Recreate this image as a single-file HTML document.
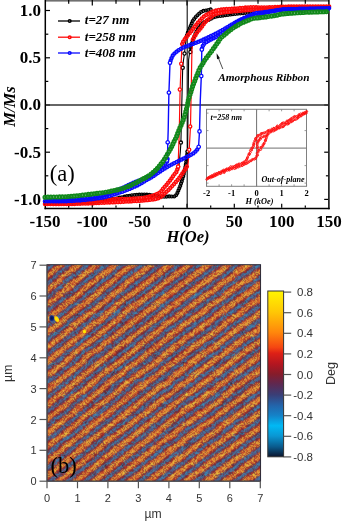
<!DOCTYPE html>
<html><head><meta charset="utf-8"><style>
html,body{margin:0;padding:0;background:#fff;width:342px;height:523px;overflow:hidden}
svg{display:block;will-change:transform}
</style></head><body>
<svg width="342" height="523" viewBox="0 0 342 523">
<rect x="45" y="0" width="284" height="1.6" fill="#707070"/>
<line x1="45.3" y1="0" x2="45.3" y2="209.2" stroke="#000" stroke-width="1.5"/>
<line x1="328.9" y1="0" x2="328.9" y2="209.2" stroke="#000" stroke-width="1.5"/>
<line x1="44.5" y1="208.5" x2="329.7" y2="208.5" stroke="#000" stroke-width="1.5"/>
<line x1="68.7" y1="207.8" x2="68.7" y2="205.5" stroke="#000" stroke-width="1.2"/>
<line x1="68.7" y1="0" x2="68.7" y2="3.8" stroke="#000" stroke-width="1.2"/>
<line x1="92.3" y1="207.8" x2="92.3" y2="203.8" stroke="#000" stroke-width="1.2"/>
<line x1="92.3" y1="0" x2="92.3" y2="5.5" stroke="#000" stroke-width="1.2"/>
<line x1="116.0" y1="207.8" x2="116.0" y2="205.5" stroke="#000" stroke-width="1.2"/>
<line x1="116.0" y1="0" x2="116.0" y2="3.8" stroke="#000" stroke-width="1.2"/>
<line x1="139.7" y1="207.8" x2="139.7" y2="203.8" stroke="#000" stroke-width="1.2"/>
<line x1="139.7" y1="0" x2="139.7" y2="5.5" stroke="#000" stroke-width="1.2"/>
<line x1="163.3" y1="207.8" x2="163.3" y2="205.5" stroke="#000" stroke-width="1.2"/>
<line x1="163.3" y1="0" x2="163.3" y2="3.8" stroke="#000" stroke-width="1.2"/>
<line x1="187.0" y1="207.8" x2="187.0" y2="203.8" stroke="#000" stroke-width="1.2"/>
<line x1="187.0" y1="0" x2="187.0" y2="5.5" stroke="#000" stroke-width="1.2"/>
<line x1="210.7" y1="207.8" x2="210.7" y2="205.5" stroke="#000" stroke-width="1.2"/>
<line x1="210.7" y1="0" x2="210.7" y2="3.8" stroke="#000" stroke-width="1.2"/>
<line x1="234.3" y1="207.8" x2="234.3" y2="203.8" stroke="#000" stroke-width="1.2"/>
<line x1="234.3" y1="0" x2="234.3" y2="5.5" stroke="#000" stroke-width="1.2"/>
<line x1="258.0" y1="207.8" x2="258.0" y2="205.5" stroke="#000" stroke-width="1.2"/>
<line x1="258.0" y1="0" x2="258.0" y2="3.8" stroke="#000" stroke-width="1.2"/>
<line x1="281.7" y1="207.8" x2="281.7" y2="203.8" stroke="#000" stroke-width="1.2"/>
<line x1="281.7" y1="0" x2="281.7" y2="5.5" stroke="#000" stroke-width="1.2"/>
<line x1="305.3" y1="207.8" x2="305.3" y2="205.5" stroke="#000" stroke-width="1.2"/>
<line x1="305.3" y1="0" x2="305.3" y2="3.8" stroke="#000" stroke-width="1.2"/>
<line x1="46" y1="199.4" x2="50.0" y2="199.4" stroke="#000" stroke-width="1.2"/>
<line x1="328.2" y1="199.4" x2="324.2" y2="199.4" stroke="#000" stroke-width="1.2"/>
<line x1="46" y1="175.8" x2="48.3" y2="175.8" stroke="#000" stroke-width="1.2"/>
<line x1="328.2" y1="175.8" x2="325.9" y2="175.8" stroke="#000" stroke-width="1.2"/>
<line x1="46" y1="152.2" x2="50.0" y2="152.2" stroke="#000" stroke-width="1.2"/>
<line x1="328.2" y1="152.2" x2="324.2" y2="152.2" stroke="#000" stroke-width="1.2"/>
<line x1="46" y1="128.6" x2="48.3" y2="128.6" stroke="#000" stroke-width="1.2"/>
<line x1="328.2" y1="128.6" x2="325.9" y2="128.6" stroke="#000" stroke-width="1.2"/>
<line x1="46" y1="105.0" x2="50.0" y2="105.0" stroke="#000" stroke-width="1.2"/>
<line x1="328.2" y1="105.0" x2="324.2" y2="105.0" stroke="#000" stroke-width="1.2"/>
<line x1="46" y1="81.4" x2="48.3" y2="81.4" stroke="#000" stroke-width="1.2"/>
<line x1="328.2" y1="81.4" x2="325.9" y2="81.4" stroke="#000" stroke-width="1.2"/>
<line x1="46" y1="57.8" x2="50.0" y2="57.8" stroke="#000" stroke-width="1.2"/>
<line x1="328.2" y1="57.8" x2="324.2" y2="57.8" stroke="#000" stroke-width="1.2"/>
<line x1="46" y1="34.2" x2="48.3" y2="34.2" stroke="#000" stroke-width="1.2"/>
<line x1="328.2" y1="34.2" x2="325.9" y2="34.2" stroke="#000" stroke-width="1.2"/>
<line x1="46" y1="10.5" x2="50.0" y2="10.5" stroke="#000" stroke-width="1.2"/>
<line x1="328.2" y1="10.5" x2="324.2" y2="10.5" stroke="#000" stroke-width="1.2"/>
<line x1="46" y1="105" x2="328.2" y2="105" stroke="#333" stroke-width="1.5"/>
<line x1="187.2" y1="1" x2="187.2" y2="208" stroke="#111" stroke-width="1.1"/>
<text x="41" y="15.8" font-family="&quot;Liberation Serif&quot;, serif" font-weight="bold" font-size="17" text-anchor="end">1.0</text>
<text x="41" y="63.1" font-family="&quot;Liberation Serif&quot;, serif" font-weight="bold" font-size="17" text-anchor="end">0.5</text>
<text x="41" y="110.3" font-family="&quot;Liberation Serif&quot;, serif" font-weight="bold" font-size="17" text-anchor="end">0.0</text>
<text x="41" y="157.5" font-family="&quot;Liberation Serif&quot;, serif" font-weight="bold" font-size="17" text-anchor="end">-0.5</text>
<text x="41" y="204.8" font-family="&quot;Liberation Serif&quot;, serif" font-weight="bold" font-size="17" text-anchor="end">-1.0</text>
<text x="45.0" y="227.4" font-family="&quot;Liberation Serif&quot;, serif" font-weight="bold" font-size="17" text-anchor="middle">-150</text>
<text x="92.3" y="227.4" font-family="&quot;Liberation Serif&quot;, serif" font-weight="bold" font-size="17" text-anchor="middle">-100</text>
<text x="139.7" y="227.4" font-family="&quot;Liberation Serif&quot;, serif" font-weight="bold" font-size="17" text-anchor="middle">-50</text>
<text x="187.0" y="227.4" font-family="&quot;Liberation Serif&quot;, serif" font-weight="bold" font-size="17" text-anchor="middle">0</text>
<text x="234.3" y="227.4" font-family="&quot;Liberation Serif&quot;, serif" font-weight="bold" font-size="17" text-anchor="middle">50</text>
<text x="281.7" y="227.4" font-family="&quot;Liberation Serif&quot;, serif" font-weight="bold" font-size="17" text-anchor="middle">100</text>
<text x="329.0" y="227.4" font-family="&quot;Liberation Serif&quot;, serif" font-weight="bold" font-size="17" text-anchor="middle">150</text>
<text x="188" y="241.5" font-family="&quot;Liberation Serif&quot;, serif" font-weight="bold" font-style="italic" font-size="16.5" text-anchor="middle">H(Oe)</text>
<text x="0" y="0" font-family="&quot;Liberation Serif&quot;, serif" font-weight="bold" font-style="italic" font-size="16.6" text-anchor="middle" transform="translate(15.3 106.5) rotate(-90)">M/Ms</text>
<text x="49.8" y="181.3" font-family="&quot;Liberation Serif&quot;, serif" font-size="22.5">(a)</text>
<polyline points="45.0,203.0 48.6,203.0 53.6,202.9 59.5,202.9 66.1,202.9 72.8,202.8 79.2,202.7 85.1,202.5 90.0,202.3 94.0,202.0 97.4,201.7 100.5,201.3 103.2,200.8 105.8,200.4 108.2,199.9 110.6,199.4 113.0,199.0 115.4,198.6 117.7,198.1 119.9,197.6 122.0,197.2 124.0,196.7 126.0,196.3 128.0,195.9 130.0,195.6 132.0,195.3 133.9,195.1 135.7,194.9 137.5,194.7 139.3,194.6 141.2,194.5 143.1,194.5 145.0,194.5 147.1,194.6 149.3,194.9 151.5,195.2 153.8,195.5 156.0,195.8 158.1,196.2 160.0,196.4 161.7,196.6 163.2,196.7 164.4,196.7 165.6,196.7 166.6,196.6 167.5,196.6 168.4,196.5 169.2,196.4 170.0,196.4 170.8,196.4 171.5,196.4 172.2,196.5 172.8,196.6 173.4,196.6 174.0,196.5 174.5,196.4 175.0,196.2 175.5,195.9 175.9,195.5 176.2,195.0 176.6,194.4 176.9,193.8 177.2,193.2 177.5,192.6 177.8,192.0 178.1,191.4 178.4,190.7 178.7,190.1 179.0,189.4 179.2,188.7 179.5,187.9 179.7,187.2 180.0,186.5 180.3,185.8 180.5,185.0 180.8,184.3 181.0,183.6 181.3,182.8 181.5,182.0 181.8,181.3 182.0,180.5 182.2,179.7 182.5,178.9 182.7,178.1 182.9,177.3 183.2,176.5 183.4,175.7 183.6,174.8 183.8,174.0 184.0,173.2 184.2,172.3 184.4,171.5 184.6,170.6 184.8,169.7 184.9,168.8 185.1,167.9 185.3,167.0 185.5,166.0 185.6,165.1 185.8,164.1 186.0,163.0 186.1,162.0 186.3,161.0 186.5,160.0 186.6,159.0 186.7,158.0 186.9,156.9 187.0,155.8 187.2,154.8 187.3,153.7 187.4,152.8 187.5,152.1 187.6,151.5" fill="none" stroke="#000" stroke-width="1" stroke-linejoin="round"/>
<path d="M43.6,203.0a1.4,1.4 0 1,0 2.8,0a1.4,1.4 0 1,0 -2.8,0M46.1,203.0a1.4,1.4 0 1,0 2.8,0a1.4,1.4 0 1,0 -2.8,0M48.6,203.0a1.4,1.4 0 1,0 2.8,0a1.4,1.4 0 1,0 -2.8,0M51.1,202.9a1.4,1.4 0 1,0 2.8,0a1.4,1.4 0 1,0 -2.8,0M53.6,202.9a1.4,1.4 0 1,0 2.8,0a1.4,1.4 0 1,0 -2.8,0M56.1,202.9a1.4,1.4 0 1,0 2.8,0a1.4,1.4 0 1,0 -2.8,0M58.6,202.9a1.4,1.4 0 1,0 2.8,0a1.4,1.4 0 1,0 -2.8,0M61.1,202.9a1.4,1.4 0 1,0 2.8,0a1.4,1.4 0 1,0 -2.8,0M63.6,202.9a1.4,1.4 0 1,0 2.8,0a1.4,1.4 0 1,0 -2.8,0M66.1,202.8a1.4,1.4 0 1,0 2.8,0a1.4,1.4 0 1,0 -2.8,0M68.6,202.8a1.4,1.4 0 1,0 2.8,0a1.4,1.4 0 1,0 -2.8,0M71.1,202.8a1.4,1.4 0 1,0 2.8,0a1.4,1.4 0 1,0 -2.8,0M73.6,202.7a1.4,1.4 0 1,0 2.8,0a1.4,1.4 0 1,0 -2.8,0M76.1,202.7a1.4,1.4 0 1,0 2.8,0a1.4,1.4 0 1,0 -2.8,0M78.6,202.7a1.4,1.4 0 1,0 2.8,0a1.4,1.4 0 1,0 -2.8,0M81.1,202.6a1.4,1.4 0 1,0 2.8,0a1.4,1.4 0 1,0 -2.8,0M83.6,202.5a1.4,1.4 0 1,0 2.8,0a1.4,1.4 0 1,0 -2.8,0M86.1,202.4a1.4,1.4 0 1,0 2.8,0a1.4,1.4 0 1,0 -2.8,0M88.6,202.3a1.4,1.4 0 1,0 2.8,0a1.4,1.4 0 1,0 -2.8,0M91.1,202.1a1.4,1.4 0 1,0 2.8,0a1.4,1.4 0 1,0 -2.8,0M93.6,201.9a1.4,1.4 0 1,0 2.8,0a1.4,1.4 0 1,0 -2.8,0M96.1,201.7a1.4,1.4 0 1,0 2.8,0a1.4,1.4 0 1,0 -2.8,0M98.5,201.3a1.4,1.4 0 1,0 2.8,0a1.4,1.4 0 1,0 -2.8,0M101.0,201.0a1.4,1.4 0 1,0 2.8,0a1.4,1.4 0 1,0 -2.8,0M103.5,200.5a1.4,1.4 0 1,0 2.8,0a1.4,1.4 0 1,0 -2.8,0M105.9,200.1a1.4,1.4 0 1,0 2.8,0a1.4,1.4 0 1,0 -2.8,0M108.4,199.6a1.4,1.4 0 1,0 2.8,0a1.4,1.4 0 1,0 -2.8,0M110.8,199.1a1.4,1.4 0 1,0 2.8,0a1.4,1.4 0 1,0 -2.8,0M113.3,198.7a1.4,1.4 0 1,0 2.8,0a1.4,1.4 0 1,0 -2.8,0M115.8,198.2a1.4,1.4 0 1,0 2.8,0a1.4,1.4 0 1,0 -2.8,0M118.2,197.7a1.4,1.4 0 1,0 2.8,0a1.4,1.4 0 1,0 -2.8,0M120.6,197.2a1.4,1.4 0 1,0 2.8,0a1.4,1.4 0 1,0 -2.8,0M123.1,196.6a1.4,1.4 0 1,0 2.8,0a1.4,1.4 0 1,0 -2.8,0M125.5,196.1a1.4,1.4 0 1,0 2.8,0a1.4,1.4 0 1,0 -2.8,0M128.0,195.7a1.4,1.4 0 1,0 2.8,0a1.4,1.4 0 1,0 -2.8,0M130.5,195.3a1.4,1.4 0 1,0 2.8,0a1.4,1.4 0 1,0 -2.8,0M133.0,195.0a1.4,1.4 0 1,0 2.8,0a1.4,1.4 0 1,0 -2.8,0M135.4,194.8a1.4,1.4 0 1,0 2.8,0a1.4,1.4 0 1,0 -2.8,0M137.9,194.6a1.4,1.4 0 1,0 2.8,0a1.4,1.4 0 1,0 -2.8,0M140.4,194.5a1.4,1.4 0 1,0 2.8,0a1.4,1.4 0 1,0 -2.8,0M142.9,194.5a1.4,1.4 0 1,0 2.8,0a1.4,1.4 0 1,0 -2.8,0M145.4,194.6a1.4,1.4 0 1,0 2.8,0a1.4,1.4 0 1,0 -2.8,0M147.9,194.9a1.4,1.4 0 1,0 2.8,0a1.4,1.4 0 1,0 -2.8,0M150.4,195.2a1.4,1.4 0 1,0 2.8,0a1.4,1.4 0 1,0 -2.8,0M152.9,195.6a1.4,1.4 0 1,0 2.8,0a1.4,1.4 0 1,0 -2.8,0M155.3,196.0a1.4,1.4 0 1,0 2.8,0a1.4,1.4 0 1,0 -2.8,0M157.8,196.3a1.4,1.4 0 1,0 2.8,0a1.4,1.4 0 1,0 -2.8,0M160.3,196.6a1.4,1.4 0 1,0 2.8,0a1.4,1.4 0 1,0 -2.8,0M162.8,196.7a1.4,1.4 0 1,0 2.8,0a1.4,1.4 0 1,0 -2.8,0M165.3,196.6a1.4,1.4 0 1,0 2.8,0a1.4,1.4 0 1,0 -2.8,0M167.8,196.4a1.4,1.4 0 1,0 2.8,0a1.4,1.4 0 1,0 -2.8,0M170.3,196.5a1.4,1.4 0 1,0 2.8,0a1.4,1.4 0 1,0 -2.8,0M172.8,196.5a1.4,1.4 0 1,0 2.8,0a1.4,1.4 0 1,0 -2.8,0M174.8,195.1a1.4,1.4 0 1,0 2.8,0a1.4,1.4 0 1,0 -2.8,0M176.0,192.9a1.4,1.4 0 1,0 2.8,0a1.4,1.4 0 1,0 -2.8,0M177.0,190.6a1.4,1.4 0 1,0 2.8,0a1.4,1.4 0 1,0 -2.8,0M177.9,188.3a1.4,1.4 0 1,0 2.8,0a1.4,1.4 0 1,0 -2.8,0M178.8,186.0a1.4,1.4 0 1,0 2.8,0a1.4,1.4 0 1,0 -2.8,0M179.6,183.6a1.4,1.4 0 1,0 2.8,0a1.4,1.4 0 1,0 -2.8,0M180.4,181.2a1.4,1.4 0 1,0 2.8,0a1.4,1.4 0 1,0 -2.8,0M181.1,178.8a1.4,1.4 0 1,0 2.8,0a1.4,1.4 0 1,0 -2.8,0M181.8,176.4a1.4,1.4 0 1,0 2.8,0a1.4,1.4 0 1,0 -2.8,0M182.4,174.0a1.4,1.4 0 1,0 2.8,0a1.4,1.4 0 1,0 -2.8,0M183.0,171.6a1.4,1.4 0 1,0 2.8,0a1.4,1.4 0 1,0 -2.8,0M183.5,169.1a1.4,1.4 0 1,0 2.8,0a1.4,1.4 0 1,0 -2.8,0M184.0,166.7a1.4,1.4 0 1,0 2.8,0a1.4,1.4 0 1,0 -2.8,0M184.4,164.2a1.4,1.4 0 1,0 2.8,0a1.4,1.4 0 1,0 -2.8,0M184.8,161.7a1.4,1.4 0 1,0 2.8,0a1.4,1.4 0 1,0 -2.8,0M185.2,159.3a1.4,1.4 0 1,0 2.8,0a1.4,1.4 0 1,0 -2.8,0M185.5,156.8a1.4,1.4 0 1,0 2.8,0a1.4,1.4 0 1,0 -2.8,0M185.8,154.3a1.4,1.4 0 1,0 2.8,0a1.4,1.4 0 1,0 -2.8,0M186.2,151.8a1.4,1.4 0 1,0 2.8,0a1.4,1.4 0 1,0 -2.8,0" fill="none" stroke="#000" stroke-width="1.35"/>
<polyline points="190.4,48.0 190.5,47.6 190.7,47.1 190.8,46.6 191.0,45.9 191.3,45.2 191.5,44.5 191.7,43.8 192.0,43.0 192.3,42.2 192.5,41.4 192.8,40.5 193.1,39.6 193.4,38.7 193.8,37.8 194.1,36.9 194.5,36.0 194.9,35.1 195.3,34.2 195.7,33.3 196.2,32.4 196.6,31.5 197.1,30.6 197.5,29.8 198.0,29.0 198.5,28.3 199.0,27.6 199.5,26.9 200.0,26.2 200.5,25.6 201.0,25.1 201.5,24.5 202.0,24.0 202.5,23.5 203.0,23.1 203.5,22.7 204.0,22.3 204.5,21.9 205.0,21.6 205.5,21.3 206.0,21.0 206.5,20.7 207.0,20.5 207.5,20.3 207.9,20.1 208.4,19.9 208.9,19.8 209.5,19.5 210.0,19.3 210.5,19.0 211.1,18.7 211.6,18.4 212.1,18.0 212.7,17.7 213.4,17.4 214.1,17.1 215.0,16.8 216.0,16.6 217.1,16.4 218.4,16.2 219.7,16.0 221.0,15.8 222.4,15.6 223.7,15.5 225.0,15.3 226.2,15.1 227.5,14.9 228.8,14.7 230.0,14.6 231.2,14.4 232.5,14.2 233.8,14.1 235.0,13.9 236.2,13.8 237.5,13.6 238.8,13.5 240.0,13.4 241.2,13.3 242.5,13.2 243.8,13.1 245.0,13.0 246.3,12.9 247.7,12.7 249.2,12.6 250.6,12.4 252.0,12.3 253.2,12.2 254.2,12.1 255.0,12.0" fill="none" stroke="#000" stroke-width="1" stroke-linejoin="round"/>
<path d="M189.0,48.0a1.4,1.4 0 1,0 2.8,0a1.4,1.4 0 1,0 -2.8,0M189.7,45.6a1.4,1.4 0 1,0 2.8,0a1.4,1.4 0 1,0 -2.8,0M190.5,43.2a1.4,1.4 0 1,0 2.8,0a1.4,1.4 0 1,0 -2.8,0M191.3,40.9a1.4,1.4 0 1,0 2.8,0a1.4,1.4 0 1,0 -2.8,0M192.1,38.5a1.4,1.4 0 1,0 2.8,0a1.4,1.4 0 1,0 -2.8,0M193.0,36.2a1.4,1.4 0 1,0 2.8,0a1.4,1.4 0 1,0 -2.8,0M194.0,33.9a1.4,1.4 0 1,0 2.8,0a1.4,1.4 0 1,0 -2.8,0M195.1,31.6a1.4,1.4 0 1,0 2.8,0a1.4,1.4 0 1,0 -2.8,0M196.3,29.4a1.4,1.4 0 1,0 2.8,0a1.4,1.4 0 1,0 -2.8,0M197.7,27.4a1.4,1.4 0 1,0 2.8,0a1.4,1.4 0 1,0 -2.8,0M199.3,25.4a1.4,1.4 0 1,0 2.8,0a1.4,1.4 0 1,0 -2.8,0M201.0,23.6a1.4,1.4 0 1,0 2.8,0a1.4,1.4 0 1,0 -2.8,0M203.0,22.0a1.4,1.4 0 1,0 2.8,0a1.4,1.4 0 1,0 -2.8,0M205.1,20.7a1.4,1.4 0 1,0 2.8,0a1.4,1.4 0 1,0 -2.8,0M207.4,19.8a1.4,1.4 0 1,0 2.8,0a1.4,1.4 0 1,0 -2.8,0M209.6,18.7a1.4,1.4 0 1,0 2.8,0a1.4,1.4 0 1,0 -2.8,0M211.8,17.5a1.4,1.4 0 1,0 2.8,0a1.4,1.4 0 1,0 -2.8,0M214.2,16.7a1.4,1.4 0 1,0 2.8,0a1.4,1.4 0 1,0 -2.8,0M216.6,16.2a1.4,1.4 0 1,0 2.8,0a1.4,1.4 0 1,0 -2.8,0M219.1,15.9a1.4,1.4 0 1,0 2.8,0a1.4,1.4 0 1,0 -2.8,0M221.6,15.6a1.4,1.4 0 1,0 2.8,0a1.4,1.4 0 1,0 -2.8,0M224.1,15.2a1.4,1.4 0 1,0 2.8,0a1.4,1.4 0 1,0 -2.8,0M226.5,14.9a1.4,1.4 0 1,0 2.8,0a1.4,1.4 0 1,0 -2.8,0M229.0,14.5a1.4,1.4 0 1,0 2.8,0a1.4,1.4 0 1,0 -2.8,0M231.5,14.2a1.4,1.4 0 1,0 2.8,0a1.4,1.4 0 1,0 -2.8,0M234.0,13.9a1.4,1.4 0 1,0 2.8,0a1.4,1.4 0 1,0 -2.8,0M236.5,13.6a1.4,1.4 0 1,0 2.8,0a1.4,1.4 0 1,0 -2.8,0M238.9,13.4a1.4,1.4 0 1,0 2.8,0a1.4,1.4 0 1,0 -2.8,0M241.4,13.2a1.4,1.4 0 1,0 2.8,0a1.4,1.4 0 1,0 -2.8,0M243.9,13.0a1.4,1.4 0 1,0 2.8,0a1.4,1.4 0 1,0 -2.8,0M246.4,12.7a1.4,1.4 0 1,0 2.8,0a1.4,1.4 0 1,0 -2.8,0M248.9,12.5a1.4,1.4 0 1,0 2.8,0a1.4,1.4 0 1,0 -2.8,0M251.4,12.2a1.4,1.4 0 1,0 2.8,0a1.4,1.4 0 1,0 -2.8,0" fill="none" stroke="#000" stroke-width="1.35"/>
<polyline points="210.7,9.4 210.4,9.5 210.1,9.6 209.6,9.7 209.2,9.8 208.7,10.0 208.2,10.1 207.7,10.2 207.2,10.3 206.8,10.4 206.3,10.4 205.9,10.5 205.4,10.5 205.0,10.5 204.6,10.6 204.1,10.7 203.7,10.8 203.3,11.0 202.8,11.1 202.4,11.3 201.9,11.5 201.5,11.7 201.1,12.0 200.6,12.3 200.2,12.6 199.8,13.0 199.3,13.3 198.9,13.8 198.4,14.2 198.0,14.7 197.6,15.1 197.1,15.6 196.7,16.1 196.3,16.6 195.8,17.1 195.3,17.5 194.9,18.0 194.4,18.5 194.0,19.1 193.6,19.6 193.2,20.2 192.8,20.8 192.5,21.5 192.2,22.2 191.9,22.9 191.6,23.6 191.3,24.2 191.1,24.9 190.8,25.5 190.6,26.1 190.3,26.6 190.1,27.1 190.0,27.6 189.8,28.1 189.6,28.6 189.4,29.0 189.2,29.5 189.0,30.0 188.8,30.4 188.6,30.8 188.4,31.2 188.2,31.6 188.0,32.0 187.8,32.5 187.6,33.0 187.4,33.6 187.2,34.3 187.0,35.0 186.8,35.7 186.7,36.4 186.5,37.1 186.4,37.6 186.3,38.0" fill="none" stroke="#000" stroke-width="1" stroke-linejoin="round"/>
<path d="M209.3,9.4a1.4,1.4 0 1,0 2.8,0a1.4,1.4 0 1,0 -2.8,0M206.9,10.0a1.4,1.4 0 1,0 2.8,0a1.4,1.4 0 1,0 -2.8,0M204.4,10.5a1.4,1.4 0 1,0 2.8,0a1.4,1.4 0 1,0 -2.8,0M202.0,10.9a1.4,1.4 0 1,0 2.8,0a1.4,1.4 0 1,0 -2.8,0M199.7,12.0a1.4,1.4 0 1,0 2.8,0a1.4,1.4 0 1,0 -2.8,0M197.8,13.5a1.4,1.4 0 1,0 2.8,0a1.4,1.4 0 1,0 -2.8,0M196.0,15.3a1.4,1.4 0 1,0 2.8,0a1.4,1.4 0 1,0 -2.8,0M194.3,17.1a1.4,1.4 0 1,0 2.8,0a1.4,1.4 0 1,0 -2.8,0M192.7,19.0a1.4,1.4 0 1,0 2.8,0a1.4,1.4 0 1,0 -2.8,0M191.3,21.1a1.4,1.4 0 1,0 2.8,0a1.4,1.4 0 1,0 -2.8,0M190.3,23.4a1.4,1.4 0 1,0 2.8,0a1.4,1.4 0 1,0 -2.8,0M189.3,25.7a1.4,1.4 0 1,0 2.8,0a1.4,1.4 0 1,0 -2.8,0M188.4,28.0a1.4,1.4 0 1,0 2.8,0a1.4,1.4 0 1,0 -2.8,0M187.4,30.3a1.4,1.4 0 1,0 2.8,0a1.4,1.4 0 1,0 -2.8,0M186.4,32.6a1.4,1.4 0 1,0 2.8,0a1.4,1.4 0 1,0 -2.8,0M185.6,35.0a1.4,1.4 0 1,0 2.8,0a1.4,1.4 0 1,0 -2.8,0M185.0,37.4a1.4,1.4 0 1,0 2.8,0a1.4,1.4 0 1,0 -2.8,0" fill="none" stroke="#000" stroke-width="1.35"/>
<polyline points="186.3,38.0 185.3,45.0 184.5,53.5 183.5,60.0 182.7,67.7 181.9,100.0 180.9,142.6" fill="none" stroke="#000" stroke-width="1.1"/>
<polyline points="180.9,142.6 180.3,152.0 179.5,160.0 178.8,168.0" fill="none" stroke="#000" stroke-width="1.1"/>
<polyline points="187.6,151.5 188.2,100.0 188.6,60.0 189.4,54.0 190.4,52.0 190.4,48.0" fill="none" stroke="#000" stroke-width="1.1"/>
<path d="M182.9,53.5a1.6,1.6 0 1,0 3.2,0a1.6,1.6 0 1,0 -3.2,0M181.1,67.7a1.6,1.6 0 1,0 3.2,0a1.6,1.6 0 1,0 -3.2,0M179.3,142.6a1.6,1.6 0 1,0 3.2,0a1.6,1.6 0 1,0 -3.2,0M186.0,151.5a1.6,1.6 0 1,0 3.2,0a1.6,1.6 0 1,0 -3.2,0M188.8,52.0a1.6,1.6 0 1,0 3.2,0a1.6,1.6 0 1,0 -3.2,0" fill="#fff" stroke="#000" stroke-width="1.3"/>
<polyline points="178.1,166.8 178.0,167.1 177.9,167.6 177.7,168.2 177.6,168.8 177.4,169.4 177.2,170.0 177.0,170.6 176.7,171.2 176.4,171.7 176.1,172.1 175.8,172.6 175.5,173.0 175.2,173.4 174.8,173.9 174.4,174.4 173.9,175.0 173.4,175.7 172.9,176.4 172.3,177.2 171.7,178.1 171.1,178.9 170.5,179.8 169.8,180.7 169.2,181.5 168.5,182.3 167.9,183.2 167.2,184.0 166.5,184.9 165.7,185.7 165.0,186.5 164.3,187.3 163.6,188.1 163.0,188.9 162.4,189.6 161.8,190.4 161.3,191.1 160.6,191.8 159.9,192.4 159.1,193.1 158.0,193.7 156.7,194.3 155.3,194.8 153.8,195.4 152.1,195.9 150.3,196.3 148.6,196.8 146.8,197.2 145.0,197.5 143.2,197.8 141.4,198.0 139.5,198.2 137.6,198.4 135.7,198.5 133.8,198.6 131.9,198.7 130.0,198.8 128.2,198.9 126.5,198.9 124.8,198.9 123.1,199.0 121.4,199.0 119.5,199.0 117.4,199.1 115.0,199.2 112.3,199.4 109.4,199.6 106.2,199.9 102.9,200.2 99.5,200.5 96.2,200.8 93.0,201.1 90.0,201.3 87.2,201.5 84.5,201.6 82.0,201.8 79.4,201.9 76.9,202.0 74.4,202.1 71.7,202.1 69.0,202.2 66.0,202.3 62.6,202.3 59.2,202.3 55.7,202.3 52.4,202.3 49.4,202.3 46.9,202.3 45.0,202.3" fill="none" stroke="#ff0a0a" stroke-width="1" stroke-linejoin="round"/>
<path d="M176.7,166.8a1.45,1.45 0 1,0 2.9,0a1.45,1.45 0 1,0 -2.9,0M175.9,169.4a1.45,1.45 0 1,0 2.9,0a1.45,1.45 0 1,0 -2.9,0M174.9,171.9a1.45,1.45 0 1,0 2.9,0a1.45,1.45 0 1,0 -2.9,0M173.2,174.0a1.45,1.45 0 1,0 2.9,0a1.45,1.45 0 1,0 -2.9,0M171.6,176.2a1.45,1.45 0 1,0 2.9,0a1.45,1.45 0 1,0 -2.9,0M170.1,178.4a1.45,1.45 0 1,0 2.9,0a1.45,1.45 0 1,0 -2.9,0M168.5,180.6a1.45,1.45 0 1,0 2.9,0a1.45,1.45 0 1,0 -2.9,0M166.8,182.7a1.45,1.45 0 1,0 2.9,0a1.45,1.45 0 1,0 -2.9,0M165.1,184.8a1.45,1.45 0 1,0 2.9,0a1.45,1.45 0 1,0 -2.9,0M163.3,186.8a1.45,1.45 0 1,0 2.9,0a1.45,1.45 0 1,0 -2.9,0M161.5,188.8a1.45,1.45 0 1,0 2.9,0a1.45,1.45 0 1,0 -2.9,0M159.9,191.0a1.45,1.45 0 1,0 2.9,0a1.45,1.45 0 1,0 -2.9,0M157.9,192.8a1.45,1.45 0 1,0 2.9,0a1.45,1.45 0 1,0 -2.9,0M155.6,194.1a1.45,1.45 0 1,0 2.9,0a1.45,1.45 0 1,0 -2.9,0M153.1,195.1a1.45,1.45 0 1,0 2.9,0a1.45,1.45 0 1,0 -2.9,0M150.5,195.9a1.45,1.45 0 1,0 2.9,0a1.45,1.45 0 1,0 -2.9,0M147.9,196.6a1.45,1.45 0 1,0 2.9,0a1.45,1.45 0 1,0 -2.9,0M145.2,197.2a1.45,1.45 0 1,0 2.9,0a1.45,1.45 0 1,0 -2.9,0M142.6,197.7a1.45,1.45 0 1,0 2.9,0a1.45,1.45 0 1,0 -2.9,0M139.9,198.0a1.45,1.45 0 1,0 2.9,0a1.45,1.45 0 1,0 -2.9,0M137.2,198.3a1.45,1.45 0 1,0 2.9,0a1.45,1.45 0 1,0 -2.9,0M134.5,198.5a1.45,1.45 0 1,0 2.9,0a1.45,1.45 0 1,0 -2.9,0M131.8,198.6a1.45,1.45 0 1,0 2.9,0a1.45,1.45 0 1,0 -2.9,0M129.1,198.8a1.45,1.45 0 1,0 2.9,0a1.45,1.45 0 1,0 -2.9,0M126.4,198.9a1.45,1.45 0 1,0 2.9,0a1.45,1.45 0 1,0 -2.9,0M123.7,198.9a1.45,1.45 0 1,0 2.9,0a1.45,1.45 0 1,0 -2.9,0M121.0,199.0a1.45,1.45 0 1,0 2.9,0a1.45,1.45 0 1,0 -2.9,0M118.3,199.0a1.45,1.45 0 1,0 2.9,0a1.45,1.45 0 1,0 -2.9,0M115.6,199.1a1.45,1.45 0 1,0 2.9,0a1.45,1.45 0 1,0 -2.9,0M112.9,199.2a1.45,1.45 0 1,0 2.9,0a1.45,1.45 0 1,0 -2.9,0M110.2,199.4a1.45,1.45 0 1,0 2.9,0a1.45,1.45 0 1,0 -2.9,0M107.6,199.7a1.45,1.45 0 1,0 2.9,0a1.45,1.45 0 1,0 -2.9,0M104.9,199.9a1.45,1.45 0 1,0 2.9,0a1.45,1.45 0 1,0 -2.9,0M102.2,200.1a1.45,1.45 0 1,0 2.9,0a1.45,1.45 0 1,0 -2.9,0M99.5,200.4a1.45,1.45 0 1,0 2.9,0a1.45,1.45 0 1,0 -2.9,0M96.8,200.6a1.45,1.45 0 1,0 2.9,0a1.45,1.45 0 1,0 -2.9,0M94.1,200.9a1.45,1.45 0 1,0 2.9,0a1.45,1.45 0 1,0 -2.9,0M91.4,201.1a1.45,1.45 0 1,0 2.9,0a1.45,1.45 0 1,0 -2.9,0M88.7,201.3a1.45,1.45 0 1,0 2.9,0a1.45,1.45 0 1,0 -2.9,0M86.0,201.5a1.45,1.45 0 1,0 2.9,0a1.45,1.45 0 1,0 -2.9,0M83.3,201.6a1.45,1.45 0 1,0 2.9,0a1.45,1.45 0 1,0 -2.9,0M80.6,201.8a1.45,1.45 0 1,0 2.9,0a1.45,1.45 0 1,0 -2.9,0M77.9,201.9a1.45,1.45 0 1,0 2.9,0a1.45,1.45 0 1,0 -2.9,0M75.2,202.0a1.45,1.45 0 1,0 2.9,0a1.45,1.45 0 1,0 -2.9,0M72.5,202.1a1.45,1.45 0 1,0 2.9,0a1.45,1.45 0 1,0 -2.9,0M69.9,202.1a1.45,1.45 0 1,0 2.9,0a1.45,1.45 0 1,0 -2.9,0M67.2,202.2a1.45,1.45 0 1,0 2.9,0a1.45,1.45 0 1,0 -2.9,0M64.5,202.3a1.45,1.45 0 1,0 2.9,0a1.45,1.45 0 1,0 -2.9,0M61.8,202.3a1.45,1.45 0 1,0 2.9,0a1.45,1.45 0 1,0 -2.9,0M59.1,202.3a1.45,1.45 0 1,0 2.9,0a1.45,1.45 0 1,0 -2.9,0M56.4,202.3a1.45,1.45 0 1,0 2.9,0a1.45,1.45 0 1,0 -2.9,0M53.7,202.3a1.45,1.45 0 1,0 2.9,0a1.45,1.45 0 1,0 -2.9,0M51.0,202.3a1.45,1.45 0 1,0 2.9,0a1.45,1.45 0 1,0 -2.9,0M48.3,202.3a1.45,1.45 0 1,0 2.9,0a1.45,1.45 0 1,0 -2.9,0M45.6,202.3a1.45,1.45 0 1,0 2.9,0a1.45,1.45 0 1,0 -2.9,0" fill="none" stroke="#ff0a0a" stroke-width="1.6"/>
<polyline points="45.0,204.1 46.9,204.1 49.4,204.1 52.4,204.1 55.7,204.1 59.2,204.1 62.6,204.1 66.0,204.0 69.0,204.0 71.7,203.9 74.4,203.9 76.9,203.8 79.4,203.7 82.0,203.6 84.5,203.5 87.2,203.4 90.0,203.3 93.0,203.2 96.2,203.0 99.5,202.9 102.9,202.8 106.2,202.6 109.4,202.5 112.3,202.3 115.0,202.2 117.4,202.1 119.5,202.0 121.4,201.9 123.1,201.8 124.8,201.7 126.5,201.6 128.2,201.5 130.0,201.4 131.9,201.3 133.8,201.2 135.7,201.0 137.6,200.9 139.5,200.8 141.4,200.6 143.2,200.5 145.0,200.3 146.8,200.1 148.5,200.0 150.3,199.8 152.0,199.6 153.6,199.4 155.2,199.2 156.7,198.8 158.0,198.4 159.2,197.9 160.3,197.3 161.3,196.6 162.2,195.8 163.0,195.1 163.8,194.3 164.6,193.5 165.5,192.7 166.4,191.9 167.2,191.2 168.0,190.4 168.8,189.6 169.6,188.7 170.4,187.9 171.2,187.1 172.0,186.2 172.8,185.3 173.7,184.4 174.6,183.4 175.4,182.4 176.3,181.5 177.1,180.5 177.9,179.6 178.6,178.7 179.3,177.8 179.9,177.0 180.5,176.2 181.1,175.4 181.6,174.7 182.2,173.9 182.7,173.1 183.3,172.2 183.9,171.3 184.6,170.2 185.3,169.1 185.9,168.0 186.6,167.0 187.2,166.1 187.6,165.3 188.0,164.7" fill="none" stroke="#ff0a0a" stroke-width="1" stroke-linejoin="round"/>
<path d="M43.5,204.1a1.45,1.45 0 1,0 2.9,0a1.45,1.45 0 1,0 -2.9,0M46.2,204.1a1.45,1.45 0 1,0 2.9,0a1.45,1.45 0 1,0 -2.9,0M48.9,204.1a1.45,1.45 0 1,0 2.9,0a1.45,1.45 0 1,0 -2.9,0M51.6,204.1a1.45,1.45 0 1,0 2.9,0a1.45,1.45 0 1,0 -2.9,0M54.3,204.1a1.45,1.45 0 1,0 2.9,0a1.45,1.45 0 1,0 -2.9,0M57.0,204.1a1.45,1.45 0 1,0 2.9,0a1.45,1.45 0 1,0 -2.9,0M59.7,204.1a1.45,1.45 0 1,0 2.9,0a1.45,1.45 0 1,0 -2.9,0M62.4,204.1a1.45,1.45 0 1,0 2.9,0a1.45,1.45 0 1,0 -2.9,0M65.1,204.0a1.45,1.45 0 1,0 2.9,0a1.45,1.45 0 1,0 -2.9,0M67.8,204.0a1.45,1.45 0 1,0 2.9,0a1.45,1.45 0 1,0 -2.9,0M70.5,203.9a1.45,1.45 0 1,0 2.9,0a1.45,1.45 0 1,0 -2.9,0M73.2,203.9a1.45,1.45 0 1,0 2.9,0a1.45,1.45 0 1,0 -2.9,0M75.9,203.8a1.45,1.45 0 1,0 2.9,0a1.45,1.45 0 1,0 -2.9,0M78.6,203.7a1.45,1.45 0 1,0 2.9,0a1.45,1.45 0 1,0 -2.9,0M81.3,203.6a1.45,1.45 0 1,0 2.9,0a1.45,1.45 0 1,0 -2.9,0M84.0,203.5a1.45,1.45 0 1,0 2.9,0a1.45,1.45 0 1,0 -2.9,0M86.7,203.4a1.45,1.45 0 1,0 2.9,0a1.45,1.45 0 1,0 -2.9,0M89.4,203.3a1.45,1.45 0 1,0 2.9,0a1.45,1.45 0 1,0 -2.9,0M92.1,203.2a1.45,1.45 0 1,0 2.9,0a1.45,1.45 0 1,0 -2.9,0M94.8,203.0a1.45,1.45 0 1,0 2.9,0a1.45,1.45 0 1,0 -2.9,0M97.5,202.9a1.45,1.45 0 1,0 2.9,0a1.45,1.45 0 1,0 -2.9,0M100.2,202.8a1.45,1.45 0 1,0 2.9,0a1.45,1.45 0 1,0 -2.9,0M102.9,202.7a1.45,1.45 0 1,0 2.9,0a1.45,1.45 0 1,0 -2.9,0M105.6,202.6a1.45,1.45 0 1,0 2.9,0a1.45,1.45 0 1,0 -2.9,0M108.3,202.4a1.45,1.45 0 1,0 2.9,0a1.45,1.45 0 1,0 -2.9,0M111.0,202.3a1.45,1.45 0 1,0 2.9,0a1.45,1.45 0 1,0 -2.9,0M113.7,202.2a1.45,1.45 0 1,0 2.9,0a1.45,1.45 0 1,0 -2.9,0M116.4,202.1a1.45,1.45 0 1,0 2.9,0a1.45,1.45 0 1,0 -2.9,0M119.1,201.9a1.45,1.45 0 1,0 2.9,0a1.45,1.45 0 1,0 -2.9,0M121.8,201.8a1.45,1.45 0 1,0 2.9,0a1.45,1.45 0 1,0 -2.9,0M124.5,201.6a1.45,1.45 0 1,0 2.9,0a1.45,1.45 0 1,0 -2.9,0M127.2,201.5a1.45,1.45 0 1,0 2.9,0a1.45,1.45 0 1,0 -2.9,0M129.9,201.3a1.45,1.45 0 1,0 2.9,0a1.45,1.45 0 1,0 -2.9,0M132.6,201.1a1.45,1.45 0 1,0 2.9,0a1.45,1.45 0 1,0 -2.9,0M135.3,201.0a1.45,1.45 0 1,0 2.9,0a1.45,1.45 0 1,0 -2.9,0M138.0,200.8a1.45,1.45 0 1,0 2.9,0a1.45,1.45 0 1,0 -2.9,0M140.7,200.6a1.45,1.45 0 1,0 2.9,0a1.45,1.45 0 1,0 -2.9,0M143.4,200.3a1.45,1.45 0 1,0 2.9,0a1.45,1.45 0 1,0 -2.9,0M146.0,200.1a1.45,1.45 0 1,0 2.9,0a1.45,1.45 0 1,0 -2.9,0M148.7,199.8a1.45,1.45 0 1,0 2.9,0a1.45,1.45 0 1,0 -2.9,0M151.4,199.5a1.45,1.45 0 1,0 2.9,0a1.45,1.45 0 1,0 -2.9,0M154.1,199.1a1.45,1.45 0 1,0 2.9,0a1.45,1.45 0 1,0 -2.9,0M156.7,198.3a1.45,1.45 0 1,0 2.9,0a1.45,1.45 0 1,0 -2.9,0M159.1,197.1a1.45,1.45 0 1,0 2.9,0a1.45,1.45 0 1,0 -2.9,0M161.2,195.4a1.45,1.45 0 1,0 2.9,0a1.45,1.45 0 1,0 -2.9,0M163.1,193.6a1.45,1.45 0 1,0 2.9,0a1.45,1.45 0 1,0 -2.9,0M165.1,191.7a1.45,1.45 0 1,0 2.9,0a1.45,1.45 0 1,0 -2.9,0M167.1,189.9a1.45,1.45 0 1,0 2.9,0a1.45,1.45 0 1,0 -2.9,0M168.9,187.9a1.45,1.45 0 1,0 2.9,0a1.45,1.45 0 1,0 -2.9,0M170.8,186.0a1.45,1.45 0 1,0 2.9,0a1.45,1.45 0 1,0 -2.9,0M172.6,184.0a1.45,1.45 0 1,0 2.9,0a1.45,1.45 0 1,0 -2.9,0M174.4,181.9a1.45,1.45 0 1,0 2.9,0a1.45,1.45 0 1,0 -2.9,0M176.2,179.9a1.45,1.45 0 1,0 2.9,0a1.45,1.45 0 1,0 -2.9,0M177.9,177.8a1.45,1.45 0 1,0 2.9,0a1.45,1.45 0 1,0 -2.9,0M179.5,175.6a1.45,1.45 0 1,0 2.9,0a1.45,1.45 0 1,0 -2.9,0M181.0,173.4a1.45,1.45 0 1,0 2.9,0a1.45,1.45 0 1,0 -2.9,0M182.5,171.2a1.45,1.45 0 1,0 2.9,0a1.45,1.45 0 1,0 -2.9,0M184.0,168.9a1.45,1.45 0 1,0 2.9,0a1.45,1.45 0 1,0 -2.9,0M185.4,166.6a1.45,1.45 0 1,0 2.9,0a1.45,1.45 0 1,0 -2.9,0" fill="none" stroke="#ff0a0a" stroke-width="1.6"/>
<polyline points="329.0,6.4 327.3,6.4 325.0,6.4 322.4,6.4 319.4,6.4 316.2,6.5 313.0,6.5 309.9,6.5 307.0,6.5 304.2,6.5 301.5,6.5 298.7,6.5 295.9,6.6 293.1,6.6 290.4,6.6 287.7,6.7 285.0,6.7 282.4,6.8 279.7,6.9 277.1,7.0 274.6,7.1 272.0,7.2 269.6,7.3 267.2,7.3 265.0,7.4 262.9,7.4 260.9,7.4 259.0,7.4 257.2,7.3 255.4,7.3 253.6,7.2 251.8,7.3 250.0,7.3 248.1,7.4 246.1,7.5 244.2,7.7 242.2,7.9 240.3,8.1 238.4,8.3 236.6,8.5 235.0,8.6 233.5,8.7 232.1,8.8 230.7,8.9 229.4,8.9 228.2,9.0 227.1,9.1 226.0,9.1 225.0,9.2 224.0,9.3 223.2,9.3 222.4,9.4 221.7,9.5 221.0,9.6 220.3,9.7 219.6,9.8 218.9,9.9 218.2,10.0 217.4,10.2 216.7,10.4 215.9,10.5 215.2,10.7 214.5,10.9 213.8,11.2 213.1,11.4 212.5,11.7 211.8,11.9 211.3,12.2 210.7,12.5 210.1,12.8 209.5,13.1 209.0,13.5 208.4,13.8 207.8,14.1 207.2,14.4 206.6,14.8 206.1,15.1 205.5,15.5 204.9,15.8 204.3,16.2 203.7,16.7 203.1,17.2 202.5,17.7 201.9,18.3 201.3,18.9 200.8,19.5 200.2,20.1 199.6,20.7 199.0,21.4 198.4,22.1 197.8,22.8 197.3,23.5 196.7,24.2 196.1,25.0 195.6,25.7 195.0,26.5 194.4,27.2 193.8,27.9 193.2,28.7 192.6,29.4 192.1,30.1 191.5,30.9 190.9,31.6 190.3,32.4 189.7,33.1 189.1,33.8 188.5,34.6 187.8,35.4 187.2,36.1 186.6,36.9 186.0,37.6 185.5,38.3 185.0,38.9 184.6,39.5 184.2,40.1 183.8,40.7 183.5,41.2 183.2,41.7 182.9,42.2 182.7,42.6 182.5,43.0 182.3,43.4 182.2,43.7 182.1,44.0 182.1,44.3 182.1,44.5 182.0,44.7 182.0,44.9 182.0,45.0" fill="none" stroke="#ff0a0a" stroke-width="1" stroke-linejoin="round"/>
<path d="M327.6,6.4a1.45,1.45 0 1,0 2.9,0a1.45,1.45 0 1,0 -2.9,0M324.9,6.4a1.45,1.45 0 1,0 2.9,0a1.45,1.45 0 1,0 -2.9,0M322.2,6.4a1.45,1.45 0 1,0 2.9,0a1.45,1.45 0 1,0 -2.9,0M319.5,6.4a1.45,1.45 0 1,0 2.9,0a1.45,1.45 0 1,0 -2.9,0M316.8,6.4a1.45,1.45 0 1,0 2.9,0a1.45,1.45 0 1,0 -2.9,0M314.1,6.5a1.45,1.45 0 1,0 2.9,0a1.45,1.45 0 1,0 -2.9,0M311.4,6.5a1.45,1.45 0 1,0 2.9,0a1.45,1.45 0 1,0 -2.9,0M308.7,6.5a1.45,1.45 0 1,0 2.9,0a1.45,1.45 0 1,0 -2.9,0M306.0,6.5a1.45,1.45 0 1,0 2.9,0a1.45,1.45 0 1,0 -2.9,0M303.3,6.5a1.45,1.45 0 1,0 2.9,0a1.45,1.45 0 1,0 -2.9,0M300.6,6.5a1.45,1.45 0 1,0 2.9,0a1.45,1.45 0 1,0 -2.9,0M297.9,6.5a1.45,1.45 0 1,0 2.9,0a1.45,1.45 0 1,0 -2.9,0M295.2,6.6a1.45,1.45 0 1,0 2.9,0a1.45,1.45 0 1,0 -2.9,0M292.5,6.6a1.45,1.45 0 1,0 2.9,0a1.45,1.45 0 1,0 -2.9,0M289.8,6.6a1.45,1.45 0 1,0 2.9,0a1.45,1.45 0 1,0 -2.9,0M287.1,6.6a1.45,1.45 0 1,0 2.9,0a1.45,1.45 0 1,0 -2.9,0M284.4,6.7a1.45,1.45 0 1,0 2.9,0a1.45,1.45 0 1,0 -2.9,0M281.7,6.7a1.45,1.45 0 1,0 2.9,0a1.45,1.45 0 1,0 -2.9,0M279.0,6.8a1.45,1.45 0 1,0 2.9,0a1.45,1.45 0 1,0 -2.9,0M276.3,6.9a1.45,1.45 0 1,0 2.9,0a1.45,1.45 0 1,0 -2.9,0M273.6,7.1a1.45,1.45 0 1,0 2.9,0a1.45,1.45 0 1,0 -2.9,0M270.9,7.2a1.45,1.45 0 1,0 2.9,0a1.45,1.45 0 1,0 -2.9,0M268.2,7.3a1.45,1.45 0 1,0 2.9,0a1.45,1.45 0 1,0 -2.9,0M265.5,7.4a1.45,1.45 0 1,0 2.9,0a1.45,1.45 0 1,0 -2.9,0M262.8,7.4a1.45,1.45 0 1,0 2.9,0a1.45,1.45 0 1,0 -2.9,0M260.1,7.4a1.45,1.45 0 1,0 2.9,0a1.45,1.45 0 1,0 -2.9,0M257.4,7.4a1.45,1.45 0 1,0 2.9,0a1.45,1.45 0 1,0 -2.9,0M254.7,7.3a1.45,1.45 0 1,0 2.9,0a1.45,1.45 0 1,0 -2.9,0M252.0,7.2a1.45,1.45 0 1,0 2.9,0a1.45,1.45 0 1,0 -2.9,0M249.3,7.3a1.45,1.45 0 1,0 2.9,0a1.45,1.45 0 1,0 -2.9,0M246.6,7.4a1.45,1.45 0 1,0 2.9,0a1.45,1.45 0 1,0 -2.9,0M243.9,7.6a1.45,1.45 0 1,0 2.9,0a1.45,1.45 0 1,0 -2.9,0M241.2,7.9a1.45,1.45 0 1,0 2.9,0a1.45,1.45 0 1,0 -2.9,0M238.5,8.1a1.45,1.45 0 1,0 2.9,0a1.45,1.45 0 1,0 -2.9,0M235.8,8.4a1.45,1.45 0 1,0 2.9,0a1.45,1.45 0 1,0 -2.9,0M233.1,8.6a1.45,1.45 0 1,0 2.9,0a1.45,1.45 0 1,0 -2.9,0M230.4,8.8a1.45,1.45 0 1,0 2.9,0a1.45,1.45 0 1,0 -2.9,0M227.7,9.0a1.45,1.45 0 1,0 2.9,0a1.45,1.45 0 1,0 -2.9,0M225.0,9.1a1.45,1.45 0 1,0 2.9,0a1.45,1.45 0 1,0 -2.9,0M222.3,9.3a1.45,1.45 0 1,0 2.9,0a1.45,1.45 0 1,0 -2.9,0M219.7,9.6a1.45,1.45 0 1,0 2.9,0a1.45,1.45 0 1,0 -2.9,0M217.0,10.0a1.45,1.45 0 1,0 2.9,0a1.45,1.45 0 1,0 -2.9,0M214.4,10.6a1.45,1.45 0 1,0 2.9,0a1.45,1.45 0 1,0 -2.9,0M211.8,11.4a1.45,1.45 0 1,0 2.9,0a1.45,1.45 0 1,0 -2.9,0M209.3,12.5a1.45,1.45 0 1,0 2.9,0a1.45,1.45 0 1,0 -2.9,0M207.0,13.8a1.45,1.45 0 1,0 2.9,0a1.45,1.45 0 1,0 -2.9,0M204.6,15.1a1.45,1.45 0 1,0 2.9,0a1.45,1.45 0 1,0 -2.9,0M202.4,16.6a1.45,1.45 0 1,0 2.9,0a1.45,1.45 0 1,0 -2.9,0M200.4,18.4a1.45,1.45 0 1,0 2.9,0a1.45,1.45 0 1,0 -2.9,0M198.5,20.4a1.45,1.45 0 1,0 2.9,0a1.45,1.45 0 1,0 -2.9,0M196.7,22.4a1.45,1.45 0 1,0 2.9,0a1.45,1.45 0 1,0 -2.9,0M195.0,24.5a1.45,1.45 0 1,0 2.9,0a1.45,1.45 0 1,0 -2.9,0M193.4,26.6a1.45,1.45 0 1,0 2.9,0a1.45,1.45 0 1,0 -2.9,0M191.7,28.8a1.45,1.45 0 1,0 2.9,0a1.45,1.45 0 1,0 -2.9,0M190.0,30.9a1.45,1.45 0 1,0 2.9,0a1.45,1.45 0 1,0 -2.9,0M188.3,33.0a1.45,1.45 0 1,0 2.9,0a1.45,1.45 0 1,0 -2.9,0M186.6,35.1a1.45,1.45 0 1,0 2.9,0a1.45,1.45 0 1,0 -2.9,0M184.9,37.2a1.45,1.45 0 1,0 2.9,0a1.45,1.45 0 1,0 -2.9,0M183.3,39.3a1.45,1.45 0 1,0 2.9,0a1.45,1.45 0 1,0 -2.9,0M181.8,41.6a1.45,1.45 0 1,0 2.9,0a1.45,1.45 0 1,0 -2.9,0M180.7,44.0a1.45,1.45 0 1,0 2.9,0a1.45,1.45 0 1,0 -2.9,0" fill="none" stroke="#ff0a0a" stroke-width="1.6"/>
<polyline points="192.8,39.5 193.1,39.0 193.5,38.3 193.9,37.5 194.5,36.7 195.0,35.7 195.6,34.8 196.1,33.9 196.7,33.1 197.2,32.3 197.8,31.6 198.4,30.8 199.0,30.1 199.6,29.4 200.2,28.7 200.8,27.9 201.4,27.2 202.0,26.5 202.6,25.7 203.1,24.9 203.7,24.2 204.3,23.4 204.8,22.7 205.4,22.0 206.0,21.4 206.6,20.8 207.2,20.2 207.8,19.7 208.4,19.2 209.0,18.7 209.6,18.2 210.1,17.7 210.7,17.3 211.3,16.9 211.8,16.4 212.3,16.0 212.8,15.6 213.4,15.3 213.9,14.9 214.4,14.6 215.0,14.3 215.6,14.1 216.2,13.8 216.8,13.7 217.5,13.5 218.1,13.4 218.7,13.2 219.4,13.1 220.0,13.0 220.6,12.9 221.1,12.8 221.7,12.7 222.2,12.6 222.8,12.6 223.4,12.5 224.1,12.4 225.0,12.3 226.0,12.2 227.0,12.1 228.2,12.0 229.4,11.8 230.7,11.7 232.0,11.6 233.5,11.4 235.0,11.3 236.6,11.1 238.4,11.0 240.3,10.8 242.2,10.6 244.2,10.4 246.1,10.3 248.1,10.1 250.0,10.0 251.9,9.9 253.9,9.8 255.8,9.7 257.8,9.7 259.7,9.6 261.6,9.6 263.4,9.5 265.0,9.4 266.5,9.3 267.9,9.2 269.1,9.0 270.3,8.9 271.5,8.8 272.6,8.6 273.8,8.5 275.0,8.4 276.2,8.3 277.2,8.2 278.2,8.1 279.2,8.0 280.4,7.9 281.7,7.8 283.2,7.7 285.0,7.6 287.2,7.5 289.7,7.5 292.4,7.4 295.2,7.4 298.2,7.4 301.2,7.3 304.2,7.3 307.0,7.3 309.9,7.3 313.0,7.3 316.2,7.2 319.4,7.2 322.4,7.2 325.0,7.2 327.3,7.2 329.0,7.2" fill="none" stroke="#ff0a0a" stroke-width="1" stroke-linejoin="round"/>
<path d="M191.4,39.5a1.45,1.45 0 1,0 2.9,0a1.45,1.45 0 1,0 -2.9,0M192.7,37.2a1.45,1.45 0 1,0 2.9,0a1.45,1.45 0 1,0 -2.9,0M194.1,34.9a1.45,1.45 0 1,0 2.9,0a1.45,1.45 0 1,0 -2.9,0M195.6,32.6a1.45,1.45 0 1,0 2.9,0a1.45,1.45 0 1,0 -2.9,0M197.3,30.5a1.45,1.45 0 1,0 2.9,0a1.45,1.45 0 1,0 -2.9,0M199.0,28.4a1.45,1.45 0 1,0 2.9,0a1.45,1.45 0 1,0 -2.9,0M200.7,26.3a1.45,1.45 0 1,0 2.9,0a1.45,1.45 0 1,0 -2.9,0M202.3,24.1a1.45,1.45 0 1,0 2.9,0a1.45,1.45 0 1,0 -2.9,0M204.0,22.0a1.45,1.45 0 1,0 2.9,0a1.45,1.45 0 1,0 -2.9,0M205.9,20.1a1.45,1.45 0 1,0 2.9,0a1.45,1.45 0 1,0 -2.9,0M207.9,18.3a1.45,1.45 0 1,0 2.9,0a1.45,1.45 0 1,0 -2.9,0M210.0,16.7a1.45,1.45 0 1,0 2.9,0a1.45,1.45 0 1,0 -2.9,0M212.2,15.1a1.45,1.45 0 1,0 2.9,0a1.45,1.45 0 1,0 -2.9,0M214.6,13.9a1.45,1.45 0 1,0 2.9,0a1.45,1.45 0 1,0 -2.9,0M217.2,13.3a1.45,1.45 0 1,0 2.9,0a1.45,1.45 0 1,0 -2.9,0M219.9,12.8a1.45,1.45 0 1,0 2.9,0a1.45,1.45 0 1,0 -2.9,0M222.6,12.4a1.45,1.45 0 1,0 2.9,0a1.45,1.45 0 1,0 -2.9,0M225.3,12.1a1.45,1.45 0 1,0 2.9,0a1.45,1.45 0 1,0 -2.9,0M227.9,11.8a1.45,1.45 0 1,0 2.9,0a1.45,1.45 0 1,0 -2.9,0M230.6,11.6a1.45,1.45 0 1,0 2.9,0a1.45,1.45 0 1,0 -2.9,0M233.3,11.3a1.45,1.45 0 1,0 2.9,0a1.45,1.45 0 1,0 -2.9,0M236.0,11.1a1.45,1.45 0 1,0 2.9,0a1.45,1.45 0 1,0 -2.9,0M238.7,10.8a1.45,1.45 0 1,0 2.9,0a1.45,1.45 0 1,0 -2.9,0M241.4,10.6a1.45,1.45 0 1,0 2.9,0a1.45,1.45 0 1,0 -2.9,0M244.1,10.3a1.45,1.45 0 1,0 2.9,0a1.45,1.45 0 1,0 -2.9,0M246.8,10.1a1.45,1.45 0 1,0 2.9,0a1.45,1.45 0 1,0 -2.9,0M249.5,9.9a1.45,1.45 0 1,0 2.9,0a1.45,1.45 0 1,0 -2.9,0M252.2,9.8a1.45,1.45 0 1,0 2.9,0a1.45,1.45 0 1,0 -2.9,0M254.9,9.7a1.45,1.45 0 1,0 2.9,0a1.45,1.45 0 1,0 -2.9,0M257.6,9.6a1.45,1.45 0 1,0 2.9,0a1.45,1.45 0 1,0 -2.9,0M260.3,9.6a1.45,1.45 0 1,0 2.9,0a1.45,1.45 0 1,0 -2.9,0M263.0,9.4a1.45,1.45 0 1,0 2.9,0a1.45,1.45 0 1,0 -2.9,0M265.6,9.2a1.45,1.45 0 1,0 2.9,0a1.45,1.45 0 1,0 -2.9,0M268.3,9.0a1.45,1.45 0 1,0 2.9,0a1.45,1.45 0 1,0 -2.9,0M271.0,8.7a1.45,1.45 0 1,0 2.9,0a1.45,1.45 0 1,0 -2.9,0M273.7,8.4a1.45,1.45 0 1,0 2.9,0a1.45,1.45 0 1,0 -2.9,0M276.4,8.1a1.45,1.45 0 1,0 2.9,0a1.45,1.45 0 1,0 -2.9,0M279.1,7.8a1.45,1.45 0 1,0 2.9,0a1.45,1.45 0 1,0 -2.9,0M281.8,7.7a1.45,1.45 0 1,0 2.9,0a1.45,1.45 0 1,0 -2.9,0M284.5,7.6a1.45,1.45 0 1,0 2.9,0a1.45,1.45 0 1,0 -2.9,0M287.2,7.5a1.45,1.45 0 1,0 2.9,0a1.45,1.45 0 1,0 -2.9,0M289.9,7.5a1.45,1.45 0 1,0 2.9,0a1.45,1.45 0 1,0 -2.9,0M292.6,7.4a1.45,1.45 0 1,0 2.9,0a1.45,1.45 0 1,0 -2.9,0M295.3,7.4a1.45,1.45 0 1,0 2.9,0a1.45,1.45 0 1,0 -2.9,0M298.0,7.4a1.45,1.45 0 1,0 2.9,0a1.45,1.45 0 1,0 -2.9,0M300.7,7.3a1.45,1.45 0 1,0 2.9,0a1.45,1.45 0 1,0 -2.9,0M303.4,7.3a1.45,1.45 0 1,0 2.9,0a1.45,1.45 0 1,0 -2.9,0M306.1,7.3a1.45,1.45 0 1,0 2.9,0a1.45,1.45 0 1,0 -2.9,0M308.8,7.3a1.45,1.45 0 1,0 2.9,0a1.45,1.45 0 1,0 -2.9,0M311.5,7.3a1.45,1.45 0 1,0 2.9,0a1.45,1.45 0 1,0 -2.9,0M314.2,7.2a1.45,1.45 0 1,0 2.9,0a1.45,1.45 0 1,0 -2.9,0M316.9,7.2a1.45,1.45 0 1,0 2.9,0a1.45,1.45 0 1,0 -2.9,0M319.6,7.2a1.45,1.45 0 1,0 2.9,0a1.45,1.45 0 1,0 -2.9,0M322.3,7.2a1.45,1.45 0 1,0 2.9,0a1.45,1.45 0 1,0 -2.9,0M325.0,7.2a1.45,1.45 0 1,0 2.9,0a1.45,1.45 0 1,0 -2.9,0" fill="none" stroke="#ff0a0a" stroke-width="1.6"/>
<polyline points="182.0,45.0 181.1,64.0 180.1,90.0 179.3,130.0 178.1,166.8" fill="none" stroke="#ff0a0a" stroke-width="1.2"/>
<polyline points="188.0,164.7 189.2,150.0 190.5,126.3 191.4,80.0 191.9,50.8 192.8,39.5" fill="none" stroke="#ff0a0a" stroke-width="1.2"/>
<path d="M179.6,63.7a1.6,1.6 0 1,0 3.2,0a1.6,1.6 0 1,0 -3.2,0M178.2,89.5a1.6,1.6 0 1,0 3.2,0a1.6,1.6 0 1,0 -3.2,0M176.5,166.5a1.6,1.6 0 1,0 3.2,0a1.6,1.6 0 1,0 -3.2,0M187.6,149.8a1.6,1.6 0 1,0 3.2,0a1.6,1.6 0 1,0 -3.2,0M188.6,126.4a1.6,1.6 0 1,0 3.2,0a1.6,1.6 0 1,0 -3.2,0" fill="#fff" stroke="#ff0a0a" stroke-width="1.3"/>
<polyline points="167.5,159.0 167.5,159.2 167.5,159.4 167.6,159.7 167.6,160.0 167.6,160.4 167.5,160.8 167.3,161.3 166.9,161.8 166.4,162.4 165.7,163.2 164.8,164.0 163.9,164.9 163.0,165.8 162.0,166.7 161.1,167.5 160.3,168.3 159.6,169.0 158.8,169.7 158.1,170.3 157.5,170.9 156.8,171.5 156.1,172.1 155.3,172.6 154.6,173.2 153.9,173.7 153.2,174.3 152.5,174.8 151.8,175.3 151.0,175.8 150.1,176.3 149.1,176.8 148.0,177.3 146.7,177.8 145.2,178.4 143.7,178.9 142.0,179.5 140.3,180.0 138.5,180.6 136.8,181.3 135.0,182.0 133.2,182.8 131.4,183.6 129.5,184.5 127.6,185.4 125.7,186.4 123.8,187.3 121.9,188.2 120.0,189.0 118.1,189.8 116.2,190.6 114.4,191.4 112.5,192.2 110.6,193.0 108.8,193.7 106.9,194.3 105.0,194.9 103.2,195.4 101.4,195.8 99.6,196.1 97.9,196.4 96.1,196.6 94.2,196.9 92.2,197.1 90.0,197.4 87.7,197.7 85.2,198.0 82.7,198.3 80.1,198.6 77.4,198.9 74.6,199.2 71.8,199.4 69.0,199.6 66.0,199.7 62.6,199.9 59.2,199.9 55.7,200.0 52.4,200.0 49.4,200.0 46.9,200.1 45.0,200.1" fill="none" stroke="#0a0aff" stroke-width="1" stroke-linejoin="round"/>
<path d="M166.1,159.0a1.45,1.45 0 1,0 2.9,0a1.45,1.45 0 1,0 -2.9,0M165.6,161.6a1.45,1.45 0 1,0 2.9,0a1.45,1.45 0 1,0 -2.9,0M163.8,163.6a1.45,1.45 0 1,0 2.9,0a1.45,1.45 0 1,0 -2.9,0M161.9,165.5a1.45,1.45 0 1,0 2.9,0a1.45,1.45 0 1,0 -2.9,0M159.9,167.3a1.45,1.45 0 1,0 2.9,0a1.45,1.45 0 1,0 -2.9,0M157.9,169.1a1.45,1.45 0 1,0 2.9,0a1.45,1.45 0 1,0 -2.9,0M155.9,171.0a1.45,1.45 0 1,0 2.9,0a1.45,1.45 0 1,0 -2.9,0M153.8,172.7a1.45,1.45 0 1,0 2.9,0a1.45,1.45 0 1,0 -2.9,0M151.7,174.3a1.45,1.45 0 1,0 2.9,0a1.45,1.45 0 1,0 -2.9,0M149.4,175.8a1.45,1.45 0 1,0 2.9,0a1.45,1.45 0 1,0 -2.9,0M147.1,177.1a1.45,1.45 0 1,0 2.9,0a1.45,1.45 0 1,0 -2.9,0M144.6,178.1a1.45,1.45 0 1,0 2.9,0a1.45,1.45 0 1,0 -2.9,0M142.0,179.0a1.45,1.45 0 1,0 2.9,0a1.45,1.45 0 1,0 -2.9,0M139.5,179.8a1.45,1.45 0 1,0 2.9,0a1.45,1.45 0 1,0 -2.9,0M136.9,180.7a1.45,1.45 0 1,0 2.9,0a1.45,1.45 0 1,0 -2.9,0M134.4,181.7a1.45,1.45 0 1,0 2.9,0a1.45,1.45 0 1,0 -2.9,0M131.9,182.7a1.45,1.45 0 1,0 2.9,0a1.45,1.45 0 1,0 -2.9,0M129.4,183.9a1.45,1.45 0 1,0 2.9,0a1.45,1.45 0 1,0 -2.9,0M127.0,185.0a1.45,1.45 0 1,0 2.9,0a1.45,1.45 0 1,0 -2.9,0M124.6,186.2a1.45,1.45 0 1,0 2.9,0a1.45,1.45 0 1,0 -2.9,0M122.1,187.4a1.45,1.45 0 1,0 2.9,0a1.45,1.45 0 1,0 -2.9,0M119.7,188.5a1.45,1.45 0 1,0 2.9,0a1.45,1.45 0 1,0 -2.9,0M117.2,189.6a1.45,1.45 0 1,0 2.9,0a1.45,1.45 0 1,0 -2.9,0M114.7,190.7a1.45,1.45 0 1,0 2.9,0a1.45,1.45 0 1,0 -2.9,0M112.3,191.7a1.45,1.45 0 1,0 2.9,0a1.45,1.45 0 1,0 -2.9,0M109.8,192.7a1.45,1.45 0 1,0 2.9,0a1.45,1.45 0 1,0 -2.9,0M107.2,193.7a1.45,1.45 0 1,0 2.9,0a1.45,1.45 0 1,0 -2.9,0M104.7,194.6a1.45,1.45 0 1,0 2.9,0a1.45,1.45 0 1,0 -2.9,0M102.1,195.3a1.45,1.45 0 1,0 2.9,0a1.45,1.45 0 1,0 -2.9,0M99.4,195.9a1.45,1.45 0 1,0 2.9,0a1.45,1.45 0 1,0 -2.9,0M96.8,196.3a1.45,1.45 0 1,0 2.9,0a1.45,1.45 0 1,0 -2.9,0M94.1,196.7a1.45,1.45 0 1,0 2.9,0a1.45,1.45 0 1,0 -2.9,0M91.4,197.0a1.45,1.45 0 1,0 2.9,0a1.45,1.45 0 1,0 -2.9,0M88.8,197.4a1.45,1.45 0 1,0 2.9,0a1.45,1.45 0 1,0 -2.9,0M86.1,197.7a1.45,1.45 0 1,0 2.9,0a1.45,1.45 0 1,0 -2.9,0M83.4,198.1a1.45,1.45 0 1,0 2.9,0a1.45,1.45 0 1,0 -2.9,0M80.7,198.4a1.45,1.45 0 1,0 2.9,0a1.45,1.45 0 1,0 -2.9,0M78.0,198.7a1.45,1.45 0 1,0 2.9,0a1.45,1.45 0 1,0 -2.9,0M75.3,199.0a1.45,1.45 0 1,0 2.9,0a1.45,1.45 0 1,0 -2.9,0M72.7,199.2a1.45,1.45 0 1,0 2.9,0a1.45,1.45 0 1,0 -2.9,0M70.0,199.4a1.45,1.45 0 1,0 2.9,0a1.45,1.45 0 1,0 -2.9,0M67.3,199.6a1.45,1.45 0 1,0 2.9,0a1.45,1.45 0 1,0 -2.9,0M64.6,199.7a1.45,1.45 0 1,0 2.9,0a1.45,1.45 0 1,0 -2.9,0M61.9,199.8a1.45,1.45 0 1,0 2.9,0a1.45,1.45 0 1,0 -2.9,0M59.2,199.9a1.45,1.45 0 1,0 2.9,0a1.45,1.45 0 1,0 -2.9,0M56.5,200.0a1.45,1.45 0 1,0 2.9,0a1.45,1.45 0 1,0 -2.9,0M53.8,200.0a1.45,1.45 0 1,0 2.9,0a1.45,1.45 0 1,0 -2.9,0M51.1,200.0a1.45,1.45 0 1,0 2.9,0a1.45,1.45 0 1,0 -2.9,0M48.4,200.0a1.45,1.45 0 1,0 2.9,0a1.45,1.45 0 1,0 -2.9,0M45.7,200.1a1.45,1.45 0 1,0 2.9,0a1.45,1.45 0 1,0 -2.9,0" fill="none" stroke="#0a0aff" stroke-width="1.6"/>
<polyline points="45.0,201.3 46.9,201.3 49.4,201.3 52.4,201.3 55.7,201.3 59.2,201.3 62.6,201.3 66.0,201.2 69.0,201.1 71.8,201.0 74.6,200.8 77.4,200.6 80.1,200.4 82.7,200.2 85.2,199.9 87.7,199.7 90.0,199.4 92.2,199.1 94.2,198.9 96.1,198.6 97.9,198.4 99.6,198.1 101.4,197.8 103.2,197.4 105.0,197.0 106.9,196.5 108.9,196.0 110.9,195.4 112.9,194.8 114.9,194.2 116.7,193.6 118.5,193.0 120.0,192.5 121.3,192.1 122.4,191.7 123.4,191.3 124.3,191.0 125.2,190.7 126.0,190.3 127.0,189.9 128.0,189.5 129.2,189.0 130.4,188.5 131.6,188.0 132.9,187.4 134.2,186.8 135.5,186.2 136.7,185.6 138.0,185.0 139.3,184.3 140.6,183.6 142.0,182.8 143.3,182.0 144.6,181.3 145.9,180.5 147.0,179.9 148.0,179.3 148.8,178.8 149.5,178.5 150.1,178.2 150.6,177.9 151.0,177.6 151.6,177.3 152.2,177.0 152.9,176.5 153.8,175.9 154.7,175.3 155.8,174.5 156.8,173.8 157.9,173.0 159.0,172.2 160.1,171.5 161.1,170.8 162.1,170.2 163.0,169.5 164.0,168.9 164.9,168.4 165.8,167.8 166.7,167.2 167.6,166.7 168.5,166.2 169.4,165.7 170.2,165.2 171.1,164.8 171.9,164.4 172.7,164.0 173.5,163.6 174.3,163.2 175.0,162.8 175.7,162.4 176.4,162.1 177.0,161.8 177.6,161.5 178.2,161.2 178.8,160.9 179.4,160.6 180.0,160.3 180.6,160.0 181.2,159.7 181.9,159.4 182.5,159.1 183.1,158.7 183.8,158.4 184.4,158.1 185.0,157.8 185.6,157.5 186.2,157.2 186.9,156.9 187.5,156.6 188.1,156.3 188.8,156.0 189.4,155.7 190.0,155.3 190.6,154.9 191.3,154.5 191.9,154.2 192.6,153.7 193.2,153.3 193.9,152.9 194.4,152.5 195.0,152.0 195.5,151.5 196.1,151.0 196.6,150.4 197.1,149.8 197.5,149.2 197.9,148.7 198.2,148.3 198.5,148.0" fill="none" stroke="#0a0aff" stroke-width="1" stroke-linejoin="round"/>
<path d="M43.5,201.3a1.45,1.45 0 1,0 2.9,0a1.45,1.45 0 1,0 -2.9,0M46.2,201.3a1.45,1.45 0 1,0 2.9,0a1.45,1.45 0 1,0 -2.9,0M48.9,201.3a1.45,1.45 0 1,0 2.9,0a1.45,1.45 0 1,0 -2.9,0M51.6,201.3a1.45,1.45 0 1,0 2.9,0a1.45,1.45 0 1,0 -2.9,0M54.3,201.3a1.45,1.45 0 1,0 2.9,0a1.45,1.45 0 1,0 -2.9,0M57.0,201.3a1.45,1.45 0 1,0 2.9,0a1.45,1.45 0 1,0 -2.9,0M59.7,201.3a1.45,1.45 0 1,0 2.9,0a1.45,1.45 0 1,0 -2.9,0M62.4,201.2a1.45,1.45 0 1,0 2.9,0a1.45,1.45 0 1,0 -2.9,0M65.1,201.2a1.45,1.45 0 1,0 2.9,0a1.45,1.45 0 1,0 -2.9,0M67.8,201.1a1.45,1.45 0 1,0 2.9,0a1.45,1.45 0 1,0 -2.9,0M70.5,201.0a1.45,1.45 0 1,0 2.9,0a1.45,1.45 0 1,0 -2.9,0M73.2,200.8a1.45,1.45 0 1,0 2.9,0a1.45,1.45 0 1,0 -2.9,0M75.9,200.6a1.45,1.45 0 1,0 2.9,0a1.45,1.45 0 1,0 -2.9,0M78.6,200.4a1.45,1.45 0 1,0 2.9,0a1.45,1.45 0 1,0 -2.9,0M81.3,200.1a1.45,1.45 0 1,0 2.9,0a1.45,1.45 0 1,0 -2.9,0M84.0,199.9a1.45,1.45 0 1,0 2.9,0a1.45,1.45 0 1,0 -2.9,0M86.7,199.6a1.45,1.45 0 1,0 2.9,0a1.45,1.45 0 1,0 -2.9,0M89.4,199.3a1.45,1.45 0 1,0 2.9,0a1.45,1.45 0 1,0 -2.9,0M92.0,199.0a1.45,1.45 0 1,0 2.9,0a1.45,1.45 0 1,0 -2.9,0M94.7,198.6a1.45,1.45 0 1,0 2.9,0a1.45,1.45 0 1,0 -2.9,0M97.4,198.2a1.45,1.45 0 1,0 2.9,0a1.45,1.45 0 1,0 -2.9,0M100.1,197.7a1.45,1.45 0 1,0 2.9,0a1.45,1.45 0 1,0 -2.9,0M102.7,197.2a1.45,1.45 0 1,0 2.9,0a1.45,1.45 0 1,0 -2.9,0M105.3,196.6a1.45,1.45 0 1,0 2.9,0a1.45,1.45 0 1,0 -2.9,0M107.9,195.9a1.45,1.45 0 1,0 2.9,0a1.45,1.45 0 1,0 -2.9,0M110.5,195.1a1.45,1.45 0 1,0 2.9,0a1.45,1.45 0 1,0 -2.9,0M113.1,194.3a1.45,1.45 0 1,0 2.9,0a1.45,1.45 0 1,0 -2.9,0M115.7,193.4a1.45,1.45 0 1,0 2.9,0a1.45,1.45 0 1,0 -2.9,0M118.2,192.6a1.45,1.45 0 1,0 2.9,0a1.45,1.45 0 1,0 -2.9,0M120.8,191.8a1.45,1.45 0 1,0 2.9,0a1.45,1.45 0 1,0 -2.9,0M123.3,190.8a1.45,1.45 0 1,0 2.9,0a1.45,1.45 0 1,0 -2.9,0M125.8,189.8a1.45,1.45 0 1,0 2.9,0a1.45,1.45 0 1,0 -2.9,0M128.3,188.8a1.45,1.45 0 1,0 2.9,0a1.45,1.45 0 1,0 -2.9,0M130.8,187.7a1.45,1.45 0 1,0 2.9,0a1.45,1.45 0 1,0 -2.9,0M133.3,186.6a1.45,1.45 0 1,0 2.9,0a1.45,1.45 0 1,0 -2.9,0M135.7,185.4a1.45,1.45 0 1,0 2.9,0a1.45,1.45 0 1,0 -2.9,0M138.1,184.2a1.45,1.45 0 1,0 2.9,0a1.45,1.45 0 1,0 -2.9,0M140.4,182.9a1.45,1.45 0 1,0 2.9,0a1.45,1.45 0 1,0 -2.9,0M142.8,181.5a1.45,1.45 0 1,0 2.9,0a1.45,1.45 0 1,0 -2.9,0M145.1,180.1a1.45,1.45 0 1,0 2.9,0a1.45,1.45 0 1,0 -2.9,0M147.4,178.8a1.45,1.45 0 1,0 2.9,0a1.45,1.45 0 1,0 -2.9,0M149.8,177.5a1.45,1.45 0 1,0 2.9,0a1.45,1.45 0 1,0 -2.9,0M152.1,176.1a1.45,1.45 0 1,0 2.9,0a1.45,1.45 0 1,0 -2.9,0M154.3,174.5a1.45,1.45 0 1,0 2.9,0a1.45,1.45 0 1,0 -2.9,0M156.5,173.0a1.45,1.45 0 1,0 2.9,0a1.45,1.45 0 1,0 -2.9,0M158.7,171.4a1.45,1.45 0 1,0 2.9,0a1.45,1.45 0 1,0 -2.9,0M161.0,169.9a1.45,1.45 0 1,0 2.9,0a1.45,1.45 0 1,0 -2.9,0M163.3,168.5a1.45,1.45 0 1,0 2.9,0a1.45,1.45 0 1,0 -2.9,0M165.6,167.1a1.45,1.45 0 1,0 2.9,0a1.45,1.45 0 1,0 -2.9,0M167.9,165.7a1.45,1.45 0 1,0 2.9,0a1.45,1.45 0 1,0 -2.9,0M170.3,164.5a1.45,1.45 0 1,0 2.9,0a1.45,1.45 0 1,0 -2.9,0M172.7,163.2a1.45,1.45 0 1,0 2.9,0a1.45,1.45 0 1,0 -2.9,0M175.1,162.0a1.45,1.45 0 1,0 2.9,0a1.45,1.45 0 1,0 -2.9,0M177.5,160.8a1.45,1.45 0 1,0 2.9,0a1.45,1.45 0 1,0 -2.9,0M179.9,159.6a1.45,1.45 0 1,0 2.9,0a1.45,1.45 0 1,0 -2.9,0M182.4,158.4a1.45,1.45 0 1,0 2.9,0a1.45,1.45 0 1,0 -2.9,0M184.8,157.2a1.45,1.45 0 1,0 2.9,0a1.45,1.45 0 1,0 -2.9,0M187.2,156.0a1.45,1.45 0 1,0 2.9,0a1.45,1.45 0 1,0 -2.9,0M189.6,154.7a1.45,1.45 0 1,0 2.9,0a1.45,1.45 0 1,0 -2.9,0M191.9,153.3a1.45,1.45 0 1,0 2.9,0a1.45,1.45 0 1,0 -2.9,0M194.0,151.6a1.45,1.45 0 1,0 2.9,0a1.45,1.45 0 1,0 -2.9,0M195.8,149.6a1.45,1.45 0 1,0 2.9,0a1.45,1.45 0 1,0 -2.9,0" fill="none" stroke="#0a0aff" stroke-width="1.6"/>
<polyline points="329.0,8.1 327.3,8.1 325.0,8.2 322.4,8.3 319.4,8.4 316.2,8.5 313.0,8.5 309.9,8.6 307.0,8.7 304.2,8.8 301.2,8.8 298.2,8.9 295.2,8.9 292.4,9.0 289.7,9.0 287.2,9.1 285.0,9.2 283.2,9.3 281.7,9.5 280.4,9.7 279.2,9.8 278.2,10.0 277.2,10.2 276.2,10.4 275.0,10.6 273.8,10.8 272.5,11.0 271.2,11.1 270.0,11.3 268.8,11.5 267.5,11.7 266.2,11.8 265.0,12.0 263.7,12.2 262.4,12.3 261.0,12.5 259.7,12.6 258.4,12.8 257.1,13.0 256.0,13.2 255.0,13.4 254.2,13.6 253.5,13.8 253.0,14.0 252.5,14.3 252.0,14.6 251.5,14.9 250.8,15.2 250.0,15.6 249.0,16.0 247.9,16.5 246.6,17.0 245.3,17.5 244.0,18.1 242.6,18.7 241.3,19.3 240.0,19.9 238.8,20.5 237.6,21.2 236.4,21.9 235.2,22.6 233.9,23.3 232.7,24.0 231.4,24.8 230.0,25.6 228.6,26.4 227.1,27.3 225.5,28.2 223.9,29.2 222.3,30.1 220.7,31.0 219.1,31.9 217.5,32.8 215.9,33.6 214.3,34.4 212.7,35.2 211.0,36.0 209.4,36.7 207.9,37.5 206.4,38.2 205.0,38.8 203.7,39.4 202.4,40.0 201.2,40.5 200.1,41.0 199.0,41.5 198.0,42.0 197.0,42.4 196.0,42.8 195.1,43.2 194.3,43.5 193.5,43.7 192.7,44.0 192.0,44.2 191.3,44.4 190.5,44.7 189.7,45.0 188.9,45.3 188.0,45.6 187.1,45.9 186.2,46.2 185.3,46.6 184.4,47.0 183.5,47.4 182.6,47.8 181.7,48.3 180.8,48.9 179.8,49.4 178.9,50.1 178.0,50.7 177.1,51.3 176.3,51.9 175.6,52.5 175.0,53.0 174.4,53.5 174.0,54.0 173.5,54.5 173.2,55.0 172.8,55.5 172.4,56.1 172.1,56.7 171.8,57.4 171.4,58.2 171.1,59.1 170.8,60.0 170.6,60.9 170.3,61.7 170.2,62.3 170.0,62.8" fill="none" stroke="#0a0aff" stroke-width="1" stroke-linejoin="round"/>
<path d="M327.6,8.1a1.45,1.45 0 1,0 2.9,0a1.45,1.45 0 1,0 -2.9,0M324.9,8.2a1.45,1.45 0 1,0 2.9,0a1.45,1.45 0 1,0 -2.9,0M322.2,8.3a1.45,1.45 0 1,0 2.9,0a1.45,1.45 0 1,0 -2.9,0M319.5,8.3a1.45,1.45 0 1,0 2.9,0a1.45,1.45 0 1,0 -2.9,0M316.8,8.4a1.45,1.45 0 1,0 2.9,0a1.45,1.45 0 1,0 -2.9,0M314.1,8.5a1.45,1.45 0 1,0 2.9,0a1.45,1.45 0 1,0 -2.9,0M311.4,8.5a1.45,1.45 0 1,0 2.9,0a1.45,1.45 0 1,0 -2.9,0M308.7,8.6a1.45,1.45 0 1,0 2.9,0a1.45,1.45 0 1,0 -2.9,0M306.0,8.7a1.45,1.45 0 1,0 2.9,0a1.45,1.45 0 1,0 -2.9,0M303.3,8.7a1.45,1.45 0 1,0 2.9,0a1.45,1.45 0 1,0 -2.9,0M300.6,8.8a1.45,1.45 0 1,0 2.9,0a1.45,1.45 0 1,0 -2.9,0M297.9,8.8a1.45,1.45 0 1,0 2.9,0a1.45,1.45 0 1,0 -2.9,0M295.2,8.9a1.45,1.45 0 1,0 2.9,0a1.45,1.45 0 1,0 -2.9,0M292.5,8.9a1.45,1.45 0 1,0 2.9,0a1.45,1.45 0 1,0 -2.9,0M289.8,9.0a1.45,1.45 0 1,0 2.9,0a1.45,1.45 0 1,0 -2.9,0M287.1,9.1a1.45,1.45 0 1,0 2.9,0a1.45,1.45 0 1,0 -2.9,0M284.4,9.2a1.45,1.45 0 1,0 2.9,0a1.45,1.45 0 1,0 -2.9,0M281.7,9.3a1.45,1.45 0 1,0 2.9,0a1.45,1.45 0 1,0 -2.9,0M279.0,9.7a1.45,1.45 0 1,0 2.9,0a1.45,1.45 0 1,0 -2.9,0M276.3,10.1a1.45,1.45 0 1,0 2.9,0a1.45,1.45 0 1,0 -2.9,0M273.7,10.6a1.45,1.45 0 1,0 2.9,0a1.45,1.45 0 1,0 -2.9,0M271.0,11.0a1.45,1.45 0 1,0 2.9,0a1.45,1.45 0 1,0 -2.9,0M268.3,11.3a1.45,1.45 0 1,0 2.9,0a1.45,1.45 0 1,0 -2.9,0M265.6,11.7a1.45,1.45 0 1,0 2.9,0a1.45,1.45 0 1,0 -2.9,0M263.0,12.1a1.45,1.45 0 1,0 2.9,0a1.45,1.45 0 1,0 -2.9,0M260.3,12.4a1.45,1.45 0 1,0 2.9,0a1.45,1.45 0 1,0 -2.9,0M257.6,12.7a1.45,1.45 0 1,0 2.9,0a1.45,1.45 0 1,0 -2.9,0M254.9,13.1a1.45,1.45 0 1,0 2.9,0a1.45,1.45 0 1,0 -2.9,0M252.3,13.7a1.45,1.45 0 1,0 2.9,0a1.45,1.45 0 1,0 -2.9,0M249.9,14.9a1.45,1.45 0 1,0 2.9,0a1.45,1.45 0 1,0 -2.9,0M247.5,16.1a1.45,1.45 0 1,0 2.9,0a1.45,1.45 0 1,0 -2.9,0M245.0,17.1a1.45,1.45 0 1,0 2.9,0a1.45,1.45 0 1,0 -2.9,0M242.5,18.1a1.45,1.45 0 1,0 2.9,0a1.45,1.45 0 1,0 -2.9,0M240.0,19.2a1.45,1.45 0 1,0 2.9,0a1.45,1.45 0 1,0 -2.9,0M237.6,20.4a1.45,1.45 0 1,0 2.9,0a1.45,1.45 0 1,0 -2.9,0M235.2,21.7a1.45,1.45 0 1,0 2.9,0a1.45,1.45 0 1,0 -2.9,0M232.9,23.1a1.45,1.45 0 1,0 2.9,0a1.45,1.45 0 1,0 -2.9,0M230.5,24.4a1.45,1.45 0 1,0 2.9,0a1.45,1.45 0 1,0 -2.9,0M228.2,25.8a1.45,1.45 0 1,0 2.9,0a1.45,1.45 0 1,0 -2.9,0M225.9,27.2a1.45,1.45 0 1,0 2.9,0a1.45,1.45 0 1,0 -2.9,0M223.6,28.5a1.45,1.45 0 1,0 2.9,0a1.45,1.45 0 1,0 -2.9,0M221.2,29.9a1.45,1.45 0 1,0 2.9,0a1.45,1.45 0 1,0 -2.9,0M218.9,31.2a1.45,1.45 0 1,0 2.9,0a1.45,1.45 0 1,0 -2.9,0M216.5,32.5a1.45,1.45 0 1,0 2.9,0a1.45,1.45 0 1,0 -2.9,0M214.1,33.8a1.45,1.45 0 1,0 2.9,0a1.45,1.45 0 1,0 -2.9,0M211.7,35.0a1.45,1.45 0 1,0 2.9,0a1.45,1.45 0 1,0 -2.9,0M209.3,36.1a1.45,1.45 0 1,0 2.9,0a1.45,1.45 0 1,0 -2.9,0M206.8,37.3a1.45,1.45 0 1,0 2.9,0a1.45,1.45 0 1,0 -2.9,0M204.4,38.4a1.45,1.45 0 1,0 2.9,0a1.45,1.45 0 1,0 -2.9,0M201.9,39.6a1.45,1.45 0 1,0 2.9,0a1.45,1.45 0 1,0 -2.9,0M199.5,40.7a1.45,1.45 0 1,0 2.9,0a1.45,1.45 0 1,0 -2.9,0M197.0,41.8a1.45,1.45 0 1,0 2.9,0a1.45,1.45 0 1,0 -2.9,0M194.5,42.8a1.45,1.45 0 1,0 2.9,0a1.45,1.45 0 1,0 -2.9,0M192.0,43.7a1.45,1.45 0 1,0 2.9,0a1.45,1.45 0 1,0 -2.9,0M189.4,44.6a1.45,1.45 0 1,0 2.9,0a1.45,1.45 0 1,0 -2.9,0M186.9,45.5a1.45,1.45 0 1,0 2.9,0a1.45,1.45 0 1,0 -2.9,0M184.3,46.4a1.45,1.45 0 1,0 2.9,0a1.45,1.45 0 1,0 -2.9,0M181.8,47.5a1.45,1.45 0 1,0 2.9,0a1.45,1.45 0 1,0 -2.9,0M179.5,48.8a1.45,1.45 0 1,0 2.9,0a1.45,1.45 0 1,0 -2.9,0M177.2,50.2a1.45,1.45 0 1,0 2.9,0a1.45,1.45 0 1,0 -2.9,0M175.0,51.8a1.45,1.45 0 1,0 2.9,0a1.45,1.45 0 1,0 -2.9,0M173.0,53.6a1.45,1.45 0 1,0 2.9,0a1.45,1.45 0 1,0 -2.9,0M171.3,55.6a1.45,1.45 0 1,0 2.9,0a1.45,1.45 0 1,0 -2.9,0M170.1,58.1a1.45,1.45 0 1,0 2.9,0a1.45,1.45 0 1,0 -2.9,0M169.2,60.6a1.45,1.45 0 1,0 2.9,0a1.45,1.45 0 1,0 -2.9,0" fill="none" stroke="#0a0aff" stroke-width="1.6"/>
<polyline points="202.0,48.5 202.2,48.1 202.3,47.5 202.5,46.9 202.7,46.2 203.0,45.4 203.5,44.6 204.1,43.8 205.0,43.0 206.1,42.2 207.5,41.4 209.0,40.6 210.7,39.8 212.4,38.9 214.2,38.0 215.9,37.1 217.5,36.2 219.1,35.2 220.7,34.2 222.3,33.1 223.9,32.0 225.5,30.9 227.1,29.9 228.6,28.8 230.0,27.8 231.4,26.8 232.7,25.8 233.9,24.9 235.2,23.9 236.4,23.0 237.6,22.2 238.8,21.3 240.0,20.6 241.2,19.9 242.4,19.3 243.5,18.8 244.7,18.3 245.9,17.8 247.1,17.3 248.5,16.9 250.0,16.4 251.6,15.9 253.3,15.5 255.0,15.0 256.9,14.6 258.8,14.2 260.8,13.7 262.9,13.3 265.0,12.9 267.1,12.5 269.1,12.0 271.1,11.5 273.2,11.1 275.5,10.7 278.2,10.3 281.3,9.9 285.0,9.6 289.7,9.4 295.3,9.2 301.7,9.0 308.2,8.9 314.7,8.9 320.5,8.8 325.4,8.8 329.0,8.7" fill="none" stroke="#0a0aff" stroke-width="1" stroke-linejoin="round"/>
<path d="M200.6,48.5a1.45,1.45 0 1,0 2.9,0a1.45,1.45 0 1,0 -2.9,0M201.4,45.9a1.45,1.45 0 1,0 2.9,0a1.45,1.45 0 1,0 -2.9,0M202.8,43.7a1.45,1.45 0 1,0 2.9,0a1.45,1.45 0 1,0 -2.9,0M205.0,42.0a1.45,1.45 0 1,0 2.9,0a1.45,1.45 0 1,0 -2.9,0M207.3,40.7a1.45,1.45 0 1,0 2.9,0a1.45,1.45 0 1,0 -2.9,0M209.7,39.5a1.45,1.45 0 1,0 2.9,0a1.45,1.45 0 1,0 -2.9,0M212.2,38.3a1.45,1.45 0 1,0 2.9,0a1.45,1.45 0 1,0 -2.9,0M214.5,37.1a1.45,1.45 0 1,0 2.9,0a1.45,1.45 0 1,0 -2.9,0M216.9,35.7a1.45,1.45 0 1,0 2.9,0a1.45,1.45 0 1,0 -2.9,0M219.1,34.2a1.45,1.45 0 1,0 2.9,0a1.45,1.45 0 1,0 -2.9,0M221.4,32.7a1.45,1.45 0 1,0 2.9,0a1.45,1.45 0 1,0 -2.9,0M223.6,31.2a1.45,1.45 0 1,0 2.9,0a1.45,1.45 0 1,0 -2.9,0M225.8,29.7a1.45,1.45 0 1,0 2.9,0a1.45,1.45 0 1,0 -2.9,0M228.1,28.1a1.45,1.45 0 1,0 2.9,0a1.45,1.45 0 1,0 -2.9,0M230.3,26.6a1.45,1.45 0 1,0 2.9,0a1.45,1.45 0 1,0 -2.9,0M232.4,24.9a1.45,1.45 0 1,0 2.9,0a1.45,1.45 0 1,0 -2.9,0M234.5,23.3a1.45,1.45 0 1,0 2.9,0a1.45,1.45 0 1,0 -2.9,0M236.7,21.7a1.45,1.45 0 1,0 2.9,0a1.45,1.45 0 1,0 -2.9,0M239.0,20.3a1.45,1.45 0 1,0 2.9,0a1.45,1.45 0 1,0 -2.9,0M241.4,19.1a1.45,1.45 0 1,0 2.9,0a1.45,1.45 0 1,0 -2.9,0M243.9,18.0a1.45,1.45 0 1,0 2.9,0a1.45,1.45 0 1,0 -2.9,0M246.5,17.1a1.45,1.45 0 1,0 2.9,0a1.45,1.45 0 1,0 -2.9,0M249.0,16.3a1.45,1.45 0 1,0 2.9,0a1.45,1.45 0 1,0 -2.9,0M251.6,15.5a1.45,1.45 0 1,0 2.9,0a1.45,1.45 0 1,0 -2.9,0M254.2,14.9a1.45,1.45 0 1,0 2.9,0a1.45,1.45 0 1,0 -2.9,0M256.9,14.3a1.45,1.45 0 1,0 2.9,0a1.45,1.45 0 1,0 -2.9,0M259.5,13.7a1.45,1.45 0 1,0 2.9,0a1.45,1.45 0 1,0 -2.9,0M262.2,13.2a1.45,1.45 0 1,0 2.9,0a1.45,1.45 0 1,0 -2.9,0M264.8,12.6a1.45,1.45 0 1,0 2.9,0a1.45,1.45 0 1,0 -2.9,0M267.4,12.0a1.45,1.45 0 1,0 2.9,0a1.45,1.45 0 1,0 -2.9,0M270.1,11.4a1.45,1.45 0 1,0 2.9,0a1.45,1.45 0 1,0 -2.9,0M272.7,10.9a1.45,1.45 0 1,0 2.9,0a1.45,1.45 0 1,0 -2.9,0M275.4,10.5a1.45,1.45 0 1,0 2.9,0a1.45,1.45 0 1,0 -2.9,0M278.1,10.1a1.45,1.45 0 1,0 2.9,0a1.45,1.45 0 1,0 -2.9,0M280.7,9.8a1.45,1.45 0 1,0 2.9,0a1.45,1.45 0 1,0 -2.9,0M283.4,9.6a1.45,1.45 0 1,0 2.9,0a1.45,1.45 0 1,0 -2.9,0M286.1,9.5a1.45,1.45 0 1,0 2.9,0a1.45,1.45 0 1,0 -2.9,0M288.8,9.3a1.45,1.45 0 1,0 2.9,0a1.45,1.45 0 1,0 -2.9,0M291.5,9.3a1.45,1.45 0 1,0 2.9,0a1.45,1.45 0 1,0 -2.9,0M294.2,9.2a1.45,1.45 0 1,0 2.9,0a1.45,1.45 0 1,0 -2.9,0M296.9,9.1a1.45,1.45 0 1,0 2.9,0a1.45,1.45 0 1,0 -2.9,0M299.6,9.1a1.45,1.45 0 1,0 2.9,0a1.45,1.45 0 1,0 -2.9,0M302.3,9.0a1.45,1.45 0 1,0 2.9,0a1.45,1.45 0 1,0 -2.9,0M305.0,9.0a1.45,1.45 0 1,0 2.9,0a1.45,1.45 0 1,0 -2.9,0M307.7,8.9a1.45,1.45 0 1,0 2.9,0a1.45,1.45 0 1,0 -2.9,0M310.4,8.9a1.45,1.45 0 1,0 2.9,0a1.45,1.45 0 1,0 -2.9,0M313.1,8.9a1.45,1.45 0 1,0 2.9,0a1.45,1.45 0 1,0 -2.9,0M315.8,8.8a1.45,1.45 0 1,0 2.9,0a1.45,1.45 0 1,0 -2.9,0M318.5,8.8a1.45,1.45 0 1,0 2.9,0a1.45,1.45 0 1,0 -2.9,0M321.2,8.8a1.45,1.45 0 1,0 2.9,0a1.45,1.45 0 1,0 -2.9,0M323.9,8.8a1.45,1.45 0 1,0 2.9,0a1.45,1.45 0 1,0 -2.9,0M326.6,8.7a1.45,1.45 0 1,0 2.9,0a1.45,1.45 0 1,0 -2.9,0" fill="none" stroke="#0a0aff" stroke-width="1.6"/>
<polyline points="170.0,62.8 169.4,80.0 168.9,92.6 168.2,130.0 167.8,142.4 167.5,159.0" fill="none" stroke="#0a0aff" stroke-width="1.4"/>
<polyline points="198.5,148.0 199.5,131.4 200.3,100.0 201.3,76.4 201.8,50.0 202.0,48.5" fill="none" stroke="#0a0aff" stroke-width="1.4"/>
<path d="M168.3,62.8a1.7,1.7 0 1,0 3.4,0a1.7,1.7 0 1,0 -3.4,0M167.2,92.6a1.7,1.7 0 1,0 3.4,0a1.7,1.7 0 1,0 -3.4,0M166.0,142.3a1.7,1.7 0 1,0 3.4,0a1.7,1.7 0 1,0 -3.4,0M165.1,160.5a1.7,1.7 0 1,0 3.4,0a1.7,1.7 0 1,0 -3.4,0M197.8,131.4a1.7,1.7 0 1,0 3.4,0a1.7,1.7 0 1,0 -3.4,0M197.0,146.8a1.7,1.7 0 1,0 3.4,0a1.7,1.7 0 1,0 -3.4,0M199.6,76.1a1.7,1.7 0 1,0 3.4,0a1.7,1.7 0 1,0 -3.4,0M200.1,49.6a1.7,1.7 0 1,0 3.4,0a1.7,1.7 0 1,0 -3.4,0" fill="#fff" stroke="#0a0aff" stroke-width="1.3"/>
<polyline points="45.0,197.2 46.9,197.2 49.4,197.1 52.4,197.1 55.7,197.0 59.2,196.9 62.6,196.8 66.0,196.7 69.0,196.5 71.8,196.3 74.6,196.0 77.4,195.7 80.1,195.4 82.7,195.1 85.2,194.8 87.7,194.5 90.0,194.2 92.2,194.0 94.2,193.7 96.1,193.5 97.9,193.3 99.6,193.1 101.4,192.8 103.2,192.6 105.0,192.3 106.9,192.0 108.9,191.6 110.9,191.2 112.9,190.8 114.9,190.4 116.7,190.0 118.5,189.6 120.0,189.2 121.3,188.8 122.5,188.5 123.6,188.1 124.5,187.8 125.4,187.5 126.2,187.1 127.1,186.8 128.0,186.4 128.9,186.0 129.8,185.6 130.7,185.3 131.6,184.9 132.4,184.5 133.3,184.0 134.1,183.6 135.0,183.2 135.9,182.8 136.8,182.3 137.6,181.9 138.5,181.4 139.4,180.9 140.3,180.4 141.1,180.0 142.0,179.5 142.9,179.0 143.8,178.5 144.7,178.0 145.6,177.5 146.5,177.0 147.4,176.6 148.1,176.1 148.8,175.7 149.4,175.3 149.9,175.0 150.3,174.7 150.6,174.4 151.0,174.1 151.3,173.8 151.7,173.5 152.1,173.2 152.5,172.8 153.0,172.5 153.5,172.1 153.9,171.7 154.4,171.3 154.9,170.9 155.3,170.4 155.8,170.0 156.3,169.5 156.7,169.1 157.2,168.6 157.7,168.1 158.1,167.5 158.6,167.0 159.0,166.5 159.5,165.9 160.0,165.3 160.4,164.7 160.9,164.1 161.4,163.5 161.8,162.9 162.3,162.3 162.8,161.6 163.2,161.0 163.6,160.4 164.0,159.8 164.4,159.1 164.8,158.5 165.2,157.9 165.6,157.2 166.0,156.6 166.4,156.0 166.8,155.4 167.2,154.8 167.5,154.2 167.9,153.5 168.3,152.9 168.6,152.3 169.0,151.7 169.3,151.1 169.6,150.5 170.0,149.9 170.3,149.3 170.6,148.6 170.9,148.0 171.2,147.4 171.5,146.8 171.8,146.2 172.1,145.6 172.4,145.0 172.7,144.4 173.0,143.8 173.3,143.2 173.6,142.6 173.9,141.9 174.2,141.3 174.5,140.6 174.8,140.0 175.2,139.3 175.5,138.6 175.8,137.9 176.2,137.2 176.5,136.5 176.8,135.8 177.1,135.1 177.3,134.5 177.6,133.9 177.8,133.2 178.0,132.5 178.3,131.8 178.6,131.0 179.0,130.0 179.5,128.9 180.0,127.8 180.5,126.5 181.1,125.2 181.7,123.8 182.3,122.4 182.9,120.9 183.4,119.5 183.9,118.0 184.4,116.4 184.9,114.7 185.4,113.0 185.9,111.3 186.3,109.7 186.7,108.2 187.0,106.9 187.3,105.8 187.5,104.8 187.6,104.0 187.7,103.2 187.9,102.5 188.0,101.7 188.1,101.0 188.3,100.2 188.5,99.4 188.8,98.5 189.0,97.7 189.3,96.8 189.6,96.0 189.9,95.2 190.1,94.3 190.4,93.5 190.7,92.7 190.9,91.8 191.1,91.0 191.4,90.2 191.6,89.4 191.9,88.6 192.1,87.7 192.4,86.9 192.7,86.1 193.0,85.2 193.3,84.4 193.7,83.6 194.0,82.7 194.3,81.9 194.7,81.0 195.0,80.2 195.3,79.3 195.7,78.5 196.0,77.6 196.4,76.7 196.7,75.9 197.1,75.0 197.4,74.2 197.7,73.5 198.0,72.8 198.2,72.2 198.4,71.5 198.7,70.9 198.9,70.4 199.1,69.8 199.3,69.3 199.6,68.7 199.9,68.1 200.2,67.6 200.5,67.1 200.9,66.6 201.2,66.1 201.5,65.6 201.9,65.0 202.2,64.5 202.5,63.9 202.8,63.4 203.2,62.8 203.5,62.2 203.8,61.6 204.1,61.0 204.5,60.4 204.8,59.9 205.2,59.4 205.5,58.9 205.9,58.4 206.3,58.0 206.7,57.5 207.1,57.1 207.5,56.6 207.9,56.1 208.3,55.6 208.7,55.1 209.1,54.5 209.5,54.0 209.9,53.4 210.3,52.9 210.7,52.3 211.1,51.8 211.5,51.3 211.9,50.8 212.3,50.2 212.6,49.7 213.0,49.2 213.4,48.7 213.8,48.2 214.2,47.6 214.6,47.0 215.0,46.4 215.5,45.8 215.9,45.2 216.3,44.5 216.8,43.9 217.2,43.3 217.6,42.7 218.0,42.1 218.4,41.5 218.7,41.0 219.1,40.4 219.5,39.8 219.9,39.3 220.3,38.7 220.8,38.2 221.3,37.7 221.9,37.1 222.5,36.6 223.1,36.1 223.7,35.5 224.3,35.0 224.9,34.5 225.5,34.0 226.0,33.5 226.5,33.1 227.0,32.7 227.4,32.2 227.9,31.8 228.5,31.3 229.2,30.8 230.0,30.2 231.0,29.5 232.1,28.8 233.3,27.9 234.7,27.1 236.0,26.2 237.4,25.4 238.7,24.6 240.0,23.9 241.3,23.2 242.6,22.6 244.0,22.0 245.3,21.4 246.6,20.9 247.9,20.4 249.0,20.0 250.0,19.6 250.8,19.3 251.5,19.0 252.0,18.8 252.5,18.7 253.0,18.6 253.5,18.4 254.2,18.3 255.0,18.2 256.0,18.0 257.1,17.9 258.4,17.7 259.7,17.6 261.0,17.5 262.4,17.3 263.7,17.2 265.0,17.0 266.2,16.8 267.5,16.7 268.8,16.5 270.0,16.3 271.2,16.1 272.5,15.9 273.8,15.7 275.0,15.5 276.2,15.3 277.2,15.1 278.2,14.8 279.2,14.6 280.4,14.4 281.7,14.1 283.2,13.9 285.0,13.7 287.2,13.5 289.7,13.3 292.4,13.1 295.2,12.9 298.2,12.8 301.2,12.6 304.2,12.4 307.0,12.3 309.9,12.2 313.0,12.0 316.2,11.9 319.4,11.8 322.4,11.7 325.0,11.6 327.3,11.6 329.0,11.5" fill="none" stroke="#11881a" stroke-width="1" stroke-linejoin="round"/>
<path d="M43.4,197.2a1.6,1.6 0 1,0 3.2,0a1.6,1.6 0 1,0 -3.2,0M46.3,197.1a1.6,1.6 0 1,0 3.2,0a1.6,1.6 0 1,0 -3.2,0M49.2,197.1a1.6,1.6 0 1,0 3.2,0a1.6,1.6 0 1,0 -3.2,0M52.1,197.0a1.6,1.6 0 1,0 3.2,0a1.6,1.6 0 1,0 -3.2,0M55.0,197.0a1.6,1.6 0 1,0 3.2,0a1.6,1.6 0 1,0 -3.2,0M57.9,196.9a1.6,1.6 0 1,0 3.2,0a1.6,1.6 0 1,0 -3.2,0M60.8,196.8a1.6,1.6 0 1,0 3.2,0a1.6,1.6 0 1,0 -3.2,0M63.7,196.7a1.6,1.6 0 1,0 3.2,0a1.6,1.6 0 1,0 -3.2,0M66.6,196.5a1.6,1.6 0 1,0 3.2,0a1.6,1.6 0 1,0 -3.2,0M69.5,196.3a1.6,1.6 0 1,0 3.2,0a1.6,1.6 0 1,0 -3.2,0M72.4,196.1a1.6,1.6 0 1,0 3.2,0a1.6,1.6 0 1,0 -3.2,0M75.3,195.8a1.6,1.6 0 1,0 3.2,0a1.6,1.6 0 1,0 -3.2,0M78.1,195.5a1.6,1.6 0 1,0 3.2,0a1.6,1.6 0 1,0 -3.2,0M81.0,195.1a1.6,1.6 0 1,0 3.2,0a1.6,1.6 0 1,0 -3.2,0M83.9,194.8a1.6,1.6 0 1,0 3.2,0a1.6,1.6 0 1,0 -3.2,0M86.8,194.4a1.6,1.6 0 1,0 3.2,0a1.6,1.6 0 1,0 -3.2,0M89.7,194.1a1.6,1.6 0 1,0 3.2,0a1.6,1.6 0 1,0 -3.2,0M92.5,193.7a1.6,1.6 0 1,0 3.2,0a1.6,1.6 0 1,0 -3.2,0M95.4,193.4a1.6,1.6 0 1,0 3.2,0a1.6,1.6 0 1,0 -3.2,0M98.3,193.0a1.6,1.6 0 1,0 3.2,0a1.6,1.6 0 1,0 -3.2,0M101.2,192.7a1.6,1.6 0 1,0 3.2,0a1.6,1.6 0 1,0 -3.2,0M104.0,192.2a1.6,1.6 0 1,0 3.2,0a1.6,1.6 0 1,0 -3.2,0M106.9,191.7a1.6,1.6 0 1,0 3.2,0a1.6,1.6 0 1,0 -3.2,0M109.7,191.1a1.6,1.6 0 1,0 3.2,0a1.6,1.6 0 1,0 -3.2,0M112.6,190.5a1.6,1.6 0 1,0 3.2,0a1.6,1.6 0 1,0 -3.2,0M115.4,189.9a1.6,1.6 0 1,0 3.2,0a1.6,1.6 0 1,0 -3.2,0M118.2,189.2a1.6,1.6 0 1,0 3.2,0a1.6,1.6 0 1,0 -3.2,0M121.0,188.5a1.6,1.6 0 1,0 3.2,0a1.6,1.6 0 1,0 -3.2,0M123.7,187.5a1.6,1.6 0 1,0 3.2,0a1.6,1.6 0 1,0 -3.2,0M126.4,186.4a1.6,1.6 0 1,0 3.2,0a1.6,1.6 0 1,0 -3.2,0M129.1,185.3a1.6,1.6 0 1,0 3.2,0a1.6,1.6 0 1,0 -3.2,0M131.7,184.0a1.6,1.6 0 1,0 3.2,0a1.6,1.6 0 1,0 -3.2,0M134.3,182.7a1.6,1.6 0 1,0 3.2,0a1.6,1.6 0 1,0 -3.2,0M136.9,181.4a1.6,1.6 0 1,0 3.2,0a1.6,1.6 0 1,0 -3.2,0M139.4,180.0a1.6,1.6 0 1,0 3.2,0a1.6,1.6 0 1,0 -3.2,0M142.0,178.6a1.6,1.6 0 1,0 3.2,0a1.6,1.6 0 1,0 -3.2,0M144.5,177.2a1.6,1.6 0 1,0 3.2,0a1.6,1.6 0 1,0 -3.2,0M147.0,175.8a1.6,1.6 0 1,0 3.2,0a1.6,1.6 0 1,0 -3.2,0M149.4,174.1a1.6,1.6 0 1,0 3.2,0a1.6,1.6 0 1,0 -3.2,0M151.6,172.3a1.6,1.6 0 1,0 3.2,0a1.6,1.6 0 1,0 -3.2,0M153.8,170.4a1.6,1.6 0 1,0 3.2,0a1.6,1.6 0 1,0 -3.2,0M155.8,168.3a1.6,1.6 0 1,0 3.2,0a1.6,1.6 0 1,0 -3.2,0M157.7,166.1a1.6,1.6 0 1,0 3.2,0a1.6,1.6 0 1,0 -3.2,0M159.5,163.8a1.6,1.6 0 1,0 3.2,0a1.6,1.6 0 1,0 -3.2,0M161.3,161.5a1.6,1.6 0 1,0 3.2,0a1.6,1.6 0 1,0 -3.2,0M162.9,159.1a1.6,1.6 0 1,0 3.2,0a1.6,1.6 0 1,0 -3.2,0M164.4,156.6a1.6,1.6 0 1,0 3.2,0a1.6,1.6 0 1,0 -3.2,0M165.9,154.1a1.6,1.6 0 1,0 3.2,0a1.6,1.6 0 1,0 -3.2,0M167.4,151.6a1.6,1.6 0 1,0 3.2,0a1.6,1.6 0 1,0 -3.2,0M168.8,149.1a1.6,1.6 0 1,0 3.2,0a1.6,1.6 0 1,0 -3.2,0M170.1,146.5a1.6,1.6 0 1,0 3.2,0a1.6,1.6 0 1,0 -3.2,0M171.3,143.9a1.6,1.6 0 1,0 3.2,0a1.6,1.6 0 1,0 -3.2,0M172.6,141.3a1.6,1.6 0 1,0 3.2,0a1.6,1.6 0 1,0 -3.2,0M173.9,138.7a1.6,1.6 0 1,0 3.2,0a1.6,1.6 0 1,0 -3.2,0M175.1,136.0a1.6,1.6 0 1,0 3.2,0a1.6,1.6 0 1,0 -3.2,0M176.1,133.3a1.6,1.6 0 1,0 3.2,0a1.6,1.6 0 1,0 -3.2,0M177.2,130.6a1.6,1.6 0 1,0 3.2,0a1.6,1.6 0 1,0 -3.2,0M178.3,127.9a1.6,1.6 0 1,0 3.2,0a1.6,1.6 0 1,0 -3.2,0M179.5,125.3a1.6,1.6 0 1,0 3.2,0a1.6,1.6 0 1,0 -3.2,0M180.6,122.6a1.6,1.6 0 1,0 3.2,0a1.6,1.6 0 1,0 -3.2,0M181.6,119.9a1.6,1.6 0 1,0 3.2,0a1.6,1.6 0 1,0 -3.2,0M182.6,117.2a1.6,1.6 0 1,0 3.2,0a1.6,1.6 0 1,0 -3.2,0M183.4,114.4a1.6,1.6 0 1,0 3.2,0a1.6,1.6 0 1,0 -3.2,0M184.2,111.6a1.6,1.6 0 1,0 3.2,0a1.6,1.6 0 1,0 -3.2,0M184.9,108.8a1.6,1.6 0 1,0 3.2,0a1.6,1.6 0 1,0 -3.2,0M185.6,106.0a1.6,1.6 0 1,0 3.2,0a1.6,1.6 0 1,0 -3.2,0M186.2,103.1a1.6,1.6 0 1,0 3.2,0a1.6,1.6 0 1,0 -3.2,0M186.7,100.3a1.6,1.6 0 1,0 3.2,0a1.6,1.6 0 1,0 -3.2,0M187.5,97.5a1.6,1.6 0 1,0 3.2,0a1.6,1.6 0 1,0 -3.2,0M188.4,94.7a1.6,1.6 0 1,0 3.2,0a1.6,1.6 0 1,0 -3.2,0M189.3,92.0a1.6,1.6 0 1,0 3.2,0a1.6,1.6 0 1,0 -3.2,0M190.1,89.2a1.6,1.6 0 1,0 3.2,0a1.6,1.6 0 1,0 -3.2,0M191.0,86.4a1.6,1.6 0 1,0 3.2,0a1.6,1.6 0 1,0 -3.2,0M192.0,83.7a1.6,1.6 0 1,0 3.2,0a1.6,1.6 0 1,0 -3.2,0M193.1,81.0a1.6,1.6 0 1,0 3.2,0a1.6,1.6 0 1,0 -3.2,0M194.1,78.3a1.6,1.6 0 1,0 3.2,0a1.6,1.6 0 1,0 -3.2,0M195.2,75.6a1.6,1.6 0 1,0 3.2,0a1.6,1.6 0 1,0 -3.2,0M196.3,73.0a1.6,1.6 0 1,0 3.2,0a1.6,1.6 0 1,0 -3.2,0M197.3,70.2a1.6,1.6 0 1,0 3.2,0a1.6,1.6 0 1,0 -3.2,0M198.6,67.6a1.6,1.6 0 1,0 3.2,0a1.6,1.6 0 1,0 -3.2,0M200.2,65.2a1.6,1.6 0 1,0 3.2,0a1.6,1.6 0 1,0 -3.2,0M201.6,62.7a1.6,1.6 0 1,0 3.2,0a1.6,1.6 0 1,0 -3.2,0M203.0,60.2a1.6,1.6 0 1,0 3.2,0a1.6,1.6 0 1,0 -3.2,0M204.8,57.9a1.6,1.6 0 1,0 3.2,0a1.6,1.6 0 1,0 -3.2,0M206.7,55.6a1.6,1.6 0 1,0 3.2,0a1.6,1.6 0 1,0 -3.2,0M208.4,53.3a1.6,1.6 0 1,0 3.2,0a1.6,1.6 0 1,0 -3.2,0M210.1,51.0a1.6,1.6 0 1,0 3.2,0a1.6,1.6 0 1,0 -3.2,0M211.8,48.6a1.6,1.6 0 1,0 3.2,0a1.6,1.6 0 1,0 -3.2,0M213.5,46.3a1.6,1.6 0 1,0 3.2,0a1.6,1.6 0 1,0 -3.2,0M215.2,43.9a1.6,1.6 0 1,0 3.2,0a1.6,1.6 0 1,0 -3.2,0M216.8,41.5a1.6,1.6 0 1,0 3.2,0a1.6,1.6 0 1,0 -3.2,0M218.4,39.1a1.6,1.6 0 1,0 3.2,0a1.6,1.6 0 1,0 -3.2,0M220.4,37.0a1.6,1.6 0 1,0 3.2,0a1.6,1.6 0 1,0 -3.2,0M222.6,35.1a1.6,1.6 0 1,0 3.2,0a1.6,1.6 0 1,0 -3.2,0M224.8,33.2a1.6,1.6 0 1,0 3.2,0a1.6,1.6 0 1,0 -3.2,0M227.0,31.3a1.6,1.6 0 1,0 3.2,0a1.6,1.6 0 1,0 -3.2,0M229.3,29.6a1.6,1.6 0 1,0 3.2,0a1.6,1.6 0 1,0 -3.2,0M231.7,28.0a1.6,1.6 0 1,0 3.2,0a1.6,1.6 0 1,0 -3.2,0M234.2,26.4a1.6,1.6 0 1,0 3.2,0a1.6,1.6 0 1,0 -3.2,0M236.6,24.9a1.6,1.6 0 1,0 3.2,0a1.6,1.6 0 1,0 -3.2,0M239.2,23.5a1.6,1.6 0 1,0 3.2,0a1.6,1.6 0 1,0 -3.2,0M241.8,22.3a1.6,1.6 0 1,0 3.2,0a1.6,1.6 0 1,0 -3.2,0M244.5,21.1a1.6,1.6 0 1,0 3.2,0a1.6,1.6 0 1,0 -3.2,0M247.2,20.1a1.6,1.6 0 1,0 3.2,0a1.6,1.6 0 1,0 -3.2,0M249.9,19.0a1.6,1.6 0 1,0 3.2,0a1.6,1.6 0 1,0 -3.2,0M252.7,18.3a1.6,1.6 0 1,0 3.2,0a1.6,1.6 0 1,0 -3.2,0M255.6,17.9a1.6,1.6 0 1,0 3.2,0a1.6,1.6 0 1,0 -3.2,0M258.4,17.6a1.6,1.6 0 1,0 3.2,0a1.6,1.6 0 1,0 -3.2,0M261.3,17.2a1.6,1.6 0 1,0 3.2,0a1.6,1.6 0 1,0 -3.2,0M264.2,16.9a1.6,1.6 0 1,0 3.2,0a1.6,1.6 0 1,0 -3.2,0M267.1,16.5a1.6,1.6 0 1,0 3.2,0a1.6,1.6 0 1,0 -3.2,0M269.9,16.1a1.6,1.6 0 1,0 3.2,0a1.6,1.6 0 1,0 -3.2,0M272.8,15.6a1.6,1.6 0 1,0 3.2,0a1.6,1.6 0 1,0 -3.2,0M275.7,15.1a1.6,1.6 0 1,0 3.2,0a1.6,1.6 0 1,0 -3.2,0M278.5,14.4a1.6,1.6 0 1,0 3.2,0a1.6,1.6 0 1,0 -3.2,0M281.3,13.9a1.6,1.6 0 1,0 3.2,0a1.6,1.6 0 1,0 -3.2,0M284.2,13.6a1.6,1.6 0 1,0 3.2,0a1.6,1.6 0 1,0 -3.2,0M287.1,13.4a1.6,1.6 0 1,0 3.2,0a1.6,1.6 0 1,0 -3.2,0M290.0,13.2a1.6,1.6 0 1,0 3.2,0a1.6,1.6 0 1,0 -3.2,0M292.9,13.0a1.6,1.6 0 1,0 3.2,0a1.6,1.6 0 1,0 -3.2,0M295.8,12.8a1.6,1.6 0 1,0 3.2,0a1.6,1.6 0 1,0 -3.2,0M298.7,12.6a1.6,1.6 0 1,0 3.2,0a1.6,1.6 0 1,0 -3.2,0M301.6,12.5a1.6,1.6 0 1,0 3.2,0a1.6,1.6 0 1,0 -3.2,0M304.5,12.3a1.6,1.6 0 1,0 3.2,0a1.6,1.6 0 1,0 -3.2,0M307.4,12.2a1.6,1.6 0 1,0 3.2,0a1.6,1.6 0 1,0 -3.2,0M310.3,12.1a1.6,1.6 0 1,0 3.2,0a1.6,1.6 0 1,0 -3.2,0M313.2,12.0a1.6,1.6 0 1,0 3.2,0a1.6,1.6 0 1,0 -3.2,0M316.1,11.9a1.6,1.6 0 1,0 3.2,0a1.6,1.6 0 1,0 -3.2,0M319.0,11.8a1.6,1.6 0 1,0 3.2,0a1.6,1.6 0 1,0 -3.2,0M321.9,11.7a1.6,1.6 0 1,0 3.2,0a1.6,1.6 0 1,0 -3.2,0M324.8,11.6a1.6,1.6 0 1,0 3.2,0a1.6,1.6 0 1,0 -3.2,0" fill="none" stroke="#11881a" stroke-width="1.9"/>
<line x1="58" y1="21" x2="80" y2="21" stroke="#000" stroke-width="1.3"/>
<circle cx="69.7" cy="21" r="1.25" fill="#fff" stroke="#000" stroke-width="1.6"/>
<text x="84.8" y="24.3" font-family="&quot;Liberation Serif&quot;, serif" font-weight="bold" font-style="italic" font-size="13">t=27 nm</text>
<line x1="58" y1="37.2" x2="80" y2="37.2" stroke="#ff0a0a" stroke-width="1.3"/>
<circle cx="69.7" cy="37.2" r="1.25" fill="#fff" stroke="#ff0a0a" stroke-width="1.6"/>
<text x="84.8" y="40.5" font-family="&quot;Liberation Serif&quot;, serif" font-weight="bold" font-style="italic" font-size="13">t=258 nm</text>
<line x1="58" y1="53" x2="80" y2="53" stroke="#0a0aff" stroke-width="1.3"/>
<circle cx="69.7" cy="53" r="1.25" fill="#fff" stroke="#0a0aff" stroke-width="1.6"/>
<text x="84.8" y="56.5" font-family="&quot;Liberation Serif&quot;, serif" font-weight="bold" font-style="italic" font-size="13">t=408 nm</text>
<text x="218.2" y="81.4" font-family="&quot;Liberation Serif&quot;, serif" font-weight="bold" font-style="italic" font-size="11.3">Amorphous Ribbon</text>
<line x1="222.8" y1="69" x2="218.3" y2="57.8" stroke="#222" stroke-width="0.8"/>
<polygon points="216.6,53.3 220.0,58.2 217.0,59.3" fill="#111"/>
<rect x="206.5" y="109.3" width="100" height="77" fill="#fff" stroke="#808080" stroke-width="1"/>
<line x1="206.5" y1="148.1" x2="306.5" y2="148.1" stroke="#707070" stroke-width="1"/>
<line x1="256.6" y1="109.3" x2="256.6" y2="186.3" stroke="#707070" stroke-width="1"/>
<line x1="206.6" y1="186.3" x2="206.6" y2="184.3" stroke="#808080" stroke-width="0.8"/>
<line x1="206.6" y1="109.3" x2="206.6" y2="111.3" stroke="#808080" stroke-width="0.8"/>
<line x1="219.1" y1="186.3" x2="219.1" y2="184.3" stroke="#808080" stroke-width="0.8"/>
<line x1="219.1" y1="109.3" x2="219.1" y2="111.3" stroke="#808080" stroke-width="0.8"/>
<line x1="231.6" y1="186.3" x2="231.6" y2="184.3" stroke="#808080" stroke-width="0.8"/>
<line x1="231.6" y1="109.3" x2="231.6" y2="111.3" stroke="#808080" stroke-width="0.8"/>
<line x1="244.1" y1="186.3" x2="244.1" y2="184.3" stroke="#808080" stroke-width="0.8"/>
<line x1="244.1" y1="109.3" x2="244.1" y2="111.3" stroke="#808080" stroke-width="0.8"/>
<line x1="256.6" y1="186.3" x2="256.6" y2="184.3" stroke="#808080" stroke-width="0.8"/>
<line x1="256.6" y1="109.3" x2="256.6" y2="111.3" stroke="#808080" stroke-width="0.8"/>
<line x1="269.1" y1="186.3" x2="269.1" y2="184.3" stroke="#808080" stroke-width="0.8"/>
<line x1="269.1" y1="109.3" x2="269.1" y2="111.3" stroke="#808080" stroke-width="0.8"/>
<line x1="281.6" y1="186.3" x2="281.6" y2="184.3" stroke="#808080" stroke-width="0.8"/>
<line x1="281.6" y1="109.3" x2="281.6" y2="111.3" stroke="#808080" stroke-width="0.8"/>
<line x1="294.1" y1="186.3" x2="294.1" y2="184.3" stroke="#808080" stroke-width="0.8"/>
<line x1="294.1" y1="109.3" x2="294.1" y2="111.3" stroke="#808080" stroke-width="0.8"/>
<line x1="306.6" y1="186.3" x2="306.6" y2="184.3" stroke="#808080" stroke-width="0.8"/>
<line x1="306.6" y1="109.3" x2="306.6" y2="111.3" stroke="#808080" stroke-width="0.8"/>
<line x1="206.5" y1="113.1" x2="208.5" y2="113.1" stroke="#808080" stroke-width="0.8"/>
<line x1="306.5" y1="113.1" x2="304.5" y2="113.1" stroke="#808080" stroke-width="0.8"/>
<line x1="206.5" y1="130.6" x2="208.5" y2="130.6" stroke="#808080" stroke-width="0.8"/>
<line x1="306.5" y1="130.6" x2="304.5" y2="130.6" stroke="#808080" stroke-width="0.8"/>
<line x1="206.5" y1="165.6" x2="208.5" y2="165.6" stroke="#808080" stroke-width="0.8"/>
<line x1="306.5" y1="165.6" x2="304.5" y2="165.6" stroke="#808080" stroke-width="0.8"/>
<line x1="206.5" y1="183.1" x2="208.5" y2="183.1" stroke="#808080" stroke-width="0.8"/>
<line x1="306.5" y1="183.1" x2="304.5" y2="183.1" stroke="#808080" stroke-width="0.8"/>
<text x="206.6" y="195.5" font-family="&quot;Liberation Serif&quot;, serif" font-weight="bold" font-size="8.5" text-anchor="middle">-2</text>
<text x="231.6" y="195.5" font-family="&quot;Liberation Serif&quot;, serif" font-weight="bold" font-size="8.5" text-anchor="middle">-1</text>
<text x="256.6" y="195.5" font-family="&quot;Liberation Serif&quot;, serif" font-weight="bold" font-size="8.5" text-anchor="middle">0</text>
<text x="281.6" y="195.5" font-family="&quot;Liberation Serif&quot;, serif" font-weight="bold" font-size="8.5" text-anchor="middle">1</text>
<text x="306.6" y="195.5" font-family="&quot;Liberation Serif&quot;, serif" font-weight="bold" font-size="8.5" text-anchor="middle">2</text>
<text x="259.5" y="204.3" font-family="&quot;Liberation Serif&quot;, serif" font-weight="bold" font-style="italic" font-size="8.3" text-anchor="middle">H (kOe)</text>
<text x="210.5" y="119.6" font-family="&quot;Liberation Serif&quot;, serif" font-weight="bold" font-style="italic" font-size="8">t=258 nm</text>
<text x="261.5" y="182.4" font-family="&quot;Liberation Serif&quot;, serif" font-weight="bold" font-style="italic" font-size="8.1">Out-of-plane</text>
<path d="M305.8,111.5a0.95,0.95 0 1,0 1.9,0a0.95,0.95 0 1,0 -1.9,0M305.1,111.9a0.95,0.95 0 1,0 1.9,0a0.95,0.95 0 1,0 -1.9,0M303.5,112.6a0.95,0.95 0 1,0 1.9,0a0.95,0.95 0 1,0 -1.9,0M302.0,113.1a0.95,0.95 0 1,0 1.9,0a0.95,0.95 0 1,0 -1.9,0M301.3,113.9a0.95,0.95 0 1,0 1.9,0a0.95,0.95 0 1,0 -1.9,0M299.5,113.9a0.95,0.95 0 1,0 1.9,0a0.95,0.95 0 1,0 -1.9,0M298.3,115.1a0.95,0.95 0 1,0 1.9,0a0.95,0.95 0 1,0 -1.9,0M297.8,114.8a0.95,0.95 0 1,0 1.9,0a0.95,0.95 0 1,0 -1.9,0M297.0,116.3a0.95,0.95 0 1,0 1.9,0a0.95,0.95 0 1,0 -1.9,0M295.4,116.5a0.95,0.95 0 1,0 1.9,0a0.95,0.95 0 1,0 -1.9,0M293.7,116.4a0.95,0.95 0 1,0 1.9,0a0.95,0.95 0 1,0 -1.9,0M293.0,117.1a0.95,0.95 0 1,0 1.9,0a0.95,0.95 0 1,0 -1.9,0M291.4,117.9a0.95,0.95 0 1,0 1.9,0a0.95,0.95 0 1,0 -1.9,0M290.1,118.7a0.95,0.95 0 1,0 1.9,0a0.95,0.95 0 1,0 -1.9,0M289.4,119.7a0.95,0.95 0 1,0 1.9,0a0.95,0.95 0 1,0 -1.9,0M288.4,120.1a0.95,0.95 0 1,0 1.9,0a0.95,0.95 0 1,0 -1.9,0M287.2,120.8a0.95,0.95 0 1,0 1.9,0a0.95,0.95 0 1,0 -1.9,0M286.0,121.0a0.95,0.95 0 1,0 1.9,0a0.95,0.95 0 1,0 -1.9,0M285.5,122.4a0.95,0.95 0 1,0 1.9,0a0.95,0.95 0 1,0 -1.9,0M284.1,122.7a0.95,0.95 0 1,0 1.9,0a0.95,0.95 0 1,0 -1.9,0M282.4,122.8a0.95,0.95 0 1,0 1.9,0a0.95,0.95 0 1,0 -1.9,0M281.3,123.2a0.95,0.95 0 1,0 1.9,0a0.95,0.95 0 1,0 -1.9,0M280.6,124.2a0.95,0.95 0 1,0 1.9,0a0.95,0.95 0 1,0 -1.9,0M279.6,124.8a0.95,0.95 0 1,0 1.9,0a0.95,0.95 0 1,0 -1.9,0M278.6,126.0a0.95,0.95 0 1,0 1.9,0a0.95,0.95 0 1,0 -1.9,0M276.4,125.9a0.95,0.95 0 1,0 1.9,0a0.95,0.95 0 1,0 -1.9,0M276.3,126.8a0.95,0.95 0 1,0 1.9,0a0.95,0.95 0 1,0 -1.9,0M275.2,127.4a0.95,0.95 0 1,0 1.9,0a0.95,0.95 0 1,0 -1.9,0M273.0,128.2a0.95,0.95 0 1,0 1.9,0a0.95,0.95 0 1,0 -1.9,0M272.7,128.4a0.95,0.95 0 1,0 1.9,0a0.95,0.95 0 1,0 -1.9,0M270.8,129.1a0.95,0.95 0 1,0 1.9,0a0.95,0.95 0 1,0 -1.9,0M270.6,130.2a0.95,0.95 0 1,0 1.9,0a0.95,0.95 0 1,0 -1.9,0M268.5,130.2a0.95,0.95 0 1,0 1.9,0a0.95,0.95 0 1,0 -1.9,0M267.3,130.5a0.95,0.95 0 1,0 1.9,0a0.95,0.95 0 1,0 -1.9,0M266.8,131.2a0.95,0.95 0 1,0 1.9,0a0.95,0.95 0 1,0 -1.9,0M265.4,132.0a0.95,0.95 0 1,0 1.9,0a0.95,0.95 0 1,0 -1.9,0M263.8,132.7a0.95,0.95 0 1,0 1.9,0a0.95,0.95 0 1,0 -1.9,0M262.5,133.1a0.95,0.95 0 1,0 1.9,0a0.95,0.95 0 1,0 -1.9,0M261.2,133.3a0.95,0.95 0 1,0 1.9,0a0.95,0.95 0 1,0 -1.9,0M260.1,133.6a0.95,0.95 0 1,0 1.9,0a0.95,0.95 0 1,0 -1.9,0M259.8,134.7a0.95,0.95 0 1,0 1.9,0a0.95,0.95 0 1,0 -1.9,0M257.9,135.3a0.95,0.95 0 1,0 1.9,0a0.95,0.95 0 1,0 -1.9,0M256.7,135.5a0.95,0.95 0 1,0 1.9,0a0.95,0.95 0 1,0 -1.9,0M256.5,136.7a0.95,0.95 0 1,0 1.9,0a0.95,0.95 0 1,0 -1.9,0M255.0,138.2a0.95,0.95 0 1,0 1.9,0a0.95,0.95 0 1,0 -1.9,0M254.6,138.6a0.95,0.95 0 1,0 1.9,0a0.95,0.95 0 1,0 -1.9,0M254.7,139.9a0.95,0.95 0 1,0 1.9,0a0.95,0.95 0 1,0 -1.9,0M253.8,140.8a0.95,0.95 0 1,0 1.9,0a0.95,0.95 0 1,0 -1.9,0M253.1,142.6a0.95,0.95 0 1,0 1.9,0a0.95,0.95 0 1,0 -1.9,0M252.8,143.9a0.95,0.95 0 1,0 1.9,0a0.95,0.95 0 1,0 -1.9,0M252.5,144.9a0.95,0.95 0 1,0 1.9,0a0.95,0.95 0 1,0 -1.9,0M252.6,146.2a0.95,0.95 0 1,0 1.9,0a0.95,0.95 0 1,0 -1.9,0M251.7,147.8a0.95,0.95 0 1,0 1.9,0a0.95,0.95 0 1,0 -1.9,0M250.7,148.1a0.95,0.95 0 1,0 1.9,0a0.95,0.95 0 1,0 -1.9,0M250.8,150.0a0.95,0.95 0 1,0 1.9,0a0.95,0.95 0 1,0 -1.9,0M249.4,150.4a0.95,0.95 0 1,0 1.9,0a0.95,0.95 0 1,0 -1.9,0M249.4,152.4a0.95,0.95 0 1,0 1.9,0a0.95,0.95 0 1,0 -1.9,0M248.2,153.6a0.95,0.95 0 1,0 1.9,0a0.95,0.95 0 1,0 -1.9,0M248.5,154.4a0.95,0.95 0 1,0 1.9,0a0.95,0.95 0 1,0 -1.9,0M247.6,155.1a0.95,0.95 0 1,0 1.9,0a0.95,0.95 0 1,0 -1.9,0M246.7,157.2a0.95,0.95 0 1,0 1.9,0a0.95,0.95 0 1,0 -1.9,0M246.3,158.1a0.95,0.95 0 1,0 1.9,0a0.95,0.95 0 1,0 -1.9,0M245.8,159.4a0.95,0.95 0 1,0 1.9,0a0.95,0.95 0 1,0 -1.9,0M245.5,160.0a0.95,0.95 0 1,0 1.9,0a0.95,0.95 0 1,0 -1.9,0M244.3,161.5a0.95,0.95 0 1,0 1.9,0a0.95,0.95 0 1,0 -1.9,0M243.2,161.8a0.95,0.95 0 1,0 1.9,0a0.95,0.95 0 1,0 -1.9,0M242.6,163.1a0.95,0.95 0 1,0 1.9,0a0.95,0.95 0 1,0 -1.9,0M241.4,163.0a0.95,0.95 0 1,0 1.9,0a0.95,0.95 0 1,0 -1.9,0M240.6,163.4a0.95,0.95 0 1,0 1.9,0a0.95,0.95 0 1,0 -1.9,0M238.4,164.0a0.95,0.95 0 1,0 1.9,0a0.95,0.95 0 1,0 -1.9,0M237.6,164.2a0.95,0.95 0 1,0 1.9,0a0.95,0.95 0 1,0 -1.9,0M236.1,164.9a0.95,0.95 0 1,0 1.9,0a0.95,0.95 0 1,0 -1.9,0M235.3,165.1a0.95,0.95 0 1,0 1.9,0a0.95,0.95 0 1,0 -1.9,0M233.8,166.3a0.95,0.95 0 1,0 1.9,0a0.95,0.95 0 1,0 -1.9,0M233.3,166.5a0.95,0.95 0 1,0 1.9,0a0.95,0.95 0 1,0 -1.9,0M231.7,166.8a0.95,0.95 0 1,0 1.9,0a0.95,0.95 0 1,0 -1.9,0M229.9,166.6a0.95,0.95 0 1,0 1.9,0a0.95,0.95 0 1,0 -1.9,0M228.5,168.0a0.95,0.95 0 1,0 1.9,0a0.95,0.95 0 1,0 -1.9,0M228.1,168.6a0.95,0.95 0 1,0 1.9,0a0.95,0.95 0 1,0 -1.9,0M226.1,168.7a0.95,0.95 0 1,0 1.9,0a0.95,0.95 0 1,0 -1.9,0M225.4,169.3a0.95,0.95 0 1,0 1.9,0a0.95,0.95 0 1,0 -1.9,0M224.0,170.1a0.95,0.95 0 1,0 1.9,0a0.95,0.95 0 1,0 -1.9,0M222.6,170.1a0.95,0.95 0 1,0 1.9,0a0.95,0.95 0 1,0 -1.9,0M222.1,170.9a0.95,0.95 0 1,0 1.9,0a0.95,0.95 0 1,0 -1.9,0M220.9,171.2a0.95,0.95 0 1,0 1.9,0a0.95,0.95 0 1,0 -1.9,0M219.8,172.0a0.95,0.95 0 1,0 1.9,0a0.95,0.95 0 1,0 -1.9,0M218.1,172.3a0.95,0.95 0 1,0 1.9,0a0.95,0.95 0 1,0 -1.9,0M217.5,173.0a0.95,0.95 0 1,0 1.9,0a0.95,0.95 0 1,0 -1.9,0M215.8,173.5a0.95,0.95 0 1,0 1.9,0a0.95,0.95 0 1,0 -1.9,0M215.1,173.8a0.95,0.95 0 1,0 1.9,0a0.95,0.95 0 1,0 -1.9,0M213.7,174.1a0.95,0.95 0 1,0 1.9,0a0.95,0.95 0 1,0 -1.9,0M212.5,175.0a0.95,0.95 0 1,0 1.9,0a0.95,0.95 0 1,0 -1.9,0M210.8,175.6a0.95,0.95 0 1,0 1.9,0a0.95,0.95 0 1,0 -1.9,0M210.6,176.5a0.95,0.95 0 1,0 1.9,0a0.95,0.95 0 1,0 -1.9,0M209.2,176.5a0.95,0.95 0 1,0 1.9,0a0.95,0.95 0 1,0 -1.9,0M208.0,177.3a0.95,0.95 0 1,0 1.9,0a0.95,0.95 0 1,0 -1.9,0M206.5,178.2a0.95,0.95 0 1,0 1.9,0a0.95,0.95 0 1,0 -1.9,0" fill="none" stroke="#ff0a0a" stroke-width="0.9"/>
<path d="M205.8,179.4a0.95,0.95 0 1,0 1.9,0a0.95,0.95 0 1,0 -1.9,0M207.2,178.3a0.95,0.95 0 1,0 1.9,0a0.95,0.95 0 1,0 -1.9,0M207.7,178.0a0.95,0.95 0 1,0 1.9,0a0.95,0.95 0 1,0 -1.9,0M209.2,178.0a0.95,0.95 0 1,0 1.9,0a0.95,0.95 0 1,0 -1.9,0M210.8,177.2a0.95,0.95 0 1,0 1.9,0a0.95,0.95 0 1,0 -1.9,0M211.9,176.8a0.95,0.95 0 1,0 1.9,0a0.95,0.95 0 1,0 -1.9,0M212.6,176.0a0.95,0.95 0 1,0 1.9,0a0.95,0.95 0 1,0 -1.9,0M213.8,176.0a0.95,0.95 0 1,0 1.9,0a0.95,0.95 0 1,0 -1.9,0M214.9,175.4a0.95,0.95 0 1,0 1.9,0a0.95,0.95 0 1,0 -1.9,0M216.1,174.8a0.95,0.95 0 1,0 1.9,0a0.95,0.95 0 1,0 -1.9,0M217.6,174.0a0.95,0.95 0 1,0 1.9,0a0.95,0.95 0 1,0 -1.9,0M219.4,173.1a0.95,0.95 0 1,0 1.9,0a0.95,0.95 0 1,0 -1.9,0M219.7,173.6a0.95,0.95 0 1,0 1.9,0a0.95,0.95 0 1,0 -1.9,0M221.4,172.2a0.95,0.95 0 1,0 1.9,0a0.95,0.95 0 1,0 -1.9,0M223.2,172.6a0.95,0.95 0 1,0 1.9,0a0.95,0.95 0 1,0 -1.9,0M223.4,171.5a0.95,0.95 0 1,0 1.9,0a0.95,0.95 0 1,0 -1.9,0M224.6,170.9a0.95,0.95 0 1,0 1.9,0a0.95,0.95 0 1,0 -1.9,0M226.4,170.3a0.95,0.95 0 1,0 1.9,0a0.95,0.95 0 1,0 -1.9,0M227.7,169.7a0.95,0.95 0 1,0 1.9,0a0.95,0.95 0 1,0 -1.9,0M228.3,170.1a0.95,0.95 0 1,0 1.9,0a0.95,0.95 0 1,0 -1.9,0M229.8,169.2a0.95,0.95 0 1,0 1.9,0a0.95,0.95 0 1,0 -1.9,0M231.2,168.8a0.95,0.95 0 1,0 1.9,0a0.95,0.95 0 1,0 -1.9,0M232.2,167.9a0.95,0.95 0 1,0 1.9,0a0.95,0.95 0 1,0 -1.9,0M233.8,168.6a0.95,0.95 0 1,0 1.9,0a0.95,0.95 0 1,0 -1.9,0M235.3,167.8a0.95,0.95 0 1,0 1.9,0a0.95,0.95 0 1,0 -1.9,0M235.9,167.1a0.95,0.95 0 1,0 1.9,0a0.95,0.95 0 1,0 -1.9,0M237.5,167.0a0.95,0.95 0 1,0 1.9,0a0.95,0.95 0 1,0 -1.9,0M238.1,166.1a0.95,0.95 0 1,0 1.9,0a0.95,0.95 0 1,0 -1.9,0M239.6,166.0a0.95,0.95 0 1,0 1.9,0a0.95,0.95 0 1,0 -1.9,0M241.3,165.5a0.95,0.95 0 1,0 1.9,0a0.95,0.95 0 1,0 -1.9,0M241.6,165.3a0.95,0.95 0 1,0 1.9,0a0.95,0.95 0 1,0 -1.9,0M243.2,164.5a0.95,0.95 0 1,0 1.9,0a0.95,0.95 0 1,0 -1.9,0M244.2,163.8a0.95,0.95 0 1,0 1.9,0a0.95,0.95 0 1,0 -1.9,0M245.5,163.6a0.95,0.95 0 1,0 1.9,0a0.95,0.95 0 1,0 -1.9,0M246.4,162.7a0.95,0.95 0 1,0 1.9,0a0.95,0.95 0 1,0 -1.9,0M247.6,162.3a0.95,0.95 0 1,0 1.9,0a0.95,0.95 0 1,0 -1.9,0M248.6,161.2a0.95,0.95 0 1,0 1.9,0a0.95,0.95 0 1,0 -1.9,0M250.0,160.9a0.95,0.95 0 1,0 1.9,0a0.95,0.95 0 1,0 -1.9,0M250.8,160.0a0.95,0.95 0 1,0 1.9,0a0.95,0.95 0 1,0 -1.9,0M252.1,159.2a0.95,0.95 0 1,0 1.9,0a0.95,0.95 0 1,0 -1.9,0M253.5,159.2a0.95,0.95 0 1,0 1.9,0a0.95,0.95 0 1,0 -1.9,0M254.6,158.5a0.95,0.95 0 1,0 1.9,0a0.95,0.95 0 1,0 -1.9,0M255.1,157.5a0.95,0.95 0 1,0 1.9,0a0.95,0.95 0 1,0 -1.9,0M255.9,155.6a0.95,0.95 0 1,0 1.9,0a0.95,0.95 0 1,0 -1.9,0M256.7,155.1a0.95,0.95 0 1,0 1.9,0a0.95,0.95 0 1,0 -1.9,0M256.1,153.1a0.95,0.95 0 1,0 1.9,0a0.95,0.95 0 1,0 -1.9,0M257.3,151.9a0.95,0.95 0 1,0 1.9,0a0.95,0.95 0 1,0 -1.9,0M257.3,150.4a0.95,0.95 0 1,0 1.9,0a0.95,0.95 0 1,0 -1.9,0M257.9,150.1a0.95,0.95 0 1,0 1.9,0a0.95,0.95 0 1,0 -1.9,0M259.8,149.5a0.95,0.95 0 1,0 1.9,0a0.95,0.95 0 1,0 -1.9,0M260.0,147.4a0.95,0.95 0 1,0 1.9,0a0.95,0.95 0 1,0 -1.9,0M260.6,147.2a0.95,0.95 0 1,0 1.9,0a0.95,0.95 0 1,0 -1.9,0M262.0,146.0a0.95,0.95 0 1,0 1.9,0a0.95,0.95 0 1,0 -1.9,0M262.1,144.8a0.95,0.95 0 1,0 1.9,0a0.95,0.95 0 1,0 -1.9,0M263.0,143.8a0.95,0.95 0 1,0 1.9,0a0.95,0.95 0 1,0 -1.9,0M263.3,143.0a0.95,0.95 0 1,0 1.9,0a0.95,0.95 0 1,0 -1.9,0M264.5,140.9a0.95,0.95 0 1,0 1.9,0a0.95,0.95 0 1,0 -1.9,0M264.4,140.5a0.95,0.95 0 1,0 1.9,0a0.95,0.95 0 1,0 -1.9,0M264.8,139.4a0.95,0.95 0 1,0 1.9,0a0.95,0.95 0 1,0 -1.9,0M265.5,137.9a0.95,0.95 0 1,0 1.9,0a0.95,0.95 0 1,0 -1.9,0M266.0,136.1a0.95,0.95 0 1,0 1.9,0a0.95,0.95 0 1,0 -1.9,0M266.0,134.9a0.95,0.95 0 1,0 1.9,0a0.95,0.95 0 1,0 -1.9,0M267.1,134.3a0.95,0.95 0 1,0 1.9,0a0.95,0.95 0 1,0 -1.9,0M267.3,133.5a0.95,0.95 0 1,0 1.9,0a0.95,0.95 0 1,0 -1.9,0M268.7,132.0a0.95,0.95 0 1,0 1.9,0a0.95,0.95 0 1,0 -1.9,0M269.8,132.1a0.95,0.95 0 1,0 1.9,0a0.95,0.95 0 1,0 -1.9,0M271.1,131.1a0.95,0.95 0 1,0 1.9,0a0.95,0.95 0 1,0 -1.9,0M272.7,131.0a0.95,0.95 0 1,0 1.9,0a0.95,0.95 0 1,0 -1.9,0M273.7,129.9a0.95,0.95 0 1,0 1.9,0a0.95,0.95 0 1,0 -1.9,0M274.7,129.9a0.95,0.95 0 1,0 1.9,0a0.95,0.95 0 1,0 -1.9,0M276.1,129.0a0.95,0.95 0 1,0 1.9,0a0.95,0.95 0 1,0 -1.9,0M276.8,128.3a0.95,0.95 0 1,0 1.9,0a0.95,0.95 0 1,0 -1.9,0M278.4,128.0a0.95,0.95 0 1,0 1.9,0a0.95,0.95 0 1,0 -1.9,0M278.8,127.6a0.95,0.95 0 1,0 1.9,0a0.95,0.95 0 1,0 -1.9,0M281.0,127.1a0.95,0.95 0 1,0 1.9,0a0.95,0.95 0 1,0 -1.9,0M282.1,126.7a0.95,0.95 0 1,0 1.9,0a0.95,0.95 0 1,0 -1.9,0M282.9,126.0a0.95,0.95 0 1,0 1.9,0a0.95,0.95 0 1,0 -1.9,0M283.9,124.7a0.95,0.95 0 1,0 1.9,0a0.95,0.95 0 1,0 -1.9,0M285.0,124.3a0.95,0.95 0 1,0 1.9,0a0.95,0.95 0 1,0 -1.9,0M286.8,124.2a0.95,0.95 0 1,0 1.9,0a0.95,0.95 0 1,0 -1.9,0M287.6,123.5a0.95,0.95 0 1,0 1.9,0a0.95,0.95 0 1,0 -1.9,0M288.2,122.8a0.95,0.95 0 1,0 1.9,0a0.95,0.95 0 1,0 -1.9,0M290.0,122.0a0.95,0.95 0 1,0 1.9,0a0.95,0.95 0 1,0 -1.9,0M290.6,121.3a0.95,0.95 0 1,0 1.9,0a0.95,0.95 0 1,0 -1.9,0M291.8,121.0a0.95,0.95 0 1,0 1.9,0a0.95,0.95 0 1,0 -1.9,0M292.8,119.7a0.95,0.95 0 1,0 1.9,0a0.95,0.95 0 1,0 -1.9,0M294.1,119.7a0.95,0.95 0 1,0 1.9,0a0.95,0.95 0 1,0 -1.9,0M295.7,119.0a0.95,0.95 0 1,0 1.9,0a0.95,0.95 0 1,0 -1.9,0M297.0,118.0a0.95,0.95 0 1,0 1.9,0a0.95,0.95 0 1,0 -1.9,0M297.1,117.5a0.95,0.95 0 1,0 1.9,0a0.95,0.95 0 1,0 -1.9,0M298.7,116.5a0.95,0.95 0 1,0 1.9,0a0.95,0.95 0 1,0 -1.9,0M300.1,116.0a0.95,0.95 0 1,0 1.9,0a0.95,0.95 0 1,0 -1.9,0M300.7,115.3a0.95,0.95 0 1,0 1.9,0a0.95,0.95 0 1,0 -1.9,0M302.6,114.3a0.95,0.95 0 1,0 1.9,0a0.95,0.95 0 1,0 -1.9,0M303.1,113.9a0.95,0.95 0 1,0 1.9,0a0.95,0.95 0 1,0 -1.9,0M304.0,113.4a0.95,0.95 0 1,0 1.9,0a0.95,0.95 0 1,0 -1.9,0M305.2,113.3a0.95,0.95 0 1,0 1.9,0a0.95,0.95 0 1,0 -1.9,0" fill="none" stroke="#ff0a0a" stroke-width="0.9"/>
<path d="M256.3,147.7a0.95,0.95 0 1,0 1.9,0a0.95,0.95 0 1,0 -1.9,0M256.8,146.6a0.95,0.95 0 1,0 1.9,0a0.95,0.95 0 1,0 -1.9,0M256.2,144.6a0.95,0.95 0 1,0 1.9,0a0.95,0.95 0 1,0 -1.9,0M256.3,143.3a0.95,0.95 0 1,0 1.9,0a0.95,0.95 0 1,0 -1.9,0M257.2,141.9a0.95,0.95 0 1,0 1.9,0a0.95,0.95 0 1,0 -1.9,0M257.5,140.8a0.95,0.95 0 1,0 1.9,0a0.95,0.95 0 1,0 -1.9,0M257.9,140.0a0.95,0.95 0 1,0 1.9,0a0.95,0.95 0 1,0 -1.9,0M259.4,139.2a0.95,0.95 0 1,0 1.9,0a0.95,0.95 0 1,0 -1.9,0M259.3,137.9a0.95,0.95 0 1,0 1.9,0a0.95,0.95 0 1,0 -1.9,0M260.4,137.6a0.95,0.95 0 1,0 1.9,0a0.95,0.95 0 1,0 -1.9,0M262.2,136.8a0.95,0.95 0 1,0 1.9,0a0.95,0.95 0 1,0 -1.9,0M263.4,136.2a0.95,0.95 0 1,0 1.9,0a0.95,0.95 0 1,0 -1.9,0M264.8,136.2a0.95,0.95 0 1,0 1.9,0a0.95,0.95 0 1,0 -1.9,0" fill="none" stroke="#ff0a0a" stroke-width="0.9"/>
<defs>
<linearGradient id="stripe" gradientUnits="userSpaceOnUse" x1="0" y1="0" x2="6.948" y2="8.489" spreadMethod="repeat" gradientTransform="translate(0.19 0.23)"><stop offset="0" stop-color="#000"/><stop offset="0.12" stop-color="#141414"/><stop offset="0.3" stop-color="#ebebeb"/><stop offset="0.5" stop-color="#fff"/><stop offset="0.7" stop-color="#ebebeb"/><stop offset="0.88" stop-color="#141414"/><stop offset="1" stop-color="#000"/></linearGradient>
<filter id="mfm" x="0" y="0" width="1" height="1" color-interpolation-filters="sRGB"><feTurbulence type="fractalNoise" baseFrequency="1.1" numOctaves="1" seed="7" result="n"/><feColorMatrix in="n" type="matrix" values="1 0 0 0 0 1 0 0 0 0 1 0 0 0 0 0 0 0 0 1" result="g"/><feTurbulence type="fractalNoise" baseFrequency="0.035" numOctaves="2" seed="3" result="lf"/><feGaussianBlur in="SourceGraphic" stdDeviation="1.0" result="sb"/><feDisplacementMap in="sb" in2="lf" scale="3" xChannelSelector="R" yChannelSelector="G" result="sd"/><feComposite in="sd" in2="g" operator="arithmetic" k1="0" k2="0.46" k3="1.1" k4="-0.27" result="s"/><feComponentTransfer in="s"><feFuncR type="table" tableValues="0.039 0.039 0.039 0.039 0.157 0.243 0.322 0.412 0.529 0.686 0.871 0.961 1.000 1.000 1.000 1.000 1.000"/><feFuncG type="table" tableValues="0.078 0.353 0.588 0.667 0.510 0.431 0.322 0.216 0.110 0.086 0.125 0.294 0.529 0.667 0.784 0.871 0.961"/><feFuncB type="table" tableValues="0.176 0.549 0.824 0.902 0.784 0.686 0.549 0.373 0.165 0.125 0.086 0.059 0.047 0.031 0.020 0.012 0.000"/><feFuncA type="linear" slope="0" intercept="1"/></feComponentTransfer><feConvolveMatrix order="3" kernelMatrix="1 2 1 2 10 2 1 2 1" divisor="22" edgeMode="duplicate"/><feColorMatrix type="saturate" values="0.7"/></filter>
<linearGradient id="cbar" x1="0" y1="0" x2="0" y2="1"><stop offset="0" stop-color="rgb(255, 245, 0)"/><stop offset="0.125" stop-color="rgb(255, 200, 5)"/><stop offset="0.25" stop-color="rgb(255, 135, 12)"/><stop offset="0.34" stop-color="rgb(245, 70, 18)"/><stop offset="0.375" stop-color="rgb(222, 32, 22)"/><stop offset="0.44" stop-color="rgb(180, 22, 32)"/><stop offset="0.5" stop-color="rgb(135, 28, 42)"/><stop offset="0.56" stop-color="rgb(95, 40, 80)"/><stop offset="0.625" stop-color="rgb(58, 62, 118)"/><stop offset="0.69" stop-color="rgb(35, 100, 170)"/><stop offset="0.75" stop-color="rgb(20, 130, 200)"/><stop offset="0.8125" stop-color="rgb(0, 185, 245)"/><stop offset="0.875" stop-color="rgb(10, 150, 210)"/><stop offset="0.94" stop-color="rgb(10, 90, 140)"/><stop offset="1" stop-color="rgb(10, 20, 45)"/></linearGradient>
</defs>
<clipPath id="imclip"><rect x="47" y="264.7" width="213.6" height="216.5"/></clipPath>
<g clip-path="url(#imclip)"><g filter="url(#mfm)"><rect x="39" y="256.7" width="229.6" height="232.5" fill="#000"/><path d="M37.0,251.7 43.0,246.8 49.0,241.8 55.0,236.9 61.0,232.0 67.0,227.1 73.0,222.2 79.0,217.4 85.0,212.5 91.0,207.7 97.0,202.9 103.0,198.2 109.0,193.4 115.0,188.7 121.0,184.0 127.0,179.3 133.0,174.6 139.0,169.9 145.0,165.3 151.0,160.7 157.0,156.0 163.0,151.5 169.0,146.9 175.0,142.3 181.0,137.8 187.0,133.3 193.0,128.8 199.0,124.3 205.0,119.9 211.0,115.4 217.0,111.0 223.0,106.6 229.0,102.2 235.0,97.9 241.0,93.5 247.0,89.2 253.0,84.9 259.0,80.6 265.0,76.3 271.0,72.0 271.0,80.6 265.0,84.9 259.0,89.2 253.0,93.5 247.0,97.8 241.0,102.1 235.0,106.5 229.0,110.8 223.0,115.2 217.0,119.6 211.0,124.0 205.0,128.5 199.0,132.9 193.0,137.4 187.0,141.9 181.0,146.4 175.0,150.9 169.0,155.5 163.0,160.0 157.0,164.6 151.0,169.2 145.0,173.9 139.0,178.5 133.0,183.2 127.0,187.8 121.0,192.5 115.0,197.2 109.0,202.0 103.0,206.7 97.0,211.5 91.0,216.3 85.0,221.1 79.0,226.0 73.0,230.8 67.0,235.7 61.0,240.6 55.0,245.5 49.0,250.4 43.0,255.4 37.0,260.3ZM37.0,266.0 43.0,261.1 49.0,256.1 55.0,251.2 61.0,246.3 67.0,241.4 73.0,236.5 79.0,231.7 85.0,226.8 91.0,222.0 97.0,217.2 103.0,212.5 109.0,207.7 115.0,203.0 121.0,198.3 127.0,193.6 133.0,188.9 139.0,184.2 145.0,179.6 151.0,175.0 157.0,170.3 163.0,165.8 169.0,161.2 175.0,156.6 181.0,152.1 187.0,147.6 193.0,143.1 199.0,138.6 205.0,134.2 211.0,129.7 217.0,125.3 223.0,120.9 229.0,116.5 235.0,112.2 241.0,107.8 247.0,103.5 253.0,99.2 259.0,94.9 265.0,90.6 271.0,86.3 271.0,94.9 265.0,99.2 259.0,103.5 253.0,107.8 247.0,112.1 241.0,116.4 235.0,120.8 229.0,125.1 223.0,129.5 217.0,133.9 211.0,138.3 205.0,142.8 199.0,147.2 193.0,151.7 187.0,156.2 181.0,160.7 175.0,165.2 169.0,169.8 163.0,174.3 157.0,178.9 151.0,183.5 145.0,188.2 139.0,192.8 133.0,197.5 127.0,202.1 121.0,206.8 115.0,211.5 109.0,216.3 103.0,221.0 97.0,225.8 91.0,230.6 85.0,235.4 79.0,240.3 73.0,245.1 67.0,250.0 61.0,254.9 55.0,259.8 49.0,264.7 43.0,269.7 37.0,274.6ZM37.0,280.3 43.0,275.4 49.0,270.4 55.0,265.5 61.0,260.6 67.0,255.7 73.0,250.8 79.0,246.0 85.0,241.1 91.0,236.3 97.0,231.5 103.0,226.8 109.0,222.0 115.0,217.3 121.0,212.6 127.0,207.9 133.0,203.2 139.0,198.5 145.0,193.9 151.0,189.3 157.0,184.6 163.0,180.1 169.0,175.5 175.0,170.9 181.0,166.4 187.0,161.9 193.0,157.4 199.0,152.9 205.0,148.5 211.0,144.0 217.0,139.6 223.0,135.2 229.0,130.8 235.0,126.5 241.0,122.1 247.0,117.8 253.0,113.5 259.0,109.2 265.0,104.9 271.0,100.6 271.0,109.2 265.0,113.5 259.0,117.8 253.0,122.1 247.0,126.4 241.0,130.7 235.0,135.1 229.0,139.4 223.0,143.8 217.0,148.2 211.0,152.6 205.0,157.1 199.0,161.5 193.0,166.0 187.0,170.5 181.0,175.0 175.0,179.5 169.0,184.1 163.0,188.6 157.0,193.2 151.0,197.8 145.0,202.5 139.0,207.1 133.0,211.8 127.0,216.4 121.0,221.1 115.0,225.8 109.0,230.6 103.0,235.3 97.0,240.1 91.0,244.9 85.0,249.7 79.0,254.6 73.0,259.4 67.0,264.3 61.0,269.2 55.0,274.1 49.0,279.0 43.0,284.0 37.0,288.9ZM37.0,294.6 43.0,289.7 49.0,284.7 55.0,279.8 61.0,274.9 67.0,270.0 73.0,265.1 79.0,260.3 85.0,255.4 91.0,250.6 97.0,245.8 103.0,241.1 109.0,236.3 115.0,231.6 121.0,226.9 127.0,222.2 133.0,217.5 139.0,212.8 145.0,208.2 151.0,203.6 157.0,198.9 163.0,194.4 169.0,189.8 175.0,185.2 181.0,180.7 187.0,176.2 193.0,171.7 199.0,167.2 205.0,162.8 211.0,158.3 217.0,153.9 223.0,149.5 229.0,145.1 235.0,140.8 241.0,136.4 247.0,132.1 253.0,127.8 259.0,123.5 265.0,119.2 271.0,114.9 271.0,123.5 265.0,127.8 259.0,132.1 253.0,136.4 247.0,140.7 241.0,145.0 235.0,149.4 229.0,153.7 223.0,158.1 217.0,162.5 211.0,166.9 205.0,171.4 199.0,175.8 193.0,180.3 187.0,184.8 181.0,189.3 175.0,193.8 169.0,198.4 163.0,202.9 157.0,207.5 151.0,212.1 145.0,216.8 139.0,221.4 133.0,226.1 127.0,230.7 121.0,235.4 115.0,240.1 109.0,244.9 103.0,249.6 97.0,254.4 91.0,259.2 85.0,264.0 79.0,268.9 73.0,273.7 67.0,278.6 61.0,283.5 55.0,288.4 49.0,293.3 43.0,298.3 37.0,303.2ZM37.0,308.9 43.0,304.0 49.0,299.0 55.0,294.1 61.0,289.2 67.0,284.3 73.0,279.4 79.0,274.6 85.0,269.7 91.0,264.9 97.0,260.1 103.0,255.4 109.0,250.6 115.0,245.9 121.0,241.2 127.0,236.5 133.0,231.8 139.0,227.1 145.0,222.5 151.0,217.9 157.0,213.2 163.0,208.7 169.0,204.1 175.0,199.5 181.0,195.0 187.0,190.5 193.0,186.0 199.0,181.5 205.0,177.1 211.0,172.6 217.0,168.2 223.0,163.8 229.0,159.4 235.0,155.1 241.0,150.7 247.0,146.4 253.0,142.1 259.0,137.8 265.0,133.5 271.0,129.2 271.0,137.8 265.0,142.1 259.0,146.4 253.0,150.7 247.0,155.0 241.0,159.3 235.0,163.7 229.0,168.0 223.0,172.4 217.0,176.8 211.0,181.2 205.0,185.7 199.0,190.1 193.0,194.6 187.0,199.1 181.0,203.6 175.0,208.1 169.0,212.7 163.0,217.2 157.0,221.8 151.0,226.4 145.0,231.1 139.0,235.7 133.0,240.4 127.0,245.0 121.0,249.7 115.0,254.4 109.0,259.2 103.0,263.9 97.0,268.7 91.0,273.5 85.0,278.3 79.0,283.2 73.0,288.0 67.0,292.9 61.0,297.8 55.0,302.7 49.0,307.6 43.0,312.6 37.0,317.5ZM37.0,323.2 43.0,318.3 49.0,313.3 55.0,308.4 61.0,303.5 67.0,298.6 73.0,293.7 79.0,288.9 85.0,284.0 91.0,279.2 97.0,274.4 103.0,269.7 109.0,264.9 115.0,260.2 121.0,255.5 127.0,250.8 133.0,246.1 139.0,241.4 145.0,236.8 151.0,232.2 157.0,227.5 163.0,223.0 169.0,218.4 175.0,213.8 181.0,209.3 187.0,204.8 193.0,200.3 199.0,195.8 205.0,191.4 211.0,186.9 217.0,182.5 223.0,178.1 229.0,173.7 235.0,169.4 241.0,165.0 247.0,160.7 253.0,156.4 259.0,152.1 265.0,147.8 271.0,143.5 271.0,152.1 265.0,156.4 259.0,160.7 253.0,165.0 247.0,169.3 241.0,173.6 235.0,178.0 229.0,182.3 223.0,186.7 217.0,191.1 211.0,195.5 205.0,200.0 199.0,204.4 193.0,208.9 187.0,213.4 181.0,217.9 175.0,222.4 169.0,227.0 163.0,231.5 157.0,236.1 151.0,240.7 145.0,245.4 139.0,250.0 133.0,254.7 127.0,259.3 121.0,264.0 115.0,268.7 109.0,273.5 103.0,278.2 97.0,283.0 91.0,287.8 85.0,292.6 79.0,297.5 73.0,302.3 67.0,307.2 61.0,312.1 55.0,317.0 49.0,321.9 43.0,326.9 37.0,331.8ZM37.0,337.5 43.0,332.6 49.0,327.6 55.0,322.7 61.0,317.8 67.0,312.9 73.0,308.0 79.0,303.2 85.0,298.3 91.0,293.5 97.0,288.7 103.0,284.0 109.0,279.2 115.0,274.5 121.0,269.8 127.0,265.1 133.0,260.4 139.0,255.7 145.0,251.1 151.0,246.5 157.0,241.8 163.0,237.3 169.0,232.7 175.0,228.1 181.0,223.6 187.0,219.1 193.0,214.6 199.0,210.1 205.0,205.7 211.0,201.2 217.0,196.8 223.0,192.4 229.0,188.0 235.0,183.7 241.0,179.3 247.0,175.0 253.0,170.7 259.0,166.4 265.0,162.1 271.0,157.8 271.0,166.4 265.0,170.7 259.0,175.0 253.0,179.3 247.0,183.6 241.0,187.9 235.0,192.3 229.0,196.6 223.0,201.0 217.0,205.4 211.0,209.8 205.0,214.3 199.0,218.7 193.0,223.2 187.0,227.7 181.0,232.2 175.0,236.7 169.0,241.3 163.0,245.8 157.0,250.4 151.0,255.0 145.0,259.7 139.0,264.3 133.0,269.0 127.0,273.6 121.0,278.3 115.0,283.0 109.0,287.8 103.0,292.5 97.0,297.3 91.0,302.1 85.0,306.9 79.0,311.8 73.0,316.6 67.0,321.5 61.0,326.4 55.0,331.3 49.0,336.2 43.0,341.2 37.0,346.1ZM37.0,351.8 43.0,346.9 49.0,341.9 55.0,337.0 61.0,332.1 67.0,327.2 73.0,322.3 79.0,317.5 85.0,312.6 91.0,307.8 97.0,303.0 103.0,298.3 109.0,293.5 115.0,288.8 121.0,284.1 127.0,279.4 133.0,274.7 139.0,270.0 145.0,265.4 151.0,260.8 157.0,256.1 163.0,251.6 169.0,247.0 175.0,242.4 181.0,237.9 187.0,233.4 193.0,228.9 199.0,224.4 205.0,220.0 211.0,215.5 217.0,211.1 223.0,206.7 229.0,202.3 235.0,198.0 241.0,193.6 247.0,189.3 253.0,185.0 259.0,180.7 265.0,176.4 271.0,172.1 271.0,180.7 265.0,185.0 259.0,189.3 253.0,193.6 247.0,197.9 241.0,202.2 235.0,206.6 229.0,210.9 223.0,215.3 217.0,219.7 211.0,224.1 205.0,228.6 199.0,233.0 193.0,237.5 187.0,242.0 181.0,246.5 175.0,251.0 169.0,255.6 163.0,260.1 157.0,264.7 151.0,269.3 145.0,274.0 139.0,278.6 133.0,283.3 127.0,287.9 121.0,292.6 115.0,297.3 109.0,302.1 103.0,306.8 97.0,311.6 91.0,316.4 85.0,321.2 79.0,326.1 73.0,330.9 67.0,335.8 61.0,340.7 55.0,345.6 49.0,350.5 43.0,355.5 37.0,360.4ZM37.0,366.1 43.0,361.2 49.0,356.2 55.0,351.3 61.0,346.4 67.0,341.5 73.0,336.6 79.0,331.8 85.0,326.9 91.0,322.1 97.0,317.3 103.0,312.6 109.0,307.8 115.0,303.1 121.0,298.4 127.0,293.7 133.0,289.0 139.0,284.3 145.0,279.7 151.0,275.1 157.0,270.4 163.0,265.9 169.0,261.3 175.0,256.7 181.0,252.2 187.0,247.7 193.0,243.2 199.0,238.7 205.0,234.3 211.0,229.8 217.0,225.4 223.0,221.0 229.0,216.6 235.0,212.3 241.0,207.9 247.0,203.6 253.0,199.3 259.0,195.0 265.0,190.7 271.0,186.4 271.0,195.0 265.0,199.3 259.0,203.6 253.0,207.9 247.0,212.2 241.0,216.5 235.0,220.9 229.0,225.2 223.0,229.6 217.0,234.0 211.0,238.4 205.0,242.9 199.0,247.3 193.0,251.8 187.0,256.3 181.0,260.8 175.0,265.3 169.0,269.9 163.0,274.4 157.0,279.0 151.0,283.6 145.0,288.3 139.0,292.9 133.0,297.6 127.0,302.2 121.0,306.9 115.0,311.6 109.0,316.4 103.0,321.1 97.0,325.9 91.0,330.7 85.0,335.5 79.0,340.4 73.0,345.2 67.0,350.1 61.0,355.0 55.0,359.9 49.0,364.8 43.0,369.8 37.0,374.7ZM37.0,380.4 43.0,375.5 49.0,370.5 55.0,365.6 61.0,360.7 67.0,355.8 73.0,350.9 79.0,346.1 85.0,341.2 91.0,336.4 97.0,331.6 103.0,326.9 109.0,322.1 115.0,317.4 121.0,312.7 127.0,308.0 133.0,303.3 139.0,298.6 145.0,294.0 151.0,289.4 157.0,284.7 163.0,280.2 169.0,275.6 175.0,271.0 181.0,266.5 187.0,262.0 193.0,257.5 199.0,253.0 205.0,248.6 211.0,244.1 217.0,239.7 223.0,235.3 229.0,230.9 235.0,226.6 241.0,222.2 247.0,217.9 253.0,213.6 259.0,209.3 265.0,205.0 271.0,200.7 271.0,209.3 265.0,213.6 259.0,217.9 253.0,222.2 247.0,226.5 241.0,230.8 235.0,235.2 229.0,239.5 223.0,243.9 217.0,248.3 211.0,252.7 205.0,257.2 199.0,261.6 193.0,266.1 187.0,270.6 181.0,275.1 175.0,279.6 169.0,284.2 163.0,288.7 157.0,293.3 151.0,297.9 145.0,302.6 139.0,307.2 133.0,311.9 127.0,316.5 121.0,321.2 115.0,325.9 109.0,330.7 103.0,335.4 97.0,340.2 91.0,345.0 85.0,349.8 79.0,354.7 73.0,359.5 67.0,364.4 61.0,369.3 55.0,374.2 49.0,379.1 43.0,384.1 37.0,389.0ZM37.0,394.7 43.0,389.8 49.0,384.8 55.0,379.9 61.0,375.0 67.0,370.1 73.0,365.2 79.0,360.4 85.0,355.5 91.0,350.7 97.0,345.9 103.0,341.2 109.0,336.4 115.0,331.7 121.0,327.0 127.0,322.3 133.0,317.6 139.0,312.9 145.0,308.3 151.0,303.7 157.0,299.0 163.0,294.5 169.0,289.9 175.0,285.3 181.0,280.8 187.0,276.3 193.0,271.8 199.0,267.3 205.0,262.9 211.0,258.4 217.0,254.0 223.0,249.6 229.0,245.2 235.0,240.9 241.0,236.5 247.0,232.2 253.0,227.9 259.0,223.6 265.0,219.3 271.0,215.0 271.0,223.6 265.0,227.9 259.0,232.2 253.0,236.5 247.0,240.8 241.0,245.1 235.0,249.5 229.0,253.8 223.0,258.2 217.0,262.6 211.0,267.0 205.0,271.5 199.0,275.9 193.0,280.4 187.0,284.9 181.0,289.4 175.0,293.9 169.0,298.5 163.0,303.0 157.0,307.6 151.0,312.2 145.0,316.9 139.0,321.5 133.0,326.2 127.0,330.8 121.0,335.5 115.0,340.2 109.0,345.0 103.0,349.7 97.0,354.5 91.0,359.3 85.0,364.1 79.0,369.0 73.0,373.8 67.0,378.7 61.0,383.6 55.0,388.5 49.0,393.4 43.0,398.4 37.0,403.3ZM37.0,409.0 43.0,404.1 49.0,399.1 55.0,394.2 61.0,389.3 67.0,384.4 73.0,379.5 79.0,374.7 85.0,369.8 91.0,365.0 97.0,360.2 103.0,355.5 109.0,350.7 115.0,346.0 121.0,341.3 127.0,336.6 133.0,331.9 139.0,327.2 145.0,322.6 151.0,318.0 157.0,313.3 163.0,308.8 169.0,304.2 175.0,299.6 181.0,295.1 187.0,290.6 193.0,286.1 199.0,281.6 205.0,277.2 211.0,272.7 217.0,268.3 223.0,263.9 229.0,259.5 235.0,255.2 241.0,250.8 247.0,246.5 253.0,242.2 259.0,237.9 265.0,233.6 271.0,229.3 271.0,237.9 265.0,242.2 259.0,246.5 253.0,250.8 247.0,255.1 241.0,259.4 235.0,263.8 229.0,268.1 223.0,272.5 217.0,276.9 211.0,281.3 205.0,285.8 199.0,290.2 193.0,294.7 187.0,299.2 181.0,303.7 175.0,308.2 169.0,312.8 163.0,317.3 157.0,321.9 151.0,326.5 145.0,331.2 139.0,335.8 133.0,340.5 127.0,345.1 121.0,349.8 115.0,354.5 109.0,359.3 103.0,364.0 97.0,368.8 91.0,373.6 85.0,378.4 79.0,383.3 73.0,388.1 67.0,393.0 61.0,397.9 55.0,402.8 49.0,407.7 43.0,412.7 37.0,417.6ZM37.0,423.3 43.0,418.4 49.0,413.4 55.0,408.5 61.0,403.6 67.0,398.7 73.0,393.8 79.0,389.0 85.0,384.1 91.0,379.3 97.0,374.5 103.0,369.8 109.0,365.0 115.0,360.3 121.0,355.6 127.0,350.9 133.0,346.2 139.0,341.5 145.0,336.9 151.0,332.3 157.0,327.6 163.0,323.1 169.0,318.5 175.0,313.9 181.0,309.4 187.0,304.9 193.0,300.4 199.0,295.9 205.0,291.5 211.0,287.0 217.0,282.6 223.0,278.2 229.0,273.8 235.0,269.5 241.0,265.1 247.0,260.8 253.0,256.5 259.0,252.2 265.0,247.9 271.0,243.6 271.0,252.2 265.0,256.5 259.0,260.8 253.0,265.1 247.0,269.4 241.0,273.7 235.0,278.1 229.0,282.4 223.0,286.8 217.0,291.2 211.0,295.6 205.0,300.1 199.0,304.5 193.0,309.0 187.0,313.5 181.0,318.0 175.0,322.5 169.0,327.1 163.0,331.6 157.0,336.2 151.0,340.8 145.0,345.5 139.0,350.1 133.0,354.8 127.0,359.4 121.0,364.1 115.0,368.8 109.0,373.6 103.0,378.3 97.0,383.1 91.0,387.9 85.0,392.7 79.0,397.6 73.0,402.4 67.0,407.3 61.0,412.2 55.0,417.1 49.0,422.0 43.0,427.0 37.0,431.9ZM37.0,437.6 43.0,432.7 49.0,427.7 55.0,422.8 61.0,417.9 67.0,413.0 73.0,408.1 79.0,403.3 85.0,398.4 91.0,393.6 97.0,388.8 103.0,384.1 109.0,379.3 115.0,374.6 121.0,369.9 127.0,365.2 133.0,360.5 139.0,355.8 145.0,351.2 151.0,346.6 157.0,341.9 163.0,337.4 169.0,332.8 175.0,328.2 181.0,323.7 187.0,319.2 193.0,314.7 199.0,310.2 205.0,305.8 211.0,301.3 217.0,296.9 223.0,292.5 229.0,288.1 235.0,283.8 241.0,279.4 247.0,275.1 253.0,270.8 259.0,266.5 265.0,262.2 271.0,257.9 271.0,266.5 265.0,270.8 259.0,275.1 253.0,279.4 247.0,283.7 241.0,288.0 235.0,292.4 229.0,296.7 223.0,301.1 217.0,305.5 211.0,309.9 205.0,314.4 199.0,318.8 193.0,323.3 187.0,327.8 181.0,332.3 175.0,336.8 169.0,341.4 163.0,345.9 157.0,350.5 151.0,355.1 145.0,359.8 139.0,364.4 133.0,369.1 127.0,373.7 121.0,378.4 115.0,383.1 109.0,387.9 103.0,392.6 97.0,397.4 91.0,402.2 85.0,407.0 79.0,411.9 73.0,416.7 67.0,421.6 61.0,426.5 55.0,431.4 49.0,436.3 43.0,441.3 37.0,446.2ZM37.0,451.9 43.0,447.0 49.0,442.0 55.0,437.1 61.0,432.2 67.0,427.3 73.0,422.4 79.0,417.6 85.0,412.7 91.0,407.9 97.0,403.1 103.0,398.4 109.0,393.6 115.0,388.9 121.0,384.2 127.0,379.5 133.0,374.8 139.0,370.1 145.0,365.5 151.0,360.9 157.0,356.2 163.0,351.7 169.0,347.1 175.0,342.5 181.0,338.0 187.0,333.5 193.0,329.0 199.0,324.5 205.0,320.1 211.0,315.6 217.0,311.2 223.0,306.8 229.0,302.4 235.0,298.1 241.0,293.7 247.0,289.4 253.0,285.1 259.0,280.8 265.0,276.5 271.0,272.2 271.0,280.8 265.0,285.1 259.0,289.4 253.0,293.7 247.0,298.0 241.0,302.3 235.0,306.7 229.0,311.0 223.0,315.4 217.0,319.8 211.0,324.2 205.0,328.7 199.0,333.1 193.0,337.6 187.0,342.1 181.0,346.6 175.0,351.1 169.0,355.7 163.0,360.2 157.0,364.8 151.0,369.4 145.0,374.1 139.0,378.7 133.0,383.4 127.0,388.0 121.0,392.7 115.0,397.4 109.0,402.2 103.0,406.9 97.0,411.7 91.0,416.5 85.0,421.3 79.0,426.2 73.0,431.0 67.0,435.9 61.0,440.8 55.0,445.7 49.0,450.6 43.0,455.6 37.0,460.5ZM37.0,466.2 43.0,461.3 49.0,456.3 55.0,451.4 61.0,446.5 67.0,441.6 73.0,436.7 79.0,431.9 85.0,427.0 91.0,422.2 97.0,417.4 103.0,412.7 109.0,407.9 115.0,403.2 121.0,398.5 127.0,393.8 133.0,389.1 139.0,384.4 145.0,379.8 151.0,375.2 157.0,370.5 163.0,366.0 169.0,361.4 175.0,356.8 181.0,352.3 187.0,347.8 193.0,343.3 199.0,338.8 205.0,334.4 211.0,329.9 217.0,325.5 223.0,321.1 229.0,316.7 235.0,312.4 241.0,308.0 247.0,303.7 253.0,299.4 259.0,295.1 265.0,290.8 271.0,286.5 271.0,295.1 265.0,299.4 259.0,303.7 253.0,308.0 247.0,312.3 241.0,316.6 235.0,321.0 229.0,325.3 223.0,329.7 217.0,334.1 211.0,338.5 205.0,343.0 199.0,347.4 193.0,351.9 187.0,356.4 181.0,360.9 175.0,365.4 169.0,370.0 163.0,374.5 157.0,379.1 151.0,383.7 145.0,388.4 139.0,393.0 133.0,397.7 127.0,402.3 121.0,407.0 115.0,411.7 109.0,416.5 103.0,421.2 97.0,426.0 91.0,430.8 85.0,435.6 79.0,440.5 73.0,445.3 67.0,450.2 61.0,455.1 55.0,460.0 49.0,464.9 43.0,469.9 37.0,474.8ZM37.0,480.5 43.0,475.6 49.0,470.6 55.0,465.7 61.0,460.8 67.0,455.9 73.0,451.0 79.0,446.2 85.0,441.3 91.0,436.5 97.0,431.7 103.0,427.0 109.0,422.2 115.0,417.5 121.0,412.8 127.0,408.1 133.0,403.4 139.0,398.7 145.0,394.1 151.0,389.5 157.0,384.8 163.0,380.3 169.0,375.7 175.0,371.1 181.0,366.6 187.0,362.1 193.0,357.6 199.0,353.1 205.0,348.7 211.0,344.2 217.0,339.8 223.0,335.4 229.0,331.0 235.0,326.7 241.0,322.3 247.0,318.0 253.0,313.7 259.0,309.4 265.0,305.1 271.0,300.8 271.0,309.4 265.0,313.7 259.0,318.0 253.0,322.3 247.0,326.6 241.0,330.9 235.0,335.3 229.0,339.6 223.0,344.0 217.0,348.4 211.0,352.8 205.0,357.3 199.0,361.7 193.0,366.2 187.0,370.7 181.0,375.2 175.0,379.7 169.0,384.3 163.0,388.8 157.0,393.4 151.0,398.0 145.0,402.7 139.0,407.3 133.0,412.0 127.0,416.6 121.0,421.3 115.0,426.0 109.0,430.8 103.0,435.5 97.0,440.3 91.0,445.1 85.0,449.9 79.0,454.8 73.0,459.6 67.0,464.5 61.0,469.4 55.0,474.3 49.0,479.2 43.0,484.2 37.0,489.1ZM37.0,494.8 43.0,489.9 49.0,484.9 55.0,480.0 61.0,475.1 67.0,470.2 73.0,465.3 79.0,460.5 85.0,455.6 91.0,450.8 97.0,446.0 103.0,441.3 109.0,436.5 115.0,431.8 121.0,427.1 127.0,422.4 133.0,417.7 139.0,413.0 145.0,408.4 151.0,403.8 157.0,399.1 163.0,394.6 169.0,390.0 175.0,385.4 181.0,380.9 187.0,376.4 193.0,371.9 199.0,367.4 205.0,363.0 211.0,358.5 217.0,354.1 223.0,349.7 229.0,345.3 235.0,341.0 241.0,336.6 247.0,332.3 253.0,328.0 259.0,323.7 265.0,319.4 271.0,315.1 271.0,323.7 265.0,328.0 259.0,332.3 253.0,336.6 247.0,340.9 241.0,345.2 235.0,349.6 229.0,353.9 223.0,358.3 217.0,362.7 211.0,367.1 205.0,371.6 199.0,376.0 193.0,380.5 187.0,385.0 181.0,389.5 175.0,394.0 169.0,398.6 163.0,403.1 157.0,407.7 151.0,412.3 145.0,417.0 139.0,421.6 133.0,426.3 127.0,430.9 121.0,435.6 115.0,440.3 109.0,445.1 103.0,449.8 97.0,454.6 91.0,459.4 85.0,464.2 79.0,469.1 73.0,473.9 67.0,478.8 61.0,483.7 55.0,488.6 49.0,493.5 43.0,498.5 37.0,503.4ZM37.0,509.1 43.0,504.2 49.0,499.2 55.0,494.3 61.0,489.4 67.0,484.5 73.0,479.6 79.0,474.8 85.0,469.9 91.0,465.1 97.0,460.3 103.0,455.6 109.0,450.8 115.0,446.1 121.0,441.4 127.0,436.7 133.0,432.0 139.0,427.3 145.0,422.7 151.0,418.1 157.0,413.4 163.0,408.9 169.0,404.3 175.0,399.7 181.0,395.2 187.0,390.7 193.0,386.2 199.0,381.7 205.0,377.3 211.0,372.8 217.0,368.4 223.0,364.0 229.0,359.6 235.0,355.3 241.0,350.9 247.0,346.6 253.0,342.3 259.0,338.0 265.0,333.7 271.0,329.4 271.0,338.0 265.0,342.3 259.0,346.6 253.0,350.9 247.0,355.2 241.0,359.5 235.0,363.9 229.0,368.2 223.0,372.6 217.0,377.0 211.0,381.4 205.0,385.9 199.0,390.3 193.0,394.8 187.0,399.3 181.0,403.8 175.0,408.3 169.0,412.9 163.0,417.4 157.0,422.0 151.0,426.6 145.0,431.3 139.0,435.9 133.0,440.6 127.0,445.2 121.0,449.9 115.0,454.6 109.0,459.4 103.0,464.1 97.0,468.9 91.0,473.7 85.0,478.5 79.0,483.4 73.0,488.2 67.0,493.1 61.0,498.0 55.0,502.9 49.0,507.8 43.0,512.8 37.0,517.7ZM37.0,523.4 43.0,518.5 49.0,513.5 55.0,508.6 61.0,503.7 67.0,498.8 73.0,493.9 79.0,489.1 85.0,484.2 91.0,479.4 97.0,474.6 103.0,469.9 109.0,465.1 115.0,460.4 121.0,455.7 127.0,451.0 133.0,446.3 139.0,441.6 145.0,437.0 151.0,432.4 157.0,427.7 163.0,423.2 169.0,418.6 175.0,414.0 181.0,409.5 187.0,405.0 193.0,400.5 199.0,396.0 205.0,391.6 211.0,387.1 217.0,382.7 223.0,378.3 229.0,373.9 235.0,369.6 241.0,365.2 247.0,360.9 253.0,356.6 259.0,352.3 265.0,348.0 271.0,343.7 271.0,352.3 265.0,356.6 259.0,360.9 253.0,365.2 247.0,369.5 241.0,373.8 235.0,378.2 229.0,382.5 223.0,386.9 217.0,391.3 211.0,395.7 205.0,400.2 199.0,404.6 193.0,409.1 187.0,413.6 181.0,418.1 175.0,422.6 169.0,427.2 163.0,431.7 157.0,436.3 151.0,440.9 145.0,445.6 139.0,450.2 133.0,454.9 127.0,459.5 121.0,464.2 115.0,468.9 109.0,473.7 103.0,478.4 97.0,483.2 91.0,488.0 85.0,492.8 79.0,497.7 73.0,502.5 67.0,507.4 61.0,512.3 55.0,517.2 49.0,522.1 43.0,527.1 37.0,532.0ZM37.0,537.7 43.0,532.8 49.0,527.8 55.0,522.9 61.0,518.0 67.0,513.1 73.0,508.2 79.0,503.4 85.0,498.5 91.0,493.7 97.0,488.9 103.0,484.2 109.0,479.4 115.0,474.7 121.0,470.0 127.0,465.3 133.0,460.6 139.0,455.9 145.0,451.3 151.0,446.7 157.0,442.0 163.0,437.5 169.0,432.9 175.0,428.3 181.0,423.8 187.0,419.3 193.0,414.8 199.0,410.3 205.0,405.9 211.0,401.4 217.0,397.0 223.0,392.6 229.0,388.2 235.0,383.9 241.0,379.5 247.0,375.2 253.0,370.9 259.0,366.6 265.0,362.3 271.0,358.0 271.0,366.6 265.0,370.9 259.0,375.2 253.0,379.5 247.0,383.8 241.0,388.1 235.0,392.5 229.0,396.8 223.0,401.2 217.0,405.6 211.0,410.0 205.0,414.5 199.0,418.9 193.0,423.4 187.0,427.9 181.0,432.4 175.0,436.9 169.0,441.5 163.0,446.0 157.0,450.6 151.0,455.2 145.0,459.9 139.0,464.5 133.0,469.2 127.0,473.8 121.0,478.5 115.0,483.2 109.0,488.0 103.0,492.7 97.0,497.5 91.0,502.3 85.0,507.1 79.0,512.0 73.0,516.8 67.0,521.7 61.0,526.6 55.0,531.5 49.0,536.4 43.0,541.4 37.0,546.3ZM37.0,552.0 43.0,547.1 49.0,542.1 55.0,537.2 61.0,532.3 67.0,527.4 73.0,522.5 79.0,517.7 85.0,512.8 91.0,508.0 97.0,503.2 103.0,498.5 109.0,493.7 115.0,489.0 121.0,484.3 127.0,479.6 133.0,474.9 139.0,470.2 145.0,465.6 151.0,461.0 157.0,456.3 163.0,451.8 169.0,447.2 175.0,442.6 181.0,438.1 187.0,433.6 193.0,429.1 199.0,424.6 205.0,420.2 211.0,415.7 217.0,411.3 223.0,406.9 229.0,402.5 235.0,398.2 241.0,393.8 247.0,389.5 253.0,385.2 259.0,380.9 265.0,376.6 271.0,372.3 271.0,380.9 265.0,385.2 259.0,389.5 253.0,393.8 247.0,398.1 241.0,402.4 235.0,406.8 229.0,411.1 223.0,415.5 217.0,419.9 211.0,424.3 205.0,428.8 199.0,433.2 193.0,437.7 187.0,442.2 181.0,446.7 175.0,451.2 169.0,455.8 163.0,460.3 157.0,464.9 151.0,469.5 145.0,474.2 139.0,478.8 133.0,483.5 127.0,488.1 121.0,492.8 115.0,497.5 109.0,502.3 103.0,507.0 97.0,511.8 91.0,516.6 85.0,521.4 79.0,526.3 73.0,531.1 67.0,536.0 61.0,540.9 55.0,545.8 49.0,550.7 43.0,555.7 37.0,560.6ZM37.0,566.3 43.0,561.4 49.0,556.4 55.0,551.5 61.0,546.6 67.0,541.7 73.0,536.8 79.0,532.0 85.0,527.1 91.0,522.3 97.0,517.5 103.0,512.8 109.0,508.0 115.0,503.3 121.0,498.6 127.0,493.9 133.0,489.2 139.0,484.5 145.0,479.9 151.0,475.3 157.0,470.6 163.0,466.1 169.0,461.5 175.0,456.9 181.0,452.4 187.0,447.9 193.0,443.4 199.0,438.9 205.0,434.5 211.0,430.0 217.0,425.6 223.0,421.2 229.0,416.8 235.0,412.5 241.0,408.1 247.0,403.8 253.0,399.5 259.0,395.2 265.0,390.9 271.0,386.6 271.0,395.2 265.0,399.5 259.0,403.8 253.0,408.1 247.0,412.4 241.0,416.7 235.0,421.1 229.0,425.4 223.0,429.8 217.0,434.2 211.0,438.6 205.0,443.1 199.0,447.5 193.0,452.0 187.0,456.5 181.0,461.0 175.0,465.5 169.0,470.1 163.0,474.6 157.0,479.2 151.0,483.8 145.0,488.5 139.0,493.1 133.0,497.8 127.0,502.4 121.0,507.1 115.0,511.8 109.0,516.6 103.0,521.3 97.0,526.1 91.0,530.9 85.0,535.7 79.0,540.6 73.0,545.4 67.0,550.3 61.0,555.2 55.0,560.1 49.0,565.0 43.0,570.0 37.0,574.9ZM37.0,580.6 43.0,575.7 49.0,570.7 55.0,565.8 61.0,560.9 67.0,556.0 73.0,551.1 79.0,546.3 85.0,541.4 91.0,536.6 97.0,531.8 103.0,527.1 109.0,522.3 115.0,517.6 121.0,512.9 127.0,508.2 133.0,503.5 139.0,498.8 145.0,494.2 151.0,489.6 157.0,484.9 163.0,480.4 169.0,475.8 175.0,471.2 181.0,466.7 187.0,462.2 193.0,457.7 199.0,453.2 205.0,448.8 211.0,444.3 217.0,439.9 223.0,435.5 229.0,431.1 235.0,426.8 241.0,422.4 247.0,418.1 253.0,413.8 259.0,409.5 265.0,405.2 271.0,400.9 271.0,409.5 265.0,413.8 259.0,418.1 253.0,422.4 247.0,426.7 241.0,431.0 235.0,435.4 229.0,439.7 223.0,444.1 217.0,448.5 211.0,452.9 205.0,457.4 199.0,461.8 193.0,466.3 187.0,470.8 181.0,475.3 175.0,479.8 169.0,484.4 163.0,488.9 157.0,493.5 151.0,498.1 145.0,502.8 139.0,507.4 133.0,512.1 127.0,516.7 121.0,521.4 115.0,526.1 109.0,530.9 103.0,535.6 97.0,540.4 91.0,545.2 85.0,550.0 79.0,554.9 73.0,559.7 67.0,564.6 61.0,569.5 55.0,574.4 49.0,579.3 43.0,584.3 37.0,589.2ZM37.0,594.9 43.0,590.0 49.0,585.0 55.0,580.1 61.0,575.2 67.0,570.3 73.0,565.4 79.0,560.6 85.0,555.7 91.0,550.9 97.0,546.1 103.0,541.4 109.0,536.6 115.0,531.9 121.0,527.2 127.0,522.5 133.0,517.8 139.0,513.1 145.0,508.5 151.0,503.9 157.0,499.2 163.0,494.7 169.0,490.1 175.0,485.5 181.0,481.0 187.0,476.5 193.0,472.0 199.0,467.5 205.0,463.1 211.0,458.6 217.0,454.2 223.0,449.8 229.0,445.4 235.0,441.1 241.0,436.7 247.0,432.4 253.0,428.1 259.0,423.8 265.0,419.5 271.0,415.2 271.0,423.8 265.0,428.1 259.0,432.4 253.0,436.7 247.0,441.0 241.0,445.3 235.0,449.7 229.0,454.0 223.0,458.4 217.0,462.8 211.0,467.2 205.0,471.7 199.0,476.1 193.0,480.6 187.0,485.1 181.0,489.6 175.0,494.1 169.0,498.7 163.0,503.2 157.0,507.8 151.0,512.4 145.0,517.1 139.0,521.7 133.0,526.4 127.0,531.0 121.0,535.7 115.0,540.4 109.0,545.2 103.0,549.9 97.0,554.7 91.0,559.5 85.0,564.3 79.0,569.2 73.0,574.0 67.0,578.9 61.0,583.8 55.0,588.7 49.0,593.6 43.0,598.6 37.0,603.5ZM37.0,609.2 43.0,604.3 49.0,599.3 55.0,594.4 61.0,589.5 67.0,584.6 73.0,579.7 79.0,574.9 85.0,570.0 91.0,565.2 97.0,560.4 103.0,555.7 109.0,550.9 115.0,546.2 121.0,541.5 127.0,536.8 133.0,532.1 139.0,527.4 145.0,522.8 151.0,518.2 157.0,513.5 163.0,509.0 169.0,504.4 175.0,499.8 181.0,495.3 187.0,490.8 193.0,486.3 199.0,481.8 205.0,477.4 211.0,472.9 217.0,468.5 223.0,464.1 229.0,459.7 235.0,455.4 241.0,451.0 247.0,446.7 253.0,442.4 259.0,438.1 265.0,433.8 271.0,429.5 271.0,438.1 265.0,442.4 259.0,446.7 253.0,451.0 247.0,455.3 241.0,459.6 235.0,464.0 229.0,468.3 223.0,472.7 217.0,477.1 211.0,481.5 205.0,486.0 199.0,490.4 193.0,494.9 187.0,499.4 181.0,503.9 175.0,508.4 169.0,513.0 163.0,517.5 157.0,522.1 151.0,526.7 145.0,531.4 139.0,536.0 133.0,540.7 127.0,545.3 121.0,550.0 115.0,554.7 109.0,559.5 103.0,564.2 97.0,569.0 91.0,573.8 85.0,578.6 79.0,583.5 73.0,588.3 67.0,593.2 61.0,598.1 55.0,603.0 49.0,607.9 43.0,612.9 37.0,617.8ZM37.0,623.5 43.0,618.6 49.0,613.6 55.0,608.7 61.0,603.8 67.0,598.9 73.0,594.0 79.0,589.2 85.0,584.3 91.0,579.5 97.0,574.7 103.0,570.0 109.0,565.2 115.0,560.5 121.0,555.8 127.0,551.1 133.0,546.4 139.0,541.7 145.0,537.1 151.0,532.5 157.0,527.8 163.0,523.3 169.0,518.7 175.0,514.1 181.0,509.6 187.0,505.1 193.0,500.6 199.0,496.1 205.0,491.7 211.0,487.2 217.0,482.8 223.0,478.4 229.0,474.0 235.0,469.7 241.0,465.3 247.0,461.0 253.0,456.7 259.0,452.4 265.0,448.1 271.0,443.8 271.0,452.4 265.0,456.7 259.0,461.0 253.0,465.3 247.0,469.6 241.0,473.9 235.0,478.3 229.0,482.6 223.0,487.0 217.0,491.4 211.0,495.8 205.0,500.3 199.0,504.7 193.0,509.2 187.0,513.7 181.0,518.2 175.0,522.7 169.0,527.3 163.0,531.8 157.0,536.4 151.0,541.0 145.0,545.7 139.0,550.3 133.0,555.0 127.0,559.6 121.0,564.3 115.0,569.0 109.0,573.8 103.0,578.5 97.0,583.3 91.0,588.1 85.0,592.9 79.0,597.8 73.0,602.6 67.0,607.5 61.0,612.4 55.0,617.3 49.0,622.2 43.0,627.2 37.0,632.1ZM37.0,637.8 43.0,632.9 49.0,627.9 55.0,623.0 61.0,618.1 67.0,613.2 73.0,608.3 79.0,603.5 85.0,598.6 91.0,593.8 97.0,589.0 103.0,584.3 109.0,579.5 115.0,574.8 121.0,570.1 127.0,565.4 133.0,560.7 139.0,556.0 145.0,551.4 151.0,546.8 157.0,542.1 163.0,537.6 169.0,533.0 175.0,528.4 181.0,523.9 187.0,519.4 193.0,514.9 199.0,510.4 205.0,506.0 211.0,501.5 217.0,497.1 223.0,492.7 229.0,488.3 235.0,484.0 241.0,479.6 247.0,475.3 253.0,471.0 259.0,466.7 265.0,462.4 271.0,458.1 271.0,466.7 265.0,471.0 259.0,475.3 253.0,479.6 247.0,483.9 241.0,488.2 235.0,492.6 229.0,496.9 223.0,501.3 217.0,505.7 211.0,510.1 205.0,514.6 199.0,519.0 193.0,523.5 187.0,528.0 181.0,532.5 175.0,537.0 169.0,541.6 163.0,546.1 157.0,550.7 151.0,555.3 145.0,560.0 139.0,564.6 133.0,569.3 127.0,573.9 121.0,578.6 115.0,583.3 109.0,588.1 103.0,592.8 97.0,597.6 91.0,602.4 85.0,607.2 79.0,612.1 73.0,616.9 67.0,621.8 61.0,626.7 55.0,631.6 49.0,636.5 43.0,641.5 37.0,646.4ZM37.0,652.1 43.0,647.2 49.0,642.2 55.0,637.3 61.0,632.4 67.0,627.5 73.0,622.6 79.0,617.8 85.0,612.9 91.0,608.1 97.0,603.3 103.0,598.6 109.0,593.8 115.0,589.1 121.0,584.4 127.0,579.7 133.0,575.0 139.0,570.3 145.0,565.7 151.0,561.1 157.0,556.4 163.0,551.9 169.0,547.3 175.0,542.7 181.0,538.2 187.0,533.7 193.0,529.2 199.0,524.7 205.0,520.3 211.0,515.8 217.0,511.4 223.0,507.0 229.0,502.6 235.0,498.3 241.0,493.9 247.0,489.6 253.0,485.3 259.0,481.0 265.0,476.7 271.0,472.4 271.0,481.0 265.0,485.3 259.0,489.6 253.0,493.9 247.0,498.2 241.0,502.5 235.0,506.9 229.0,511.2 223.0,515.6 217.0,520.0 211.0,524.4 205.0,528.9 199.0,533.3 193.0,537.8 187.0,542.3 181.0,546.8 175.0,551.3 169.0,555.9 163.0,560.4 157.0,565.0 151.0,569.6 145.0,574.3 139.0,578.9 133.0,583.6 127.0,588.2 121.0,592.9 115.0,597.6 109.0,602.4 103.0,607.1 97.0,611.9 91.0,616.7 85.0,621.5 79.0,626.4 73.0,631.2 67.0,636.1 61.0,641.0 55.0,645.9 49.0,650.8 43.0,655.8 37.0,660.7ZM37.0,666.4 43.0,661.5 49.0,656.5 55.0,651.6 61.0,646.7 67.0,641.8 73.0,636.9 79.0,632.1 85.0,627.2 91.0,622.4 97.0,617.6 103.0,612.9 109.0,608.1 115.0,603.4 121.0,598.7 127.0,594.0 133.0,589.3 139.0,584.6 145.0,580.0 151.0,575.4 157.0,570.7 163.0,566.2 169.0,561.6 175.0,557.0 181.0,552.5 187.0,548.0 193.0,543.5 199.0,539.0 205.0,534.6 211.0,530.1 217.0,525.7 223.0,521.3 229.0,516.9 235.0,512.6 241.0,508.2 247.0,503.9 253.0,499.6 259.0,495.3 265.0,491.0 271.0,486.7 271.0,495.3 265.0,499.6 259.0,503.9 253.0,508.2 247.0,512.5 241.0,516.8 235.0,521.2 229.0,525.5 223.0,529.9 217.0,534.3 211.0,538.7 205.0,543.2 199.0,547.6 193.0,552.1 187.0,556.6 181.0,561.1 175.0,565.6 169.0,570.2 163.0,574.7 157.0,579.3 151.0,583.9 145.0,588.6 139.0,593.2 133.0,597.9 127.0,602.5 121.0,607.2 115.0,611.9 109.0,616.7 103.0,621.4 97.0,626.2 91.0,631.0 85.0,635.8 79.0,640.7 73.0,645.5 67.0,650.4 61.0,655.3 55.0,660.2 49.0,665.1 43.0,670.1 37.0,675.0Z" fill="#fff"/></g></g>
<defs><radialGradient id="blob1"><stop offset="0" stop-color="#0a1040"/><stop offset="0.55" stop-color="#102a80"/><stop offset="1" stop-color="#2a6ac0" stop-opacity="0"/></radialGradient><radialGradient id="blob2"><stop offset="0" stop-color="#fff200"/><stop offset="0.6" stop-color="#ffd800"/><stop offset="1" stop-color="#ff9a10" stop-opacity="0"/></radialGradient></defs>
<ellipse cx="51.8" cy="318.2" rx="3.4" ry="4.0" fill="url(#blob1)"/>
<ellipse cx="0" cy="0" rx="2.6" ry="4.2" fill="url(#blob2)" transform="translate(56.7 319.1) rotate(-30)"/>
<circle cx="84.4" cy="331.6" r="2.3" fill="url(#blob2)"/>
<rect x="47" y="264.7" width="213.6" height="216.5" fill="none" stroke="#1a1a2a" stroke-width="0.9"/>
<line x1="47" y1="264.7" x2="47" y2="481.2" stroke="#555" stroke-width="1"/>
<line x1="47" y1="481.2" x2="260.6" y2="481.2" stroke="#555" stroke-width="1"/>
<line x1="39.5" y1="481.2" x2="47" y2="481.2" stroke="#555" stroke-width="1.2"/>
<text x="36.6" y="485.2" font-family="&quot;Liberation Sans&quot;, sans-serif" font-size="11" fill="#333" text-anchor="end">0</text>
<line x1="47.0" y1="481.2" x2="47.0" y2="488.3" stroke="#555" stroke-width="1.2"/>
<text x="47.0" y="502.3" font-family="&quot;Liberation Sans&quot;, sans-serif" font-size="11" fill="#333" text-anchor="middle">0</text>
<line x1="39.5" y1="450.3" x2="47" y2="450.3" stroke="#555" stroke-width="1.2"/>
<text x="36.6" y="454.3" font-family="&quot;Liberation Sans&quot;, sans-serif" font-size="11" fill="#333" text-anchor="end">1</text>
<line x1="77.5" y1="481.2" x2="77.5" y2="488.3" stroke="#555" stroke-width="1.2"/>
<text x="77.5" y="502.3" font-family="&quot;Liberation Sans&quot;, sans-serif" font-size="11" fill="#333" text-anchor="middle">1</text>
<line x1="39.5" y1="419.5" x2="47" y2="419.5" stroke="#555" stroke-width="1.2"/>
<text x="36.6" y="423.5" font-family="&quot;Liberation Sans&quot;, sans-serif" font-size="11" fill="#333" text-anchor="end">2</text>
<line x1="107.9" y1="481.2" x2="107.9" y2="488.3" stroke="#555" stroke-width="1.2"/>
<text x="107.9" y="502.3" font-family="&quot;Liberation Sans&quot;, sans-serif" font-size="11" fill="#333" text-anchor="middle">2</text>
<line x1="39.5" y1="388.6" x2="47" y2="388.6" stroke="#555" stroke-width="1.2"/>
<text x="36.6" y="392.6" font-family="&quot;Liberation Sans&quot;, sans-serif" font-size="11" fill="#333" text-anchor="end">3</text>
<line x1="138.4" y1="481.2" x2="138.4" y2="488.3" stroke="#555" stroke-width="1.2"/>
<text x="138.4" y="502.3" font-family="&quot;Liberation Sans&quot;, sans-serif" font-size="11" fill="#333" text-anchor="middle">3</text>
<line x1="39.5" y1="357.8" x2="47" y2="357.8" stroke="#555" stroke-width="1.2"/>
<text x="36.6" y="361.8" font-family="&quot;Liberation Sans&quot;, sans-serif" font-size="11" fill="#333" text-anchor="end">4</text>
<line x1="168.9" y1="481.2" x2="168.9" y2="488.3" stroke="#555" stroke-width="1.2"/>
<text x="168.9" y="502.3" font-family="&quot;Liberation Sans&quot;, sans-serif" font-size="11" fill="#333" text-anchor="middle">4</text>
<line x1="39.5" y1="326.9" x2="47" y2="326.9" stroke="#555" stroke-width="1.2"/>
<text x="36.6" y="330.9" font-family="&quot;Liberation Sans&quot;, sans-serif" font-size="11" fill="#333" text-anchor="end">5</text>
<line x1="199.3" y1="481.2" x2="199.3" y2="488.3" stroke="#555" stroke-width="1.2"/>
<text x="199.3" y="502.3" font-family="&quot;Liberation Sans&quot;, sans-serif" font-size="11" fill="#333" text-anchor="middle">5</text>
<line x1="39.5" y1="296.0" x2="47" y2="296.0" stroke="#555" stroke-width="1.2"/>
<text x="36.6" y="300.0" font-family="&quot;Liberation Sans&quot;, sans-serif" font-size="11" fill="#333" text-anchor="end">6</text>
<line x1="229.8" y1="481.2" x2="229.8" y2="488.3" stroke="#555" stroke-width="1.2"/>
<text x="229.8" y="502.3" font-family="&quot;Liberation Sans&quot;, sans-serif" font-size="11" fill="#333" text-anchor="middle">6</text>
<line x1="39.5" y1="265.2" x2="47" y2="265.2" stroke="#555" stroke-width="1.2"/>
<text x="36.6" y="269.2" font-family="&quot;Liberation Sans&quot;, sans-serif" font-size="11" fill="#333" text-anchor="end">7</text>
<line x1="260.3" y1="481.2" x2="260.3" y2="488.3" stroke="#555" stroke-width="1.2"/>
<text x="260.3" y="502.3" font-family="&quot;Liberation Sans&quot;, sans-serif" font-size="11" fill="#333" text-anchor="middle">7</text>
<text x="153" y="518.4" font-family="&quot;Liberation Sans&quot;, sans-serif" font-size="12.2" fill="#333" text-anchor="middle">µm</text>
<text x="0" y="0" font-family="&quot;Liberation Sans&quot;, sans-serif" font-size="12.2" fill="#333" text-anchor="middle" transform="translate(12.4 373.3) rotate(-90)">µm</text>
<text x="50.6" y="472.8" font-family="&quot;Liberation Serif&quot;, serif" font-size="22.5">(b)</text>
<rect x="267.8" y="291" width="15.8" height="165.8" fill="url(#cbar)" stroke="#333" stroke-width="1"/>
<line x1="283.6" y1="292.1" x2="291.2" y2="292.1" stroke="#555" stroke-width="1.2"/>
<text x="313" y="296.2" font-family="&quot;Liberation Sans&quot;, sans-serif" font-size="11.5" fill="#333" text-anchor="end">0.8</text>
<line x1="283.6" y1="312.7" x2="291.2" y2="312.7" stroke="#555" stroke-width="1.2"/>
<text x="313" y="316.8" font-family="&quot;Liberation Sans&quot;, sans-serif" font-size="11.5" fill="#333" text-anchor="end">0.6</text>
<line x1="283.6" y1="333.3" x2="291.2" y2="333.3" stroke="#555" stroke-width="1.2"/>
<text x="313" y="337.4" font-family="&quot;Liberation Sans&quot;, sans-serif" font-size="11.5" fill="#333" text-anchor="end">0.4</text>
<line x1="283.6" y1="353.9" x2="291.2" y2="353.9" stroke="#555" stroke-width="1.2"/>
<text x="313" y="358.0" font-family="&quot;Liberation Sans&quot;, sans-serif" font-size="11.5" fill="#333" text-anchor="end">0.2</text>
<line x1="283.6" y1="374.5" x2="291.2" y2="374.5" stroke="#555" stroke-width="1.2"/>
<text x="313" y="378.6" font-family="&quot;Liberation Sans&quot;, sans-serif" font-size="11.5" fill="#333" text-anchor="end">0.0</text>
<line x1="283.6" y1="395.1" x2="291.2" y2="395.1" stroke="#555" stroke-width="1.2"/>
<text x="313" y="399.2" font-family="&quot;Liberation Sans&quot;, sans-serif" font-size="11.5" fill="#333" text-anchor="end">-0.2</text>
<line x1="283.6" y1="415.7" x2="291.2" y2="415.7" stroke="#555" stroke-width="1.2"/>
<text x="313" y="419.8" font-family="&quot;Liberation Sans&quot;, sans-serif" font-size="11.5" fill="#333" text-anchor="end">-0.4</text>
<line x1="283.6" y1="436.3" x2="291.2" y2="436.3" stroke="#555" stroke-width="1.2"/>
<text x="313" y="440.4" font-family="&quot;Liberation Sans&quot;, sans-serif" font-size="11.5" fill="#333" text-anchor="end">-0.6</text>
<line x1="283.6" y1="456.9" x2="291.2" y2="456.9" stroke="#555" stroke-width="1.2"/>
<text x="313" y="461.0" font-family="&quot;Liberation Sans&quot;, sans-serif" font-size="11.5" fill="#333" text-anchor="end">-0.8</text>
<text x="0" y="0" font-family="&quot;Liberation Sans&quot;, sans-serif" font-size="12.6" fill="#333" text-anchor="middle" transform="translate(334.6 373.5) rotate(-90)">Deg</text>
</svg>
</body></html>
